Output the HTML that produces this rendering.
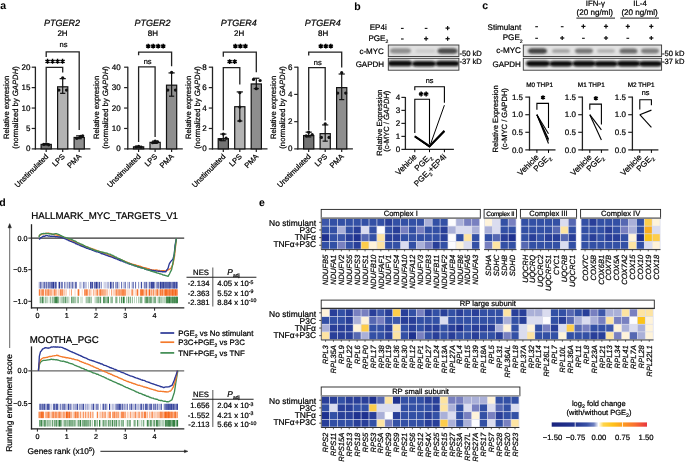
<!DOCTYPE html>
<html><head><meta charset="utf-8"><style>
html,body{margin:0;padding:0;background:#fff;}
body{width:685px;height:462px;overflow:hidden;}
svg{display:block;font-family:"Liberation Sans", sans-serif;opacity:0.999;text-rendering:geometricPrecision;}
text{stroke:#000;stroke-width:0.22px;stroke-linejoin:round;}
text[font-weight=bold]{stroke-width:0.05px;}
</style></head><body>
<svg width="685" height="462" viewBox="0 0 685 462">
<rect width="685" height="462" fill="#fff"/>
<text x="0.30" y="9.40" font-size="10.5" font-weight="bold">a</text>
<text x="354.30" y="9.90" font-size="10.5" font-weight="bold">b</text>
<text x="482.30" y="9.40" font-size="10.5" font-weight="bold">c</text>
<text x="-0.70" y="205.80" font-size="10.5" font-weight="bold">d</text>
<text x="258.90" y="205.60" font-size="10.5" font-weight="bold">e</text>
<line x1="35.40" y1="66.70" x2="35.40" y2="149.50" stroke="#222" stroke-width="1.3"/>
<line x1="34.80" y1="148.90" x2="90.40" y2="148.90" stroke="#222" stroke-width="1.3"/>
<line x1="31.70" y1="148.90" x2="35.40" y2="148.90" stroke="#222" stroke-width="1.2"/>
<text x="30.50" y="151.40" font-size="8.0" text-anchor="end">0</text>
<line x1="31.70" y1="128.47" x2="35.40" y2="128.47" stroke="#222" stroke-width="1.2"/>
<text x="30.50" y="130.97" font-size="8.0" text-anchor="end">5</text>
<line x1="31.70" y1="108.05" x2="35.40" y2="108.05" stroke="#222" stroke-width="1.2"/>
<text x="30.50" y="110.55" font-size="8.0" text-anchor="end">10</text>
<line x1="31.70" y1="87.62" x2="35.40" y2="87.62" stroke="#222" stroke-width="1.2"/>
<text x="30.50" y="90.12" font-size="8.0" text-anchor="end">15</text>
<line x1="31.70" y1="67.20" x2="35.40" y2="67.20" stroke="#222" stroke-width="1.2"/>
<text x="30.50" y="69.70" font-size="8.0" text-anchor="end">20</text>
<rect x="41.10" y="144.41" width="10.20" height="4.49" fill="#737373" stroke="#111" stroke-width="1.2"/>
<line x1="46.20" y1="143.79" x2="46.20" y2="144.81" stroke="#111" stroke-width="1.2"/>
<line x1="43.10" y1="143.79" x2="49.30" y2="143.79" stroke="#111" stroke-width="1.2"/>
<line x1="43.60" y1="144.81" x2="48.80" y2="144.81" stroke="#111" stroke-width="1.2"/>
<circle cx="43.70" cy="144.41" r="1.6" fill="#111"/>
<circle cx="46.20" cy="143.79" r="1.6" fill="#111"/>
<circle cx="48.70" cy="144.81" r="1.6" fill="#111"/>
<line x1="46.20" y1="148.90" x2="46.20" y2="152.10" stroke="#222" stroke-width="1.2"/>
<rect x="57.60" y="86.81" width="10.20" height="62.09" fill="#b3b3b3" stroke="#111" stroke-width="1.2"/>
<line x1="62.70" y1="78.64" x2="62.70" y2="93.34" stroke="#111" stroke-width="1.2"/>
<line x1="59.60" y1="78.64" x2="65.80" y2="78.64" stroke="#111" stroke-width="1.2"/>
<line x1="60.10" y1="93.34" x2="65.30" y2="93.34" stroke="#111" stroke-width="1.2"/>
<circle cx="62.70" cy="77.82" r="1.6" fill="#111"/>
<circle cx="58.90" cy="90.08" r="1.6" fill="#111"/>
<circle cx="66.50" cy="90.08" r="1.6" fill="#111"/>
<line x1="62.70" y1="148.90" x2="62.70" y2="152.10" stroke="#222" stroke-width="1.2"/>
<rect x="74.10" y="137.46" width="10.20" height="11.44" fill="#8e8e8e" stroke="#111" stroke-width="1.2"/>
<line x1="79.20" y1="135.83" x2="79.20" y2="138.69" stroke="#111" stroke-width="1.2"/>
<line x1="76.10" y1="135.83" x2="82.30" y2="135.83" stroke="#111" stroke-width="1.2"/>
<line x1="76.60" y1="138.69" x2="81.80" y2="138.69" stroke="#111" stroke-width="1.2"/>
<circle cx="76.70" cy="138.28" r="1.6" fill="#111"/>
<circle cx="80.70" cy="136.24" r="1.6" fill="#111"/>
<circle cx="82.70" cy="135.83" r="1.6" fill="#111"/>
<line x1="79.20" y1="148.90" x2="79.20" y2="152.10" stroke="#222" stroke-width="1.2"/>
<text x="48.80" y="157.00" font-size="7.5" text-anchor="end" transform="rotate(-45 48.80 157.00)">Unstimulated</text>
<text x="65.30" y="157.00" font-size="7.5" text-anchor="end" transform="rotate(-45 65.30 157.00)">LPS</text>
<text x="81.80" y="157.00" font-size="7.5" text-anchor="end" transform="rotate(-45 81.80 157.00)">PMA</text>
<text x="62.10" y="26.00" font-size="9.0" text-anchor="middle" font-style="italic">PTGER2</text>
<text x="62.50" y="35.70" font-size="8.0" text-anchor="middle">2H</text>
<text x="9.10" y="107.45" font-size="7.7" text-anchor="middle" transform="rotate(-90 9.10 107.45)">Relative expresion</text>
<text x="17.80" y="107.45" font-size="7.7" text-anchor="middle" transform="rotate(-90 17.80 107.45)">(normalized by <tspan font-style="italic">GAPDH</tspan>)</text>
<path d="M46.20 57.00 V51.80 H79.20 V130.00" stroke="#222" stroke-width="1.3" fill="none"/>
<text x="63.50" y="46.60" font-size="7.5" text-anchor="middle">ns</text>
<path d="M46.20 142.00 V67.30 H62.70 V72.60" stroke="#222" stroke-width="1.3" fill="none"/>
<path d="M47.55 58.85 L47.55 63.75 M45.43 60.07 L49.67 62.52 M49.67 60.07 L45.43 62.52 " stroke="#000" stroke-width="1.45" fill="none"/>
<path d="M52.55 58.85 L52.55 63.75 M50.43 60.07 L54.67 62.52 M54.67 60.07 L50.43 62.52 " stroke="#000" stroke-width="1.45" fill="none"/>
<path d="M57.55 58.85 L57.55 63.75 M55.43 60.07 L59.67 62.52 M59.67 60.07 L55.43 62.52 " stroke="#000" stroke-width="1.45" fill="none"/>
<path d="M62.55 58.85 L62.55 63.75 M60.43 60.07 L64.67 62.52 M64.67 60.07 L60.43 62.52 " stroke="#000" stroke-width="1.45" fill="none"/>
<line x1="127.80" y1="66.70" x2="127.80" y2="149.50" stroke="#222" stroke-width="1.3"/>
<line x1="127.20" y1="148.90" x2="182.80" y2="148.90" stroke="#222" stroke-width="1.3"/>
<line x1="124.10" y1="148.90" x2="127.80" y2="148.90" stroke="#222" stroke-width="1.2"/>
<text x="120.60" y="151.40" font-size="8.0" text-anchor="end">0</text>
<line x1="124.10" y1="128.47" x2="127.80" y2="128.47" stroke="#222" stroke-width="1.2"/>
<text x="120.60" y="130.97" font-size="8.0" text-anchor="end">10</text>
<line x1="124.10" y1="108.05" x2="127.80" y2="108.05" stroke="#222" stroke-width="1.2"/>
<text x="120.60" y="110.55" font-size="8.0" text-anchor="end">20</text>
<line x1="124.10" y1="87.62" x2="127.80" y2="87.62" stroke="#222" stroke-width="1.2"/>
<text x="120.60" y="90.12" font-size="8.0" text-anchor="end">30</text>
<line x1="124.10" y1="67.20" x2="127.80" y2="67.20" stroke="#222" stroke-width="1.2"/>
<text x="120.60" y="69.70" font-size="8.0" text-anchor="end">40</text>
<rect x="133.50" y="146.86" width="10.20" height="2.04" fill="#737373" stroke="#111" stroke-width="1.2"/>
<line x1="138.60" y1="146.45" x2="138.60" y2="147.06" stroke="#111" stroke-width="1.2"/>
<line x1="135.50" y1="146.45" x2="141.70" y2="146.45" stroke="#111" stroke-width="1.2"/>
<line x1="136.00" y1="147.06" x2="141.20" y2="147.06" stroke="#111" stroke-width="1.2"/>
<circle cx="136.10" cy="146.86" r="1.6" fill="#111"/>
<circle cx="138.60" cy="146.24" r="1.6" fill="#111"/>
<circle cx="141.10" cy="147.06" r="1.6" fill="#111"/>
<line x1="138.60" y1="148.90" x2="138.60" y2="152.10" stroke="#222" stroke-width="1.2"/>
<rect x="150.00" y="142.36" width="10.20" height="6.54" fill="#b3b3b3" stroke="#111" stroke-width="1.2"/>
<line x1="155.10" y1="141.14" x2="155.10" y2="143.39" stroke="#111" stroke-width="1.2"/>
<line x1="152.00" y1="141.14" x2="158.20" y2="141.14" stroke="#111" stroke-width="1.2"/>
<line x1="152.50" y1="143.39" x2="157.70" y2="143.39" stroke="#111" stroke-width="1.2"/>
<circle cx="152.60" cy="142.77" r="1.6" fill="#111"/>
<circle cx="155.10" cy="141.14" r="1.6" fill="#111"/>
<circle cx="157.60" cy="141.96" r="1.6" fill="#111"/>
<line x1="155.10" y1="148.90" x2="155.10" y2="152.10" stroke="#222" stroke-width="1.2"/>
<rect x="166.50" y="85.17" width="10.20" height="63.73" fill="#8e8e8e" stroke="#111" stroke-width="1.2"/>
<line x1="171.60" y1="72.92" x2="171.60" y2="96.20" stroke="#111" stroke-width="1.2"/>
<line x1="168.50" y1="72.92" x2="174.70" y2="72.92" stroke="#111" stroke-width="1.2"/>
<line x1="169.00" y1="96.20" x2="174.20" y2="96.20" stroke="#111" stroke-width="1.2"/>
<circle cx="171.60" cy="72.31" r="1.6" fill="#111"/>
<circle cx="167.80" cy="90.08" r="1.6" fill="#111"/>
<circle cx="175.40" cy="90.08" r="1.6" fill="#111"/>
<line x1="171.60" y1="148.90" x2="171.60" y2="152.10" stroke="#222" stroke-width="1.2"/>
<text x="141.20" y="157.00" font-size="7.5" text-anchor="end" transform="rotate(-45 141.20 157.00)">Unstimulated</text>
<text x="157.70" y="157.00" font-size="7.5" text-anchor="end" transform="rotate(-45 157.70 157.00)">LPS</text>
<text x="174.20" y="157.00" font-size="7.5" text-anchor="end" transform="rotate(-45 174.20 157.00)">PMA</text>
<text x="152.50" y="26.00" font-size="9.0" text-anchor="middle" font-style="italic">PTGER2</text>
<text x="152.90" y="35.70" font-size="8.0" text-anchor="middle">8H</text>
<text x="98.90" y="107.45" font-size="7.7" text-anchor="middle" transform="rotate(-90 98.90 107.45)">Relative expresion</text>
<text x="107.60" y="107.45" font-size="7.7" text-anchor="middle" transform="rotate(-90 107.60 107.45)">(normalized by <tspan font-style="italic">GAPDH</tspan>)</text>
<path d="M138.60 55.20 V52.10 H171.60 V66.30" stroke="#222" stroke-width="1.3" fill="none"/>
<path d="M148.20 43.65 L148.20 48.55 M146.08 44.88 L150.32 47.33 M150.32 44.88 L146.08 47.33 " stroke="#000" stroke-width="1.45" fill="none"/>
<path d="M153.20 43.65 L153.20 48.55 M151.08 44.88 L155.32 47.33 M155.32 44.88 L151.08 47.33 " stroke="#000" stroke-width="1.45" fill="none"/>
<path d="M158.20 43.65 L158.20 48.55 M156.08 44.88 L160.32 47.33 M160.32 44.88 L156.08 47.33 " stroke="#000" stroke-width="1.45" fill="none"/>
<path d="M163.20 43.65 L163.20 48.55 M161.08 44.88 L165.32 47.33 M165.32 44.88 L161.08 47.33 " stroke="#000" stroke-width="1.45" fill="none"/>
<path d="M138.60 142.00 V66.90 H155.10 V137.10" stroke="#222" stroke-width="1.3" fill="none"/>
<text x="147.65" y="63.80" font-size="7.5" text-anchor="middle">ns</text>
<line x1="212.50" y1="66.70" x2="212.50" y2="149.50" stroke="#222" stroke-width="1.3"/>
<line x1="211.90" y1="148.90" x2="267.50" y2="148.90" stroke="#222" stroke-width="1.3"/>
<line x1="208.80" y1="148.90" x2="212.50" y2="148.90" stroke="#222" stroke-width="1.2"/>
<text x="206.60" y="151.40" font-size="8.0" text-anchor="end">0</text>
<line x1="208.80" y1="128.47" x2="212.50" y2="128.47" stroke="#222" stroke-width="1.2"/>
<text x="206.60" y="130.97" font-size="8.0" text-anchor="end">2</text>
<line x1="208.80" y1="108.05" x2="212.50" y2="108.05" stroke="#222" stroke-width="1.2"/>
<text x="206.60" y="110.55" font-size="8.0" text-anchor="end">4</text>
<line x1="208.80" y1="87.62" x2="212.50" y2="87.62" stroke="#222" stroke-width="1.2"/>
<text x="206.60" y="90.12" font-size="8.0" text-anchor="end">6</text>
<line x1="208.80" y1="67.20" x2="212.50" y2="67.20" stroke="#222" stroke-width="1.2"/>
<text x="206.60" y="69.70" font-size="8.0" text-anchor="end">8</text>
<rect x="218.20" y="138.69" width="10.20" height="10.21" fill="#737373" stroke="#111" stroke-width="1.2"/>
<line x1="223.30" y1="134.09" x2="223.30" y2="140.73" stroke="#111" stroke-width="1.2"/>
<line x1="220.20" y1="134.09" x2="226.40" y2="134.09" stroke="#111" stroke-width="1.2"/>
<line x1="220.70" y1="140.73" x2="225.90" y2="140.73" stroke="#111" stroke-width="1.2"/>
<circle cx="223.30" cy="134.09" r="1.6" fill="#111"/>
<circle cx="220.50" cy="139.71" r="1.6" fill="#111"/>
<circle cx="226.10" cy="138.18" r="1.6" fill="#111"/>
<line x1="223.30" y1="148.90" x2="223.30" y2="152.10" stroke="#222" stroke-width="1.2"/>
<rect x="234.70" y="106.72" width="10.20" height="42.18" fill="#b3b3b3" stroke="#111" stroke-width="1.2"/>
<line x1="239.80" y1="91.91" x2="239.80" y2="121.02" stroke="#111" stroke-width="1.2"/>
<line x1="236.70" y1="91.91" x2="242.90" y2="91.91" stroke="#111" stroke-width="1.2"/>
<line x1="237.20" y1="121.02" x2="242.40" y2="121.02" stroke="#111" stroke-width="1.2"/>
<circle cx="239.80" cy="92.73" r="1.6" fill="#111"/>
<circle cx="239.80" cy="107.03" r="1.6" fill="#111"/>
<circle cx="239.80" cy="120.82" r="1.6" fill="#111"/>
<line x1="239.80" y1="148.90" x2="239.80" y2="152.10" stroke="#222" stroke-width="1.2"/>
<rect x="251.20" y="83.95" width="10.20" height="64.95" fill="#8e8e8e" stroke="#111" stroke-width="1.2"/>
<line x1="256.30" y1="78.23" x2="256.30" y2="88.65" stroke="#111" stroke-width="1.2"/>
<line x1="253.20" y1="78.23" x2="259.40" y2="78.23" stroke="#111" stroke-width="1.2"/>
<line x1="253.70" y1="88.65" x2="258.90" y2="88.65" stroke="#111" stroke-width="1.2"/>
<circle cx="253.50" cy="79.45" r="1.6" fill="#111"/>
<circle cx="260.10" cy="80.48" r="1.6" fill="#111"/>
<circle cx="256.30" cy="88.65" r="1.6" fill="#111"/>
<line x1="256.30" y1="148.90" x2="256.30" y2="152.10" stroke="#222" stroke-width="1.2"/>
<text x="225.90" y="157.00" font-size="7.5" text-anchor="end" transform="rotate(-45 225.90 157.00)">Unstimulated</text>
<text x="242.40" y="157.00" font-size="7.5" text-anchor="end" transform="rotate(-45 242.40 157.00)">LPS</text>
<text x="258.90" y="157.00" font-size="7.5" text-anchor="end" transform="rotate(-45 258.90 157.00)">PMA</text>
<text x="238.80" y="26.00" font-size="9.0" text-anchor="middle" font-style="italic">PTGER4</text>
<text x="239.20" y="35.70" font-size="8.0" text-anchor="middle">2H</text>
<text x="191.10" y="107.45" font-size="7.7" text-anchor="middle" transform="rotate(-90 191.10 107.45)">Relative expresion</text>
<text x="199.80" y="107.45" font-size="7.7" text-anchor="middle" transform="rotate(-90 199.80 107.45)">(normalized by <tspan font-style="italic">GAPDH</tspan>)</text>
<path d="M223.30 56.80 V52.10 H256.30 V72.20" stroke="#222" stroke-width="1.3" fill="none"/>
<path d="M235.40 43.65 L235.40 48.55 M233.28 44.88 L237.52 47.33 M237.52 44.88 L233.28 47.33 " stroke="#000" stroke-width="1.45" fill="none"/>
<path d="M240.40 43.65 L240.40 48.55 M238.28 44.88 L242.52 47.33 M242.52 44.88 L238.28 47.33 " stroke="#000" stroke-width="1.45" fill="none"/>
<path d="M245.40 43.65 L245.40 48.55 M243.28 44.88 L247.52 47.33 M247.52 44.88 L243.28 47.33 " stroke="#000" stroke-width="1.45" fill="none"/>
<path d="M223.30 130.30 V67.60 H239.80 V84.50" stroke="#222" stroke-width="1.3" fill="none"/>
<path d="M229.65 59.15 L229.65 64.05 M227.53 60.37 L231.77 62.82 M231.77 60.37 L227.53 62.82 " stroke="#000" stroke-width="1.45" fill="none"/>
<path d="M234.65 59.15 L234.65 64.05 M232.53 60.37 L236.77 62.82 M236.77 60.37 L232.53 62.82 " stroke="#000" stroke-width="1.45" fill="none"/>
<line x1="297.90" y1="66.70" x2="297.90" y2="149.50" stroke="#222" stroke-width="1.3"/>
<line x1="297.30" y1="148.90" x2="352.90" y2="148.90" stroke="#222" stroke-width="1.3"/>
<line x1="294.20" y1="148.90" x2="297.90" y2="148.90" stroke="#222" stroke-width="1.2"/>
<text x="292.40" y="151.40" font-size="8.0" text-anchor="end">0</text>
<line x1="294.20" y1="121.67" x2="297.90" y2="121.67" stroke="#222" stroke-width="1.2"/>
<text x="292.40" y="124.17" font-size="8.0" text-anchor="end">2</text>
<line x1="294.20" y1="94.43" x2="297.90" y2="94.43" stroke="#222" stroke-width="1.2"/>
<text x="292.40" y="96.93" font-size="8.0" text-anchor="end">4</text>
<line x1="294.20" y1="67.20" x2="297.90" y2="67.20" stroke="#222" stroke-width="1.2"/>
<text x="292.40" y="69.70" font-size="8.0" text-anchor="end">6</text>
<rect x="303.60" y="135.56" width="10.20" height="13.34" fill="#737373" stroke="#111" stroke-width="1.2"/>
<line x1="308.70" y1="132.15" x2="308.70" y2="136.92" stroke="#111" stroke-width="1.2"/>
<line x1="305.60" y1="132.15" x2="311.80" y2="132.15" stroke="#111" stroke-width="1.2"/>
<line x1="306.10" y1="136.92" x2="311.30" y2="136.92" stroke="#111" stroke-width="1.2"/>
<circle cx="308.70" cy="132.15" r="1.6" fill="#111"/>
<circle cx="312.20" cy="134.60" r="1.6" fill="#111"/>
<circle cx="306.20" cy="135.96" r="1.6" fill="#111"/>
<line x1="308.70" y1="148.90" x2="308.70" y2="152.10" stroke="#222" stroke-width="1.2"/>
<rect x="320.10" y="133.65" width="10.20" height="15.25" fill="#b3b3b3" stroke="#111" stroke-width="1.2"/>
<line x1="325.20" y1="124.93" x2="325.20" y2="141.14" stroke="#111" stroke-width="1.2"/>
<line x1="322.10" y1="124.93" x2="328.30" y2="124.93" stroke="#111" stroke-width="1.2"/>
<line x1="322.60" y1="141.14" x2="327.80" y2="141.14" stroke="#111" stroke-width="1.2"/>
<circle cx="325.20" cy="123.85" r="1.6" fill="#111"/>
<circle cx="321.40" cy="137.46" r="1.6" fill="#111"/>
<circle cx="329.00" cy="137.46" r="1.6" fill="#111"/>
<line x1="325.20" y1="148.90" x2="325.20" y2="152.10" stroke="#222" stroke-width="1.2"/>
<rect x="336.60" y="87.62" width="10.20" height="61.28" fill="#8e8e8e" stroke="#111" stroke-width="1.2"/>
<line x1="341.70" y1="74.01" x2="341.70" y2="99.61" stroke="#111" stroke-width="1.2"/>
<line x1="338.60" y1="74.01" x2="344.80" y2="74.01" stroke="#111" stroke-width="1.2"/>
<line x1="339.10" y1="99.61" x2="344.30" y2="99.61" stroke="#111" stroke-width="1.2"/>
<circle cx="341.70" cy="72.65" r="1.6" fill="#111"/>
<circle cx="337.70" cy="93.07" r="1.6" fill="#111"/>
<circle cx="345.70" cy="93.07" r="1.6" fill="#111"/>
<line x1="341.70" y1="148.90" x2="341.70" y2="152.10" stroke="#222" stroke-width="1.2"/>
<text x="311.30" y="157.00" font-size="7.5" text-anchor="end" transform="rotate(-45 311.30 157.00)">Unstimulated</text>
<text x="327.80" y="157.00" font-size="7.5" text-anchor="end" transform="rotate(-45 327.80 157.00)">LPS</text>
<text x="344.30" y="157.00" font-size="7.5" text-anchor="end" transform="rotate(-45 344.30 157.00)">PMA</text>
<text x="322.80" y="26.00" font-size="9.0" text-anchor="middle" font-style="italic">PTGER4</text>
<text x="323.20" y="35.70" font-size="8.0" text-anchor="middle">8H</text>
<text x="276.50" y="107.45" font-size="7.7" text-anchor="middle" transform="rotate(-90 276.50 107.45)">Relative expresion</text>
<text x="285.20" y="107.45" font-size="7.7" text-anchor="middle" transform="rotate(-90 285.20 107.45)">(normalized by <tspan font-style="italic">GAPDH</tspan>)</text>
<path d="M308.70 55.50 V52.10 H341.70 V67.60" stroke="#222" stroke-width="1.3" fill="none"/>
<path d="M320.80 43.65 L320.80 48.55 M318.68 44.88 L322.92 47.33 M322.92 44.88 L318.68 47.33 " stroke="#000" stroke-width="1.45" fill="none"/>
<path d="M325.80 43.65 L325.80 48.55 M323.68 44.88 L327.92 47.33 M327.92 44.88 L323.68 47.33 " stroke="#000" stroke-width="1.45" fill="none"/>
<path d="M330.80 43.65 L330.80 48.55 M328.68 44.88 L332.92 47.33 M332.92 44.88 L328.68 47.33 " stroke="#000" stroke-width="1.45" fill="none"/>
<path d="M308.70 130.30 V67.60 H325.20 V120.50" stroke="#222" stroke-width="1.3" fill="none"/>
<text x="317.75" y="64.50" font-size="7.5" text-anchor="middle">ns</text>
<defs><filter id="bl" x="-50%" y="-50%" width="200%" height="200%"><feGaussianBlur stdDeviation="1.1"/></filter><filter id="bl2" x="-50%" y="-50%" width="200%" height="200%"><feGaussianBlur stdDeviation="0.7"/></filter></defs>
<text x="386.80" y="29.60" font-size="8.1" text-anchor="end">EP4i</text>
<text x="388.30" y="40.80" font-size="8.1" text-anchor="end">PGE<tspan font-size="5.02" dy="2.43">2</tspan></text>
<line x1="400.95" y1="28.40" x2="403.65" y2="28.40" stroke="#111" stroke-width="1.1"/>
<line x1="400.95" y1="39.00" x2="403.65" y2="39.00" stroke="#111" stroke-width="1.1"/>
<line x1="424.75" y1="28.40" x2="427.45" y2="28.40" stroke="#111" stroke-width="1.1"/>
<line x1="424.00" y1="38.70" x2="428.20" y2="38.70" stroke="#111" stroke-width="1.25"/>
<line x1="426.10" y1="36.60" x2="426.10" y2="40.80" stroke="#111" stroke-width="1.25"/>
<line x1="445.50" y1="28.10" x2="449.70" y2="28.10" stroke="#111" stroke-width="1.25"/>
<line x1="447.60" y1="26.00" x2="447.60" y2="30.20" stroke="#111" stroke-width="1.25"/>
<line x1="445.50" y1="38.70" x2="449.70" y2="38.70" stroke="#111" stroke-width="1.25"/>
<line x1="447.60" y1="36.60" x2="447.60" y2="40.80" stroke="#111" stroke-width="1.25"/>
<text x="383.90" y="53.50" font-size="8.0" text-anchor="end">c-MYC</text>
<text x="384.10" y="67.40" font-size="8.0" text-anchor="end">GAPDH</text>
<svg x="388.3" y="45.0" width="70.59999999999997" height="11.5" overflow="hidden"><rect x="0" y="0" width="70.59999999999997" height="11.5" fill="#e0e0e0"/>
<rect x="1.70" y="3.20" width="21.00" height="5.20" rx="4.16" ry="2.60" fill="#8e8e8e" filter="url(#bl)"/>
<rect x="27.20" y="4.00" width="20.00" height="4.00" rx="3.20" ry="2.00" fill="#cdcdcd" filter="url(#bl)"/>
<rect x="49.20" y="3.20" width="20.00" height="5.60" rx="4.48" ry="2.80" fill="#4c4c4c" filter="url(#bl)"/>
</svg>
<rect x="388.30" y="45.00" width="70.60" height="11.50" fill="none" stroke="#333" stroke-width="0.9"/>
<svg x="388.3" y="58.3" width="70.59999999999997" height="11.900000000000006" overflow="hidden"><rect x="0" y="0" width="70.59999999999997" height="11.900000000000006" fill="#ebebeb"/>
<rect x="-0.50" y="2.30" width="24.40" height="5.60" rx="4.48" ry="2.80" fill="#111" filter="url(#bl)"/>
<rect x="23.70" y="2.60" width="24.00" height="5.60" rx="4.48" ry="2.80" fill="#111" filter="url(#bl)"/>
<rect x="47.20" y="2.40" width="24.00" height="5.60" rx="4.48" ry="2.80" fill="#111" filter="url(#bl)"/>
</svg>
<rect x="388.30" y="58.30" width="70.60" height="11.90" fill="none" stroke="#333" stroke-width="0.9"/>
<text x="459.40" y="55.90" font-size="7.6">-50 kD</text>
<text x="459.40" y="63.90" font-size="7.6">-37 kD</text>
<line x1="405.40" y1="97.00" x2="405.40" y2="150.00" stroke="#222" stroke-width="1.3"/>
<line x1="404.80" y1="149.40" x2="453.90" y2="149.40" stroke="#222" stroke-width="1.3"/>
<line x1="401.40" y1="149.40" x2="405.40" y2="149.40" stroke="#222" stroke-width="1.2"/>
<text x="400.10" y="152.20" font-size="8.0" text-anchor="end">0</text>
<line x1="401.40" y1="136.40" x2="405.40" y2="136.40" stroke="#222" stroke-width="1.2"/>
<text x="400.10" y="139.20" font-size="8.0" text-anchor="end">1</text>
<line x1="401.40" y1="123.40" x2="405.40" y2="123.40" stroke="#222" stroke-width="1.2"/>
<text x="400.10" y="126.20" font-size="8.0" text-anchor="end">2</text>
<line x1="401.40" y1="110.40" x2="405.40" y2="110.40" stroke="#222" stroke-width="1.2"/>
<text x="400.10" y="113.20" font-size="8.0" text-anchor="end">3</text>
<line x1="401.40" y1="97.40" x2="405.40" y2="97.40" stroke="#222" stroke-width="1.2"/>
<text x="400.10" y="100.20" font-size="8.0" text-anchor="end">4</text>
<line x1="414.80" y1="149.40" x2="414.80" y2="152.20" stroke="#000" stroke-width="1.0"/>
<line x1="429.50" y1="149.40" x2="429.50" y2="152.20" stroke="#000" stroke-width="1.0"/>
<line x1="444.40" y1="149.40" x2="444.40" y2="152.20" stroke="#000" stroke-width="1.0"/>
<path d="M414.8 136.40 L429.5 146.15 L444.4 130.81" stroke="#000" stroke-width="2.0" fill="none" stroke-linejoin="round"/>
<path d="M414.8 136.40 L429.5 146.80 L444.4 131.46" stroke="#000" stroke-width="1.4" fill="none"/>
<path d="M414.8 136.40 L429.5 147.06 L444.4 105.20" stroke="#000" stroke-width="1.0" fill="none"/>
<path d="M414.8 133.0 V99.3 H429.5 V144.3" stroke="#000" stroke-width="1.1" fill="none"/>
<path d="M421.15 91.55 L421.15 96.45 M419.03 92.78 L423.27 95.22 M423.27 92.78 L419.03 95.22 " stroke="#000" stroke-width="1.45" fill="none"/>
<path d="M426.15 91.55 L426.15 96.45 M424.03 92.78 L428.27 95.22 M428.27 92.78 L424.03 95.22 " stroke="#000" stroke-width="1.45" fill="none"/>
<path d="M414.8 90.3 V86.8 H444.4 V102.7" stroke="#000" stroke-width="1.1" fill="none"/>
<text x="429.60" y="83.30" font-size="7.3" text-anchor="middle">ns</text>
<text x="381.60" y="122.60" font-size="7.5" text-anchor="middle" transform="rotate(-90 381.60 122.60)">Relative Expression</text>
<text x="389.40" y="121.20" font-size="7.5" text-anchor="middle" transform="rotate(-90 389.40 121.20)">(c-MYC / <tspan font-style="italic">GAPDH</tspan>)</text>
<text x="417.20" y="157.40" font-size="8.1" text-anchor="end" transform="rotate(-45 417.20 157.40)">Vehicle</text>
<text x="431.90" y="157.40" font-size="8.1" text-anchor="end" transform="rotate(-45 431.90 157.40)">PGE<tspan font-size="5.02" dy="2.43">2</tspan></text>
<text x="446.80" y="157.40" font-size="8.1" text-anchor="end" transform="rotate(-45 446.80 157.40)">PGE<tspan font-size="5.0" dy="2.4">2</tspan><tspan dy="-2.4">+EP4i</tspan></text>
<text x="521.30" y="29.70" font-size="8.1" text-anchor="end">Stimulant</text>
<text x="522.60" y="40.30" font-size="8.1" text-anchor="end">PGE<tspan font-size="5.02" dy="2.43">2</tspan></text>
<line x1="535.25" y1="26.70" x2="537.95" y2="26.70" stroke="#111" stroke-width="1.1"/>
<line x1="535.25" y1="38.30" x2="537.95" y2="38.30" stroke="#111" stroke-width="1.1"/>
<line x1="560.85" y1="26.70" x2="563.55" y2="26.70" stroke="#111" stroke-width="1.1"/>
<line x1="560.10" y1="38.00" x2="564.30" y2="38.00" stroke="#111" stroke-width="1.25"/>
<line x1="562.20" y1="35.90" x2="562.20" y2="40.10" stroke="#111" stroke-width="1.25"/>
<line x1="581.30" y1="26.40" x2="585.50" y2="26.40" stroke="#111" stroke-width="1.25"/>
<line x1="583.40" y1="24.30" x2="583.40" y2="28.50" stroke="#111" stroke-width="1.25"/>
<line x1="582.05" y1="38.30" x2="584.75" y2="38.30" stroke="#111" stroke-width="1.1"/>
<line x1="603.90" y1="26.40" x2="608.10" y2="26.40" stroke="#111" stroke-width="1.25"/>
<line x1="606.00" y1="24.30" x2="606.00" y2="28.50" stroke="#111" stroke-width="1.25"/>
<line x1="603.90" y1="38.00" x2="608.10" y2="38.00" stroke="#111" stroke-width="1.25"/>
<line x1="606.00" y1="35.90" x2="606.00" y2="40.10" stroke="#111" stroke-width="1.25"/>
<line x1="625.70" y1="26.40" x2="629.90" y2="26.40" stroke="#111" stroke-width="1.25"/>
<line x1="627.80" y1="24.30" x2="627.80" y2="28.50" stroke="#111" stroke-width="1.25"/>
<line x1="626.45" y1="38.30" x2="629.15" y2="38.30" stroke="#111" stroke-width="1.1"/>
<line x1="649.20" y1="26.40" x2="653.40" y2="26.40" stroke="#111" stroke-width="1.25"/>
<line x1="651.30" y1="24.30" x2="651.30" y2="28.50" stroke="#111" stroke-width="1.25"/>
<line x1="649.20" y1="38.00" x2="653.40" y2="38.00" stroke="#111" stroke-width="1.25"/>
<line x1="651.30" y1="35.90" x2="651.30" y2="40.10" stroke="#111" stroke-width="1.25"/>
<text x="595.30" y="6.00" font-size="7.8" text-anchor="middle">IFN-γ</text>
<text x="594.70" y="15.30" font-size="8.1" text-anchor="middle">(20 ng/ml)</text>
<line x1="576.40" y1="18.10" x2="615.00" y2="18.10" stroke="#000" stroke-width="0.9"/>
<text x="640.00" y="6.00" font-size="7.8" text-anchor="middle">IL-4</text>
<text x="639.60" y="15.30" font-size="8.1" text-anchor="middle">(20 ng/ml)</text>
<line x1="620.40" y1="18.10" x2="659.00" y2="18.10" stroke="#000" stroke-width="0.9"/>
<text x="520.90" y="53.40" font-size="8.1" text-anchor="end">c-MYC</text>
<text x="520.90" y="67.20" font-size="8.0" text-anchor="end">GAPDH</text>
<svg x="523.3" y="45.0" width="138.30000000000007" height="11.5" overflow="hidden"><rect x="0" y="0" width="138.30000000000007" height="11.5" fill="#e2e2e2"/>
<rect x="4.70" y="3.30" width="19.00" height="5.40" rx="4.32" ry="2.70" fill="#444" filter="url(#bl)"/>
<rect x="28.70" y="3.90" width="18.00" height="4.20" rx="3.36" ry="2.10" fill="#a6a6a6" filter="url(#bl)"/>
<rect x="51.70" y="3.60" width="18.00" height="4.80" rx="3.84" ry="2.40" fill="#767676" filter="url(#bl)"/>
<rect x="73.70" y="4.10" width="18.00" height="3.80" rx="3.04" ry="1.90" fill="#b4b4b4" filter="url(#bl)"/>
<rect x="96.20" y="3.40" width="18.00" height="5.20" rx="4.16" ry="2.60" fill="#6a6a6a" filter="url(#bl)"/>
<rect x="117.70" y="3.60" width="18.00" height="4.80" rx="3.84" ry="2.40" fill="#7e7e7e" filter="url(#bl)"/>
</svg>
<rect x="523.30" y="45.00" width="138.30" height="11.50" fill="none" stroke="#333" stroke-width="0.9"/>
<svg x="523.3" y="58.3" width="138.30000000000007" height="11.900000000000006" overflow="hidden"><rect x="0" y="0" width="138.30000000000007" height="11.900000000000006" fill="#ececec"/>
<rect x="2.70" y="2.50" width="24.00" height="5.60" rx="4.48" ry="2.80" fill="#0a0a0a" filter="url(#bl)"/>
<rect x="26.10" y="2.60" width="23.20" height="5.60" rx="4.48" ry="2.80" fill="#0a0a0a" filter="url(#bl)"/>
<rect x="49.10" y="2.50" width="23.20" height="5.60" rx="4.48" ry="2.80" fill="#0a0a0a" filter="url(#bl)"/>
<rect x="71.10" y="2.70" width="23.20" height="5.60" rx="4.48" ry="2.80" fill="#0a0a0a" filter="url(#bl)"/>
<rect x="93.60" y="2.50" width="23.20" height="5.60" rx="4.48" ry="2.80" fill="#0a0a0a" filter="url(#bl)"/>
<rect x="115.60" y="2.60" width="23.20" height="5.60" rx="4.48" ry="2.80" fill="#0a0a0a" filter="url(#bl)"/>
</svg>
<rect x="523.30" y="58.30" width="138.30" height="11.90" fill="none" stroke="#333" stroke-width="0.9"/>
<text x="662.00" y="55.80" font-size="7.6">-50 kD</text>
<text x="662.00" y="64.40" font-size="7.6">-37 kD</text>
<line x1="529.50" y1="96.60" x2="529.50" y2="150.50" stroke="#222" stroke-width="1.3"/>
<line x1="528.90" y1="149.90" x2="555.50" y2="149.90" stroke="#222" stroke-width="1.3"/>
<line x1="525.30" y1="149.90" x2="529.50" y2="149.90" stroke="#222" stroke-width="1.2"/>
<text x="523.00" y="152.60" font-size="8.0" text-anchor="end">0.0</text>
<line x1="525.30" y1="132.30" x2="529.50" y2="132.30" stroke="#222" stroke-width="1.2"/>
<text x="523.00" y="135.00" font-size="8.0" text-anchor="end">0.5</text>
<line x1="525.30" y1="114.70" x2="529.50" y2="114.70" stroke="#222" stroke-width="1.2"/>
<text x="523.00" y="117.40" font-size="8.0" text-anchor="end">1.0</text>
<line x1="525.30" y1="97.10" x2="529.50" y2="97.10" stroke="#222" stroke-width="1.2"/>
<text x="523.00" y="99.80" font-size="8.0" text-anchor="end">1.5</text>
<line x1="536.90" y1="149.90" x2="536.90" y2="152.90" stroke="#000" stroke-width="1.0"/>
<line x1="548.50" y1="149.90" x2="548.50" y2="152.90" stroke="#000" stroke-width="1.0"/>
<line x1="536.90" y1="114.70" x2="548.50" y2="133.71" stroke="#000" stroke-width="1.1"/>
<line x1="536.90" y1="114.70" x2="548.50" y2="138.99" stroke="#000" stroke-width="1.1"/>
<line x1="536.90" y1="114.70" x2="548.50" y2="140.40" stroke="#000" stroke-width="1.1"/>
<line x1="536.90" y1="114.70" x2="548.50" y2="143.56" stroke="#000" stroke-width="1.1"/>
<path d="M536.90 109.70 V103.40 H548.50 V128.00" stroke="#000" stroke-width="1.1" fill="none"/>
<path d="M543.00 95.20 L543.00 99.80 M541.01 96.35 L544.99 98.65 M544.99 96.35 L541.01 98.65 " stroke="#000" stroke-width="1.35" fill="none"/>
<text x="539.60" y="86.60" font-size="6.4" text-anchor="middle">M0 THP1</text>
<text x="539.30" y="157.90" font-size="8.1" text-anchor="end" transform="rotate(-45 539.30 157.90)">Vehicle</text>
<text x="550.90" y="157.90" font-size="8.1" text-anchor="end" transform="rotate(-45 550.90 157.90)">PGE<tspan font-size="5.02" dy="2.43">2</tspan></text>
<line x1="582.40" y1="96.60" x2="582.40" y2="150.50" stroke="#222" stroke-width="1.3"/>
<line x1="581.80" y1="149.90" x2="608.40" y2="149.90" stroke="#222" stroke-width="1.3"/>
<line x1="578.20" y1="149.90" x2="582.40" y2="149.90" stroke="#222" stroke-width="1.2"/>
<text x="575.90" y="152.60" font-size="8.0" text-anchor="end">0.0</text>
<line x1="578.20" y1="132.30" x2="582.40" y2="132.30" stroke="#222" stroke-width="1.2"/>
<text x="575.90" y="135.00" font-size="8.0" text-anchor="end">0.5</text>
<line x1="578.20" y1="114.70" x2="582.40" y2="114.70" stroke="#222" stroke-width="1.2"/>
<text x="575.90" y="117.40" font-size="8.0" text-anchor="end">1.0</text>
<line x1="578.20" y1="97.10" x2="582.40" y2="97.10" stroke="#222" stroke-width="1.2"/>
<text x="575.90" y="99.80" font-size="8.0" text-anchor="end">1.5</text>
<line x1="589.80" y1="149.90" x2="589.80" y2="152.90" stroke="#000" stroke-width="1.0"/>
<line x1="601.40" y1="149.90" x2="601.40" y2="152.90" stroke="#000" stroke-width="1.0"/>
<line x1="589.80" y1="114.70" x2="601.40" y2="129.84" stroke="#000" stroke-width="1.1"/>
<line x1="589.80" y1="114.70" x2="601.40" y2="140.04" stroke="#000" stroke-width="1.1"/>
<path d="M589.80 109.70 V104.10 H601.40 V124.50" stroke="#000" stroke-width="1.1" fill="none"/>
<path d="M595.90 95.90 L595.90 100.50 M593.91 97.05 L597.89 99.35 M597.89 97.05 L593.91 99.35 " stroke="#000" stroke-width="1.35" fill="none"/>
<text x="591.30" y="86.60" font-size="6.4" text-anchor="middle">M1 THP1</text>
<text x="592.20" y="157.90" font-size="8.1" text-anchor="end" transform="rotate(-45 592.20 157.90)">Vehicle</text>
<text x="603.80" y="157.90" font-size="8.1" text-anchor="end" transform="rotate(-45 603.80 157.90)">PGE<tspan font-size="5.02" dy="2.43">2</tspan></text>
<line x1="632.40" y1="96.60" x2="632.40" y2="150.50" stroke="#222" stroke-width="1.3"/>
<line x1="631.80" y1="149.90" x2="658.40" y2="149.90" stroke="#222" stroke-width="1.3"/>
<line x1="628.20" y1="149.90" x2="632.40" y2="149.90" stroke="#222" stroke-width="1.2"/>
<text x="625.90" y="152.60" font-size="8.0" text-anchor="end">0.0</text>
<line x1="628.20" y1="132.30" x2="632.40" y2="132.30" stroke="#222" stroke-width="1.2"/>
<text x="625.90" y="135.00" font-size="8.0" text-anchor="end">0.5</text>
<line x1="628.20" y1="114.70" x2="632.40" y2="114.70" stroke="#222" stroke-width="1.2"/>
<text x="625.90" y="117.40" font-size="8.0" text-anchor="end">1.0</text>
<line x1="628.20" y1="97.10" x2="632.40" y2="97.10" stroke="#222" stroke-width="1.2"/>
<text x="625.90" y="99.80" font-size="8.0" text-anchor="end">1.5</text>
<line x1="639.80" y1="149.90" x2="639.80" y2="152.90" stroke="#000" stroke-width="1.0"/>
<line x1="651.40" y1="149.90" x2="651.40" y2="152.90" stroke="#000" stroke-width="1.0"/>
<line x1="639.80" y1="114.70" x2="651.40" y2="110.12" stroke="#000" stroke-width="1.1"/>
<line x1="639.80" y1="114.70" x2="651.40" y2="127.37" stroke="#000" stroke-width="1.1"/>
<path d="M639.80 109.60 V99.80 H651.40 V105.20" stroke="#000" stroke-width="1.1" fill="none"/>
<text x="645.60" y="95.40" font-size="7.3" text-anchor="middle">ns</text>
<text x="641.10" y="86.60" font-size="6.4" text-anchor="middle">M2 THP1</text>
<text x="642.20" y="157.90" font-size="8.1" text-anchor="end" transform="rotate(-45 642.20 157.90)">Vehicle</text>
<text x="653.80" y="157.90" font-size="8.1" text-anchor="end" transform="rotate(-45 653.80 157.90)">PGE<tspan font-size="5.02" dy="2.43">2</tspan></text>
<text x="498.30" y="118.90" font-size="7.6" text-anchor="middle" transform="rotate(-90 498.30 118.90)">Relative Expression</text>
<text x="507.00" y="118.90" font-size="7.6" text-anchor="middle" transform="rotate(-90 507.00 118.90)">(c-MYC / GAPDH)</text>
<line x1="31.50" y1="224.20" x2="31.50" y2="308.50" stroke="#222" stroke-width="1.3"/>
<line x1="30.90" y1="307.90" x2="184.30" y2="307.90" stroke="#222" stroke-width="1.3"/>
<line x1="28.30" y1="238.10" x2="31.50" y2="238.10" stroke="#222" stroke-width="1.0"/>
<text x="27.50" y="240.60" font-size="7.2" text-anchor="end">0.0</text>
<line x1="28.30" y1="269.70" x2="31.50" y2="269.70" stroke="#222" stroke-width="1.0"/>
<text x="27.50" y="272.20" font-size="7.2" text-anchor="end">−0.5</text>
<line x1="28.30" y1="301.30" x2="31.50" y2="301.30" stroke="#222" stroke-width="1.0"/>
<text x="27.50" y="303.80" font-size="7.2" text-anchor="end">−1.0</text>
<line x1="37.40" y1="307.90" x2="37.40" y2="310.70" stroke="#222" stroke-width="1.0"/>
<text x="37.40" y="318.30" font-size="7.2" text-anchor="middle">0</text>
<line x1="66.70" y1="307.90" x2="66.70" y2="310.70" stroke="#222" stroke-width="1.0"/>
<text x="66.70" y="318.30" font-size="7.2" text-anchor="middle">1</text>
<line x1="96.00" y1="307.90" x2="96.00" y2="310.70" stroke="#222" stroke-width="1.0"/>
<text x="96.00" y="318.30" font-size="7.2" text-anchor="middle">2</text>
<line x1="125.30" y1="307.90" x2="125.30" y2="310.70" stroke="#222" stroke-width="1.0"/>
<text x="125.30" y="318.30" font-size="7.2" text-anchor="middle">3</text>
<line x1="154.60" y1="307.90" x2="154.60" y2="310.70" stroke="#222" stroke-width="1.0"/>
<text x="154.60" y="318.30" font-size="7.2" text-anchor="middle">4</text>
<text x="31.20" y="218.90" font-size="9.7">HALLMARK_MYC_TARGETS_V1</text>
<line x1="31.50" y1="238.10" x2="184.20" y2="238.10" stroke="#333" stroke-width="1.1"/>
<rect x="38.60" y="281.9" width="1.1" height="6.60" fill="#2a3896" fill-opacity="0.3"/><rect x="39.80" y="281.9" width="0.7" height="6.60" fill="#2a3896" fill-opacity="1.0"/><rect x="40.40" y="281.9" width="0.7" height="6.60" fill="#2a3896" fill-opacity="0.7"/><rect x="41.60" y="281.9" width="0.6" height="6.60" fill="#2a3896" fill-opacity="1.0"/><rect x="42.80" y="281.9" width="0.7" height="6.60" fill="#2a3896" fill-opacity="0.7"/><rect x="43.40" y="281.9" width="0.6" height="6.60" fill="#2a3896" fill-opacity="0.3"/><rect x="44.00" y="281.9" width="0.7" height="6.60" fill="#2a3896" fill-opacity="1.0"/><rect x="44.60" y="281.9" width="1.1" height="6.60" fill="#2a3896" fill-opacity="0.3"/><rect x="45.80" y="281.9" width="0.7" height="6.60" fill="#2a3896" fill-opacity="1.0"/><rect x="46.40" y="281.9" width="0.6" height="6.60" fill="#2a3896" fill-opacity="0.7"/><rect x="47.60" y="281.9" width="1.1" height="6.60" fill="#2a3896" fill-opacity="0.85"/><rect x="48.20" y="281.9" width="0.6" height="6.60" fill="#2a3896" fill-opacity="0.3"/><rect x="49.40" y="281.9" width="0.9" height="6.60" fill="#2a3896" fill-opacity="1.0"/><rect x="50.60" y="281.9" width="1.1" height="6.60" fill="#2a3896" fill-opacity="1.0"/><rect x="51.80" y="281.9" width="0.6" height="6.60" fill="#2a3896" fill-opacity="1.0"/><rect x="52.40" y="281.9" width="0.7" height="6.60" fill="#2a3896" fill-opacity="1.0"/><rect x="53.00" y="281.9" width="1.1" height="6.60" fill="#2a3896" fill-opacity="1.0"/><rect x="53.60" y="281.9" width="1.1" height="6.60" fill="#2a3896" fill-opacity="0.4"/><rect x="54.80" y="281.9" width="0.9" height="6.60" fill="#2a3896" fill-opacity="1.0"/><rect x="55.40" y="281.9" width="0.9" height="6.60" fill="#2a3896" fill-opacity="0.85"/><rect x="56.00" y="281.9" width="0.6" height="6.60" fill="#2a3896" fill-opacity="0.7"/><rect x="58.40" y="281.9" width="0.7" height="6.60" fill="#2a3896" fill-opacity="0.7"/><rect x="59.00" y="281.9" width="1.1" height="6.60" fill="#2a3896" fill-opacity="1.0"/><rect x="60.80" y="281.9" width="1.1" height="6.60" fill="#2a3896" fill-opacity="0.7"/><rect x="62.00" y="281.9" width="0.6" height="6.60" fill="#2a3896" fill-opacity="1.0"/><rect x="64.40" y="281.9" width="0.7" height="6.60" fill="#2a3896" fill-opacity="1.0"/><rect x="65.60" y="281.9" width="0.6" height="6.60" fill="#2a3896" fill-opacity="0.55"/><rect x="66.80" y="281.9" width="0.9" height="6.60" fill="#2a3896" fill-opacity="0.7"/><rect x="68.00" y="281.9" width="0.9" height="6.60" fill="#2a3896" fill-opacity="0.3"/><rect x="69.20" y="281.9" width="0.7" height="6.60" fill="#2a3896" fill-opacity="1.0"/><rect x="70.40" y="281.9" width="1.1" height="6.60" fill="#2a3896" fill-opacity="0.55"/><rect x="71.60" y="281.9" width="0.7" height="6.60" fill="#2a3896" fill-opacity="0.3"/><rect x="72.20" y="281.9" width="0.7" height="6.60" fill="#2a3896" fill-opacity="1.0"/><rect x="73.40" y="281.9" width="0.7" height="6.60" fill="#2a3896" fill-opacity="0.55"/><rect x="74.60" y="281.9" width="0.7" height="6.60" fill="#2a3896" fill-opacity="0.4"/><rect x="75.00" y="281.9" width="1.1" height="6.60" fill="#2a3896" fill-opacity="0.7"/><rect x="76.20" y="281.9" width="0.6" height="6.60" fill="#2a3896" fill-opacity="1.0"/><rect x="79.20" y="281.9" width="1.1" height="6.60" fill="#2a3896" fill-opacity="0.3"/><rect x="80.40" y="281.9" width="0.6" height="6.60" fill="#2a3896" fill-opacity="0.4"/><rect x="81.60" y="281.9" width="0.6" height="6.60" fill="#2a3896" fill-opacity="0.4"/><rect x="83.40" y="281.9" width="0.6" height="6.60" fill="#2a3896" fill-opacity="1.0"/><rect x="84.60" y="281.9" width="0.6" height="6.60" fill="#2a3896" fill-opacity="1.0"/><rect x="85.80" y="281.9" width="0.7" height="6.60" fill="#2a3896" fill-opacity="0.55"/><rect x="88.20" y="281.9" width="0.7" height="6.60" fill="#2a3896" fill-opacity="0.4"/><rect x="90.00" y="281.9" width="0.9" height="6.60" fill="#2a3896" fill-opacity="0.85"/><rect x="90.00" y="281.9" width="0.6" height="6.60" fill="#2a3896" fill-opacity="1.0"/><rect x="91.20" y="281.9" width="0.7" height="6.60" fill="#2a3896" fill-opacity="0.85"/><rect x="91.80" y="281.9" width="1.1" height="6.60" fill="#2a3896" fill-opacity="1.0"/><rect x="93.60" y="281.9" width="0.7" height="6.60" fill="#2a3896" fill-opacity="0.4"/><rect x="94.20" y="281.9" width="0.9" height="6.60" fill="#2a3896" fill-opacity="0.85"/><rect x="95.40" y="281.9" width="1.1" height="6.60" fill="#2a3896" fill-opacity="1.0"/><rect x="96.00" y="281.9" width="1.1" height="6.60" fill="#2a3896" fill-opacity="1.0"/><rect x="97.20" y="281.9" width="1.1" height="6.60" fill="#2a3896" fill-opacity="0.7"/><rect x="97.80" y="281.9" width="0.6" height="6.60" fill="#2a3896" fill-opacity="0.55"/><rect x="99.00" y="281.9" width="1.1" height="6.60" fill="#2a3896" fill-opacity="0.85"/><rect x="100.80" y="281.9" width="1.1" height="6.60" fill="#2a3896" fill-opacity="0.55"/><rect x="103.80" y="281.9" width="0.6" height="6.60" fill="#2a3896" fill-opacity="0.55"/><rect x="105.00" y="281.9" width="0.6" height="6.60" fill="#2a3896" fill-opacity="0.4"/><rect x="106.80" y="281.9" width="0.6" height="6.60" fill="#2a3896" fill-opacity="0.85"/><rect x="108.00" y="281.9" width="0.7" height="6.60" fill="#2a3896" fill-opacity="0.55"/><rect x="109.80" y="281.9" width="1.1" height="6.60" fill="#2a3896" fill-opacity="0.7"/><rect x="110.00" y="281.9" width="1.1" height="6.60" fill="#2a3896" fill-opacity="0.85"/><rect x="111.20" y="281.9" width="0.7" height="6.60" fill="#2a3896" fill-opacity="0.7"/><rect x="111.80" y="281.9" width="0.7" height="6.60" fill="#2a3896" fill-opacity="0.7"/><rect x="113.00" y="281.9" width="0.7" height="6.60" fill="#2a3896" fill-opacity="1.0"/><rect x="115.40" y="281.9" width="0.7" height="6.60" fill="#2a3896" fill-opacity="0.85"/><rect x="116.60" y="281.9" width="1.1" height="6.60" fill="#2a3896" fill-opacity="1.0"/><rect x="118.40" y="281.9" width="1.1" height="6.60" fill="#2a3896" fill-opacity="0.4"/><rect x="121.20" y="281.9" width="0.9" height="6.60" fill="#2a3896" fill-opacity="0.85"/><rect x="123.60" y="281.9" width="0.7" height="6.60" fill="#2a3896" fill-opacity="0.7"/><rect x="124.80" y="281.9" width="0.7" height="6.60" fill="#2a3896" fill-opacity="1.0"/><rect x="125.40" y="281.9" width="0.6" height="6.60" fill="#2a3896" fill-opacity="0.4"/><rect x="127.20" y="281.9" width="0.9" height="6.60" fill="#2a3896" fill-opacity="0.3"/><rect x="127.80" y="281.9" width="0.7" height="6.60" fill="#2a3896" fill-opacity="0.4"/><rect x="129.00" y="281.9" width="0.6" height="6.60" fill="#2a3896" fill-opacity="1.0"/><rect x="131.40" y="281.9" width="0.9" height="6.60" fill="#2a3896" fill-opacity="0.3"/><rect x="132.00" y="281.9" width="0.7" height="6.60" fill="#2a3896" fill-opacity="0.55"/><rect x="133.20" y="281.9" width="0.6" height="6.60" fill="#2a3896" fill-opacity="1.0"/><rect x="135.00" y="281.9" width="1.1" height="6.60" fill="#2a3896" fill-opacity="0.7"/><rect x="138.00" y="281.9" width="0.9" height="6.60" fill="#2a3896" fill-opacity="0.55"/><rect x="139.80" y="281.9" width="0.6" height="6.60" fill="#2a3896" fill-opacity="0.4"/><rect x="141.00" y="281.9" width="0.9" height="6.60" fill="#2a3896" fill-opacity="1.0"/><rect x="142.80" y="281.9" width="0.6" height="6.60" fill="#2a3896" fill-opacity="0.4"/><rect x="144.00" y="281.9" width="0.9" height="6.60" fill="#2a3896" fill-opacity="0.7"/><rect x="145.00" y="281.9" width="0.6" height="6.60" fill="#2a3896" fill-opacity="0.7"/><rect x="145.60" y="281.9" width="0.6" height="6.60" fill="#2a3896" fill-opacity="0.3"/><rect x="146.20" y="281.9" width="0.7" height="6.60" fill="#2a3896" fill-opacity="1.0"/><rect x="146.80" y="281.9" width="0.7" height="6.60" fill="#2a3896" fill-opacity="0.4"/><rect x="148.60" y="281.9" width="1.1" height="6.60" fill="#2a3896" fill-opacity="0.55"/><rect x="149.20" y="281.9" width="0.6" height="6.60" fill="#2a3896" fill-opacity="0.7"/><rect x="149.80" y="281.9" width="0.9" height="6.60" fill="#2a3896" fill-opacity="0.7"/><rect x="151.00" y="281.9" width="0.9" height="6.60" fill="#2a3896" fill-opacity="1.0"/><rect x="151.60" y="281.9" width="0.7" height="6.60" fill="#2a3896" fill-opacity="0.7"/><rect x="152.20" y="281.9" width="0.9" height="6.60" fill="#2a3896" fill-opacity="1.0"/><rect x="152.80" y="281.9" width="1.1" height="6.60" fill="#2a3896" fill-opacity="1.0"/><rect x="154.00" y="281.9" width="1.1" height="6.60" fill="#2a3896" fill-opacity="0.55"/><rect x="155.80" y="281.9" width="0.6" height="6.60" fill="#2a3896" fill-opacity="0.7"/><rect x="156.40" y="281.9" width="0.7" height="6.60" fill="#2a3896" fill-opacity="0.4"/><rect x="157.00" y="281.9" width="1.1" height="6.60" fill="#2a3896" fill-opacity="0.55"/><rect x="157.60" y="281.9" width="1.1" height="6.60" fill="#2a3896" fill-opacity="0.3"/><rect x="158.20" y="281.9" width="1.1" height="6.60" fill="#2a3896" fill-opacity="0.7"/><rect x="159.40" y="281.9" width="1.1" height="6.60" fill="#2a3896" fill-opacity="0.3"/><rect x="160.00" y="281.9" width="0.7" height="6.60" fill="#2a3896" fill-opacity="1.0"/><rect x="160.00" y="281.9" width="0.9" height="6.60" fill="#2a3896" fill-opacity="1.0"/><rect x="160.60" y="281.9" width="0.6" height="6.60" fill="#2a3896" fill-opacity="1.0"/><rect x="161.20" y="281.9" width="0.6" height="6.60" fill="#2a3896" fill-opacity="1.0"/><rect x="161.80" y="281.9" width="0.9" height="6.60" fill="#2a3896" fill-opacity="0.9"/><rect x="162.40" y="281.9" width="0.6" height="6.60" fill="#2a3896" fill-opacity="0.8"/><rect x="163.00" y="281.9" width="0.9" height="6.60" fill="#2a3896" fill-opacity="1.0"/><rect x="163.60" y="281.9" width="0.6" height="6.60" fill="#2a3896" fill-opacity="0.8"/><rect x="164.20" y="281.9" width="0.7" height="6.60" fill="#2a3896" fill-opacity="0.8"/><rect x="164.80" y="281.9" width="0.7" height="6.60" fill="#2a3896" fill-opacity="1.0"/><rect x="165.40" y="281.9" width="0.7" height="6.60" fill="#2a3896" fill-opacity="1.0"/><rect x="166.00" y="281.9" width="0.7" height="6.60" fill="#2a3896" fill-opacity="0.9"/><rect x="166.60" y="281.9" width="0.7" height="6.60" fill="#2a3896" fill-opacity="0.9"/><rect x="167.20" y="281.9" width="0.6" height="6.60" fill="#2a3896" fill-opacity="1.0"/><rect x="167.80" y="281.9" width="0.7" height="6.60" fill="#2a3896" fill-opacity="1.0"/><rect x="168.40" y="281.9" width="1.1" height="6.60" fill="#2a3896" fill-opacity="0.9"/><rect x="169.00" y="281.9" width="0.7" height="6.60" fill="#2a3896" fill-opacity="0.8"/><rect x="169.60" y="281.9" width="0.6" height="6.60" fill="#2a3896" fill-opacity="1.0"/><rect x="170.20" y="281.9" width="0.9" height="6.60" fill="#2a3896" fill-opacity="0.9"/><rect x="171.40" y="281.9" width="0.7" height="6.60" fill="#2a3896" fill-opacity="0.9"/><rect x="172.00" y="281.9" width="0.6" height="6.60" fill="#2a3896" fill-opacity="0.8"/><rect x="172.60" y="281.9" width="0.7" height="6.60" fill="#2a3896" fill-opacity="0.8"/><rect x="173.20" y="281.9" width="0.7" height="6.60" fill="#2a3896" fill-opacity="1.0"/><rect x="173.80" y="281.9" width="0.9" height="6.60" fill="#2a3896" fill-opacity="1.0"/><rect x="174.40" y="281.9" width="0.6" height="6.60" fill="#2a3896" fill-opacity="1.0"/><rect x="175.00" y="281.9" width="0.6" height="6.60" fill="#2a3896" fill-opacity="0.8"/><rect x="175.60" y="281.9" width="1.1" height="6.60" fill="#2a3896" fill-opacity="0.9"/><rect x="176.20" y="281.9" width="1.1" height="6.60" fill="#2a3896" fill-opacity="0.9"/><rect x="176.80" y="281.9" width="0.6" height="6.60" fill="#2a3896" fill-opacity="0.9"/>
<rect x="38.60" y="289.3" width="0.9" height="6.40" fill="#f6661a" fill-opacity="0.4"/><rect x="39.20" y="289.3" width="0.9" height="6.40" fill="#f6661a" fill-opacity="1.0"/><rect x="39.80" y="289.3" width="1.1" height="6.40" fill="#f6661a" fill-opacity="0.4"/><rect x="41.00" y="289.3" width="0.6" height="6.40" fill="#f6661a" fill-opacity="0.55"/><rect x="41.60" y="289.3" width="1.1" height="6.40" fill="#f6661a" fill-opacity="1.0"/><rect x="42.80" y="289.3" width="0.6" height="6.40" fill="#f6661a" fill-opacity="1.0"/><rect x="43.40" y="289.3" width="0.6" height="6.40" fill="#f6661a" fill-opacity="1.0"/><rect x="44.60" y="289.3" width="1.1" height="6.40" fill="#f6661a" fill-opacity="0.4"/><rect x="45.20" y="289.3" width="0.6" height="6.40" fill="#f6661a" fill-opacity="1.0"/><rect x="45.80" y="289.3" width="0.7" height="6.40" fill="#f6661a" fill-opacity="0.3"/><rect x="46.40" y="289.3" width="1.1" height="6.40" fill="#f6661a" fill-opacity="0.7"/><rect x="47.60" y="289.3" width="0.9" height="6.40" fill="#f6661a" fill-opacity="1.0"/><rect x="48.20" y="289.3" width="0.7" height="6.40" fill="#f6661a" fill-opacity="0.55"/><rect x="48.80" y="289.3" width="0.7" height="6.40" fill="#f6661a" fill-opacity="1.0"/><rect x="50.00" y="289.3" width="1.1" height="6.40" fill="#f6661a" fill-opacity="0.55"/><rect x="51.20" y="289.3" width="1.1" height="6.40" fill="#f6661a" fill-opacity="0.55"/><rect x="51.80" y="289.3" width="0.6" height="6.40" fill="#f6661a" fill-opacity="0.4"/><rect x="53.60" y="289.3" width="0.9" height="6.40" fill="#f6661a" fill-opacity="0.85"/><rect x="54.20" y="289.3" width="0.9" height="6.40" fill="#f6661a" fill-opacity="0.7"/><rect x="55.40" y="289.3" width="0.9" height="6.40" fill="#f6661a" fill-opacity="0.85"/><rect x="56.60" y="289.3" width="0.7" height="6.40" fill="#f6661a" fill-opacity="0.55"/><rect x="58.40" y="289.3" width="0.6" height="6.40" fill="#f6661a" fill-opacity="0.55"/><rect x="59.60" y="289.3" width="0.7" height="6.40" fill="#f6661a" fill-opacity="0.7"/><rect x="60.20" y="289.3" width="0.7" height="6.40" fill="#f6661a" fill-opacity="1.0"/><rect x="60.80" y="289.3" width="0.9" height="6.40" fill="#f6661a" fill-opacity="0.4"/><rect x="61.40" y="289.3" width="1.1" height="6.40" fill="#f6661a" fill-opacity="0.85"/><rect x="62.00" y="289.3" width="0.6" height="6.40" fill="#f6661a" fill-opacity="0.4"/><rect x="62.60" y="289.3" width="0.7" height="6.40" fill="#f6661a" fill-opacity="0.85"/><rect x="63.80" y="289.3" width="1.1" height="6.40" fill="#f6661a" fill-opacity="0.4"/><rect x="65.60" y="289.3" width="0.9" height="6.40" fill="#f6661a" fill-opacity="0.55"/><rect x="69.20" y="289.3" width="0.9" height="6.40" fill="#f6661a" fill-opacity="0.3"/><rect x="71.00" y="289.3" width="0.6" height="6.40" fill="#f6661a" fill-opacity="1.0"/><rect x="74.60" y="289.3" width="0.9" height="6.40" fill="#f6661a" fill-opacity="0.3"/><rect x="77.60" y="289.3" width="1.1" height="6.40" fill="#f6661a" fill-opacity="0.85"/><rect x="78.20" y="289.3" width="1.1" height="6.40" fill="#f6661a" fill-opacity="1.0"/><rect x="81.80" y="289.3" width="0.7" height="6.40" fill="#f6661a" fill-opacity="0.4"/><rect x="84.20" y="289.3" width="0.7" height="6.40" fill="#f6661a" fill-opacity="1.0"/><rect x="85.00" y="289.3" width="0.7" height="6.40" fill="#f6661a" fill-opacity="1.0"/><rect x="86.20" y="289.3" width="0.9" height="6.40" fill="#f6661a" fill-opacity="1.0"/><rect x="86.80" y="289.3" width="1.1" height="6.40" fill="#f6661a" fill-opacity="0.7"/><rect x="88.60" y="289.3" width="0.9" height="6.40" fill="#f6661a" fill-opacity="0.55"/><rect x="89.20" y="289.3" width="1.1" height="6.40" fill="#f6661a" fill-opacity="0.4"/><rect x="90.40" y="289.3" width="0.7" height="6.40" fill="#f6661a" fill-opacity="0.4"/><rect x="91.00" y="289.3" width="0.6" height="6.40" fill="#f6661a" fill-opacity="0.3"/><rect x="92.80" y="289.3" width="1.1" height="6.40" fill="#f6661a" fill-opacity="0.3"/><rect x="93.40" y="289.3" width="0.9" height="6.40" fill="#f6661a" fill-opacity="0.4"/><rect x="94.60" y="289.3" width="1.1" height="6.40" fill="#f6661a" fill-opacity="0.3"/><rect x="95.80" y="289.3" width="1.1" height="6.40" fill="#f6661a" fill-opacity="0.55"/><rect x="97.00" y="289.3" width="0.9" height="6.40" fill="#f6661a" fill-opacity="0.85"/><rect x="98.20" y="289.3" width="0.6" height="6.40" fill="#f6661a" fill-opacity="0.4"/><rect x="99.40" y="289.3" width="1.1" height="6.40" fill="#f6661a" fill-opacity="1.0"/><rect x="100.00" y="289.3" width="0.7" height="6.40" fill="#f6661a" fill-opacity="1.0"/><rect x="101.20" y="289.3" width="0.6" height="6.40" fill="#f6661a" fill-opacity="1.0"/><rect x="102.40" y="289.3" width="0.9" height="6.40" fill="#f6661a" fill-opacity="1.0"/><rect x="103.60" y="289.3" width="0.9" height="6.40" fill="#f6661a" fill-opacity="0.85"/><rect x="104.80" y="289.3" width="0.9" height="6.40" fill="#f6661a" fill-opacity="0.7"/><rect x="106.20" y="289.3" width="0.9" height="6.40" fill="#f6661a" fill-opacity="0.4"/><rect x="107.40" y="289.3" width="0.7" height="6.40" fill="#f6661a" fill-opacity="0.55"/><rect x="109.20" y="289.3" width="0.7" height="6.40" fill="#f6661a" fill-opacity="0.3"/><rect x="111.00" y="289.3" width="1.1" height="6.40" fill="#f6661a" fill-opacity="0.55"/><rect x="112.80" y="289.3" width="0.9" height="6.40" fill="#f6661a" fill-opacity="0.4"/><rect x="114.60" y="289.3" width="0.9" height="6.40" fill="#f6661a" fill-opacity="0.7"/><rect x="115.80" y="289.3" width="0.7" height="6.40" fill="#f6661a" fill-opacity="0.7"/><rect x="116.40" y="289.3" width="0.9" height="6.40" fill="#f6661a" fill-opacity="1.0"/><rect x="117.60" y="289.3" width="0.9" height="6.40" fill="#f6661a" fill-opacity="0.85"/><rect x="118.60" y="289.3" width="1.1" height="6.40" fill="#f6661a" fill-opacity="0.85"/><rect x="119.20" y="289.3" width="0.9" height="6.40" fill="#f6661a" fill-opacity="0.3"/><rect x="120.40" y="289.3" width="1.1" height="6.40" fill="#f6661a" fill-opacity="1.0"/><rect x="121.60" y="289.3" width="0.9" height="6.40" fill="#f6661a" fill-opacity="0.85"/><rect x="122.20" y="289.3" width="1.1" height="6.40" fill="#f6661a" fill-opacity="0.7"/><rect x="122.80" y="289.3" width="0.7" height="6.40" fill="#f6661a" fill-opacity="0.7"/><rect x="123.40" y="289.3" width="0.9" height="6.40" fill="#f6661a" fill-opacity="1.0"/><rect x="124.00" y="289.3" width="0.6" height="6.40" fill="#f6661a" fill-opacity="0.85"/><rect x="124.60" y="289.3" width="0.9" height="6.40" fill="#f6661a" fill-opacity="0.4"/><rect x="125.20" y="289.3" width="0.7" height="6.40" fill="#f6661a" fill-opacity="0.85"/><rect x="126.40" y="289.3" width="0.7" height="6.40" fill="#f6661a" fill-opacity="0.3"/><rect x="127.00" y="289.3" width="0.6" height="6.40" fill="#f6661a" fill-opacity="0.3"/><rect x="128.20" y="289.3" width="0.7" height="6.40" fill="#f6661a" fill-opacity="0.3"/><rect x="129.40" y="289.3" width="0.9" height="6.40" fill="#f6661a" fill-opacity="0.3"/><rect x="131.20" y="289.3" width="0.6" height="6.40" fill="#f6661a" fill-opacity="0.55"/><rect x="131.80" y="289.3" width="0.9" height="6.40" fill="#f6661a" fill-opacity="1.0"/><rect x="133.60" y="289.3" width="0.6" height="6.40" fill="#f6661a" fill-opacity="0.55"/><rect x="135.40" y="289.3" width="0.9" height="6.40" fill="#f6661a" fill-opacity="0.4"/><rect x="136.60" y="289.3" width="1.1" height="6.40" fill="#f6661a" fill-opacity="0.7"/><rect x="137.20" y="289.3" width="0.9" height="6.40" fill="#f6661a" fill-opacity="1.0"/><rect x="138.40" y="289.3" width="0.9" height="6.40" fill="#f6661a" fill-opacity="0.3"/><rect x="140.00" y="289.3" width="1.1" height="6.40" fill="#f6661a" fill-opacity="0.7"/><rect x="140.60" y="289.3" width="0.6" height="6.40" fill="#f6661a" fill-opacity="0.85"/><rect x="141.20" y="289.3" width="0.9" height="6.40" fill="#f6661a" fill-opacity="1.0"/><rect x="141.80" y="289.3" width="1.1" height="6.40" fill="#f6661a" fill-opacity="1.0"/><rect x="143.00" y="289.3" width="0.7" height="6.40" fill="#f6661a" fill-opacity="1.0"/><rect x="144.20" y="289.3" width="0.6" height="6.40" fill="#f6661a" fill-opacity="0.55"/><rect x="144.80" y="289.3" width="1.1" height="6.40" fill="#f6661a" fill-opacity="0.55"/><rect x="146.00" y="289.3" width="1.1" height="6.40" fill="#f6661a" fill-opacity="0.85"/><rect x="146.60" y="289.3" width="0.9" height="6.40" fill="#f6661a" fill-opacity="0.3"/><rect x="147.80" y="289.3" width="0.9" height="6.40" fill="#f6661a" fill-opacity="0.4"/><rect x="148.40" y="289.3" width="0.9" height="6.40" fill="#f6661a" fill-opacity="0.3"/><rect x="149.00" y="289.3" width="1.1" height="6.40" fill="#f6661a" fill-opacity="1.0"/><rect x="149.60" y="289.3" width="0.9" height="6.40" fill="#f6661a" fill-opacity="0.4"/><rect x="150.80" y="289.3" width="1.1" height="6.40" fill="#f6661a" fill-opacity="0.7"/><rect x="152.60" y="289.3" width="1.1" height="6.40" fill="#f6661a" fill-opacity="0.85"/><rect x="153.20" y="289.3" width="1.1" height="6.40" fill="#f6661a" fill-opacity="0.3"/><rect x="154.40" y="289.3" width="0.9" height="6.40" fill="#f6661a" fill-opacity="0.4"/><rect x="155.60" y="289.3" width="0.7" height="6.40" fill="#f6661a" fill-opacity="0.85"/><rect x="156.20" y="289.3" width="1.1" height="6.40" fill="#f6661a" fill-opacity="0.4"/><rect x="156.80" y="289.3" width="0.9" height="6.40" fill="#f6661a" fill-opacity="0.85"/><rect x="157.40" y="289.3" width="0.6" height="6.40" fill="#f6661a" fill-opacity="1.0"/><rect x="158.00" y="289.3" width="1.1" height="6.40" fill="#f6661a" fill-opacity="0.4"/><rect x="159.20" y="289.3" width="0.9" height="6.40" fill="#f6661a" fill-opacity="0.55"/><rect x="160.00" y="289.3" width="0.9" height="6.40" fill="#f6661a" fill-opacity="0.9"/><rect x="160.60" y="289.3" width="0.6" height="6.40" fill="#f6661a" fill-opacity="0.8"/><rect x="161.20" y="289.3" width="0.7" height="6.40" fill="#f6661a" fill-opacity="0.8"/><rect x="161.80" y="289.3" width="0.9" height="6.40" fill="#f6661a" fill-opacity="0.9"/><rect x="162.40" y="289.3" width="0.9" height="6.40" fill="#f6661a" fill-opacity="1.0"/><rect x="163.60" y="289.3" width="0.6" height="6.40" fill="#f6661a" fill-opacity="0.8"/><rect x="164.20" y="289.3" width="0.6" height="6.40" fill="#f6661a" fill-opacity="1.0"/><rect x="164.80" y="289.3" width="1.1" height="6.40" fill="#f6661a" fill-opacity="1.0"/><rect x="165.40" y="289.3" width="0.7" height="6.40" fill="#f6661a" fill-opacity="0.9"/><rect x="166.00" y="289.3" width="0.9" height="6.40" fill="#f6661a" fill-opacity="1.0"/><rect x="166.60" y="289.3" width="0.7" height="6.40" fill="#f6661a" fill-opacity="1.0"/><rect x="167.20" y="289.3" width="0.7" height="6.40" fill="#f6661a" fill-opacity="1.0"/><rect x="167.80" y="289.3" width="0.9" height="6.40" fill="#f6661a" fill-opacity="0.8"/><rect x="168.40" y="289.3" width="1.1" height="6.40" fill="#f6661a" fill-opacity="0.8"/><rect x="169.00" y="289.3" width="0.9" height="6.40" fill="#f6661a" fill-opacity="0.8"/><rect x="169.60" y="289.3" width="0.7" height="6.40" fill="#f6661a" fill-opacity="1.0"/><rect x="170.20" y="289.3" width="0.9" height="6.40" fill="#f6661a" fill-opacity="0.8"/><rect x="170.80" y="289.3" width="0.7" height="6.40" fill="#f6661a" fill-opacity="0.9"/><rect x="171.40" y="289.3" width="1.1" height="6.40" fill="#f6661a" fill-opacity="0.9"/><rect x="172.00" y="289.3" width="1.1" height="6.40" fill="#f6661a" fill-opacity="0.9"/><rect x="172.60" y="289.3" width="0.9" height="6.40" fill="#f6661a" fill-opacity="0.8"/><rect x="173.20" y="289.3" width="1.1" height="6.40" fill="#f6661a" fill-opacity="0.8"/><rect x="173.80" y="289.3" width="0.6" height="6.40" fill="#f6661a" fill-opacity="1.0"/><rect x="174.40" y="289.3" width="0.7" height="6.40" fill="#f6661a" fill-opacity="0.9"/><rect x="175.00" y="289.3" width="1.1" height="6.40" fill="#f6661a" fill-opacity="1.0"/><rect x="175.60" y="289.3" width="0.6" height="6.40" fill="#f6661a" fill-opacity="0.9"/><rect x="176.20" y="289.3" width="0.7" height="6.40" fill="#f6661a" fill-opacity="1.0"/><rect x="176.80" y="289.3" width="0.9" height="6.40" fill="#f6661a" fill-opacity="0.9"/>
<rect x="39.80" y="296.7" width="0.7" height="6.50" fill="#2e7d3c" fill-opacity="1.0"/><rect x="40.40" y="296.7" width="0.7" height="6.50" fill="#2e7d3c" fill-opacity="0.3"/><rect x="41.60" y="296.7" width="0.7" height="6.50" fill="#2e7d3c" fill-opacity="1.0"/><rect x="42.20" y="296.7" width="1.1" height="6.50" fill="#2e7d3c" fill-opacity="1.0"/><rect x="42.80" y="296.7" width="0.6" height="6.50" fill="#2e7d3c" fill-opacity="0.4"/><rect x="43.40" y="296.7" width="0.7" height="6.50" fill="#2e7d3c" fill-opacity="0.3"/><rect x="44.60" y="296.7" width="0.9" height="6.50" fill="#2e7d3c" fill-opacity="0.3"/><rect x="45.20" y="296.7" width="1.1" height="6.50" fill="#2e7d3c" fill-opacity="0.4"/><rect x="45.80" y="296.7" width="0.9" height="6.50" fill="#2e7d3c" fill-opacity="0.3"/><rect x="47.00" y="296.7" width="1.1" height="6.50" fill="#2e7d3c" fill-opacity="0.3"/><rect x="48.80" y="296.7" width="0.6" height="6.50" fill="#2e7d3c" fill-opacity="0.4"/><rect x="50.00" y="296.7" width="0.9" height="6.50" fill="#2e7d3c" fill-opacity="0.4"/><rect x="50.60" y="296.7" width="0.7" height="6.50" fill="#2e7d3c" fill-opacity="0.55"/><rect x="52.40" y="296.7" width="0.7" height="6.50" fill="#2e7d3c" fill-opacity="0.85"/><rect x="53.60" y="296.7" width="1.1" height="6.50" fill="#2e7d3c" fill-opacity="0.85"/><rect x="54.80" y="296.7" width="1.1" height="6.50" fill="#2e7d3c" fill-opacity="1.0"/><rect x="56.00" y="296.7" width="0.9" height="6.50" fill="#2e7d3c" fill-opacity="1.0"/><rect x="56.60" y="296.7" width="1.1" height="6.50" fill="#2e7d3c" fill-opacity="0.7"/><rect x="57.20" y="296.7" width="1.1" height="6.50" fill="#2e7d3c" fill-opacity="0.4"/><rect x="57.80" y="296.7" width="0.7" height="6.50" fill="#2e7d3c" fill-opacity="1.0"/><rect x="59.60" y="296.7" width="0.9" height="6.50" fill="#2e7d3c" fill-opacity="0.4"/><rect x="60.80" y="296.7" width="0.9" height="6.50" fill="#2e7d3c" fill-opacity="0.3"/><rect x="61.40" y="296.7" width="0.9" height="6.50" fill="#2e7d3c" fill-opacity="0.3"/><rect x="62.60" y="296.7" width="0.7" height="6.50" fill="#2e7d3c" fill-opacity="0.85"/><rect x="63.20" y="296.7" width="0.7" height="6.50" fill="#2e7d3c" fill-opacity="0.4"/><rect x="63.80" y="296.7" width="0.6" height="6.50" fill="#2e7d3c" fill-opacity="1.0"/><rect x="65.00" y="296.7" width="0.9" height="6.50" fill="#2e7d3c" fill-opacity="0.85"/><rect x="66.20" y="296.7" width="0.6" height="6.50" fill="#2e7d3c" fill-opacity="0.3"/><rect x="66.80" y="296.7" width="0.6" height="6.50" fill="#2e7d3c" fill-opacity="1.0"/><rect x="68.00" y="296.7" width="0.6" height="6.50" fill="#2e7d3c" fill-opacity="0.3"/><rect x="68.60" y="296.7" width="0.9" height="6.50" fill="#2e7d3c" fill-opacity="0.3"/><rect x="71.00" y="296.7" width="0.9" height="6.50" fill="#2e7d3c" fill-opacity="0.7"/><rect x="71.60" y="296.7" width="0.6" height="6.50" fill="#2e7d3c" fill-opacity="0.55"/><rect x="72.20" y="296.7" width="0.9" height="6.50" fill="#2e7d3c" fill-opacity="0.55"/><rect x="73.40" y="296.7" width="0.9" height="6.50" fill="#2e7d3c" fill-opacity="0.85"/><rect x="74.60" y="296.7" width="1.1" height="6.50" fill="#2e7d3c" fill-opacity="0.55"/><rect x="75.80" y="296.7" width="0.6" height="6.50" fill="#2e7d3c" fill-opacity="0.3"/><rect x="77.60" y="296.7" width="0.9" height="6.50" fill="#2e7d3c" fill-opacity="1.0"/><rect x="80.40" y="296.7" width="0.7" height="6.50" fill="#2e7d3c" fill-opacity="0.3"/><rect x="81.60" y="296.7" width="0.9" height="6.50" fill="#2e7d3c" fill-opacity="0.4"/><rect x="85.80" y="296.7" width="0.7" height="6.50" fill="#2e7d3c" fill-opacity="0.85"/><rect x="87.60" y="296.7" width="0.9" height="6.50" fill="#2e7d3c" fill-opacity="1.0"/><rect x="89.40" y="296.7" width="0.6" height="6.50" fill="#2e7d3c" fill-opacity="1.0"/><rect x="90.60" y="296.7" width="0.9" height="6.50" fill="#2e7d3c" fill-opacity="0.85"/><rect x="94.80" y="296.7" width="0.6" height="6.50" fill="#2e7d3c" fill-opacity="0.7"/><rect x="96.60" y="296.7" width="0.9" height="6.50" fill="#2e7d3c" fill-opacity="1.0"/><rect x="98.40" y="296.7" width="0.7" height="6.50" fill="#2e7d3c" fill-opacity="1.0"/><rect x="99.00" y="296.7" width="0.7" height="6.50" fill="#2e7d3c" fill-opacity="0.4"/><rect x="100.20" y="296.7" width="0.9" height="6.50" fill="#2e7d3c" fill-opacity="1.0"/><rect x="103.20" y="296.7" width="1.1" height="6.50" fill="#2e7d3c" fill-opacity="1.0"/><rect x="104.40" y="296.7" width="0.6" height="6.50" fill="#2e7d3c" fill-opacity="1.0"/><rect x="105.00" y="296.7" width="0.9" height="6.50" fill="#2e7d3c" fill-opacity="0.55"/><rect x="106.20" y="296.7" width="0.9" height="6.50" fill="#2e7d3c" fill-opacity="0.55"/><rect x="107.40" y="296.7" width="0.7" height="6.50" fill="#2e7d3c" fill-opacity="1.0"/><rect x="108.00" y="296.7" width="0.9" height="6.50" fill="#2e7d3c" fill-opacity="1.0"/><rect x="110.40" y="296.7" width="0.9" height="6.50" fill="#2e7d3c" fill-opacity="0.55"/><rect x="111.60" y="296.7" width="0.9" height="6.50" fill="#2e7d3c" fill-opacity="1.0"/><rect x="115.20" y="296.7" width="0.6" height="6.50" fill="#2e7d3c" fill-opacity="0.55"/><rect x="115.80" y="296.7" width="0.9" height="6.50" fill="#2e7d3c" fill-opacity="0.85"/><rect x="117.00" y="296.7" width="0.9" height="6.50" fill="#2e7d3c" fill-opacity="0.3"/><rect x="119.40" y="296.7" width="0.7" height="6.50" fill="#2e7d3c" fill-opacity="0.85"/><rect x="121.20" y="296.7" width="1.1" height="6.50" fill="#2e7d3c" fill-opacity="1.0"/><rect x="123.00" y="296.7" width="1.1" height="6.50" fill="#2e7d3c" fill-opacity="1.0"/><rect x="124.20" y="296.7" width="0.6" height="6.50" fill="#2e7d3c" fill-opacity="1.0"/><rect x="126.00" y="296.7" width="0.6" height="6.50" fill="#2e7d3c" fill-opacity="0.7"/><rect x="127.80" y="296.7" width="0.6" height="6.50" fill="#2e7d3c" fill-opacity="0.7"/><rect x="128.40" y="296.7" width="0.7" height="6.50" fill="#2e7d3c" fill-opacity="1.0"/><rect x="129.60" y="296.7" width="0.6" height="6.50" fill="#2e7d3c" fill-opacity="0.4"/><rect x="130.20" y="296.7" width="0.9" height="6.50" fill="#2e7d3c" fill-opacity="0.7"/><rect x="132.00" y="296.7" width="0.6" height="6.50" fill="#2e7d3c" fill-opacity="0.85"/><rect x="134.40" y="296.7" width="0.6" height="6.50" fill="#2e7d3c" fill-opacity="0.55"/><rect x="136.20" y="296.7" width="0.6" height="6.50" fill="#2e7d3c" fill-opacity="0.55"/><rect x="138.00" y="296.7" width="0.9" height="6.50" fill="#2e7d3c" fill-opacity="0.3"/><rect x="138.60" y="296.7" width="0.9" height="6.50" fill="#2e7d3c" fill-opacity="0.4"/><rect x="140.00" y="296.7" width="0.7" height="6.50" fill="#2e7d3c" fill-opacity="0.85"/><rect x="141.20" y="296.7" width="0.6" height="6.50" fill="#2e7d3c" fill-opacity="1.0"/><rect x="142.40" y="296.7" width="0.6" height="6.50" fill="#2e7d3c" fill-opacity="0.4"/><rect x="144.20" y="296.7" width="1.1" height="6.50" fill="#2e7d3c" fill-opacity="0.3"/><rect x="144.80" y="296.7" width="1.1" height="6.50" fill="#2e7d3c" fill-opacity="0.55"/><rect x="145.40" y="296.7" width="1.1" height="6.50" fill="#2e7d3c" fill-opacity="0.3"/><rect x="146.00" y="296.7" width="0.9" height="6.50" fill="#2e7d3c" fill-opacity="0.85"/><rect x="147.20" y="296.7" width="0.9" height="6.50" fill="#2e7d3c" fill-opacity="1.0"/><rect x="148.40" y="296.7" width="1.1" height="6.50" fill="#2e7d3c" fill-opacity="0.7"/><rect x="149.60" y="296.7" width="1.1" height="6.50" fill="#2e7d3c" fill-opacity="1.0"/><rect x="151.40" y="296.7" width="0.6" height="6.50" fill="#2e7d3c" fill-opacity="1.0"/><rect x="152.60" y="296.7" width="0.9" height="6.50" fill="#2e7d3c" fill-opacity="0.55"/><rect x="153.20" y="296.7" width="0.7" height="6.50" fill="#2e7d3c" fill-opacity="0.3"/><rect x="154.40" y="296.7" width="0.7" height="6.50" fill="#2e7d3c" fill-opacity="1.0"/><rect x="155.00" y="296.7" width="0.6" height="6.50" fill="#2e7d3c" fill-opacity="1.0"/><rect x="156.80" y="296.7" width="0.7" height="6.50" fill="#2e7d3c" fill-opacity="0.4"/><rect x="158.60" y="296.7" width="0.6" height="6.50" fill="#2e7d3c" fill-opacity="1.0"/><rect x="159.20" y="296.7" width="0.7" height="6.50" fill="#2e7d3c" fill-opacity="0.7"/><rect x="159.80" y="296.7" width="1.1" height="6.50" fill="#2e7d3c" fill-opacity="0.4"/><rect x="161.60" y="296.7" width="0.6" height="6.50" fill="#2e7d3c" fill-opacity="1.0"/><rect x="162.80" y="296.7" width="0.7" height="6.50" fill="#2e7d3c" fill-opacity="0.55"/><rect x="164.60" y="296.7" width="0.7" height="6.50" fill="#2e7d3c" fill-opacity="0.85"/><rect x="165.80" y="296.7" width="1.1" height="6.50" fill="#2e7d3c" fill-opacity="0.4"/><rect x="166.00" y="296.7" width="0.7" height="6.50" fill="#2e7d3c" fill-opacity="0.9"/><rect x="166.60" y="296.7" width="0.7" height="6.50" fill="#2e7d3c" fill-opacity="1.0"/><rect x="167.20" y="296.7" width="0.9" height="6.50" fill="#2e7d3c" fill-opacity="1.0"/><rect x="167.80" y="296.7" width="0.9" height="6.50" fill="#2e7d3c" fill-opacity="1.0"/><rect x="168.40" y="296.7" width="1.1" height="6.50" fill="#2e7d3c" fill-opacity="0.8"/><rect x="169.00" y="296.7" width="1.1" height="6.50" fill="#2e7d3c" fill-opacity="1.0"/><rect x="169.60" y="296.7" width="0.7" height="6.50" fill="#2e7d3c" fill-opacity="0.8"/><rect x="170.20" y="296.7" width="0.6" height="6.50" fill="#2e7d3c" fill-opacity="0.9"/><rect x="170.80" y="296.7" width="0.6" height="6.50" fill="#2e7d3c" fill-opacity="0.8"/><rect x="171.40" y="296.7" width="1.1" height="6.50" fill="#2e7d3c" fill-opacity="0.9"/><rect x="172.00" y="296.7" width="0.6" height="6.50" fill="#2e7d3c" fill-opacity="1.0"/><rect x="172.60" y="296.7" width="0.7" height="6.50" fill="#2e7d3c" fill-opacity="1.0"/><rect x="173.20" y="296.7" width="1.1" height="6.50" fill="#2e7d3c" fill-opacity="0.8"/><rect x="173.80" y="296.7" width="0.9" height="6.50" fill="#2e7d3c" fill-opacity="0.9"/><rect x="174.40" y="296.7" width="0.6" height="6.50" fill="#2e7d3c" fill-opacity="1.0"/><rect x="175.00" y="296.7" width="0.7" height="6.50" fill="#2e7d3c" fill-opacity="1.0"/><rect x="175.60" y="296.7" width="1.1" height="6.50" fill="#2e7d3c" fill-opacity="1.0"/><rect x="176.20" y="296.7" width="1.1" height="6.50" fill="#2e7d3c" fill-opacity="0.8"/><rect x="176.80" y="296.7" width="1.1" height="6.50" fill="#2e7d3c" fill-opacity="1.0"/>
<path d="M38.80 236.10 L39.52 235.52 L40.25 234.95 L40.98 234.67 L41.70 234.10 L42.34 233.83 L42.97 233.95 L43.61 233.80 L44.25 233.58 L44.88 233.69 L45.52 233.41 L46.15 233.50 L46.79 233.26 L47.43 233.18 L48.06 233.25 L48.70 233.20 L49.34 233.50 L49.97 233.34 L50.61 233.54 L51.25 233.87 L51.88 234.17 L52.52 234.16 L53.15 234.24 L53.79 234.65 L54.43 234.39 L55.06 234.90 L55.70 234.90 L56.34 235.01 L56.99 235.14 L57.63 235.33 L58.28 235.62 L58.92 236.04 L59.57 235.96 L60.21 236.34 L60.86 236.56 L61.50 236.70 L62.13 236.88 L62.75 237.19 L63.38 237.21 L64.01 237.44 L64.63 237.74 L65.26 238.18 L65.89 238.30 L66.51 238.48 L67.14 238.84 L67.77 239.01 L68.39 239.18 L69.02 239.63 L69.65 239.82 L70.27 239.85 L70.90 240.20 L71.52 240.51 L72.13 240.76 L72.75 241.19 L73.36 241.40 L73.98 241.48 L74.59 242.05 L75.21 241.95 L75.83 242.35 L76.44 242.78 L77.06 242.78 L77.67 243.21 L78.29 243.28 L78.91 243.83 L79.52 244.15 L80.14 244.34 L80.75 244.74 L81.37 244.77 L81.98 245.21 L82.60 245.40 L83.21 245.66 L83.82 245.88 L84.43 246.05 L85.04 246.44 L85.64 246.71 L86.25 246.72 L86.86 247.03 L87.47 246.98 L88.08 247.49 L88.69 247.69 L89.30 248.06 L89.91 248.21 L90.52 248.19 L91.12 248.46 L91.73 248.81 L92.34 248.75 L92.95 249.16 L93.56 249.25 L94.17 249.45 L94.78 249.65 L95.39 250.18 L96.00 250.13 L96.60 250.40 L97.21 250.69 L97.82 251.12 L98.43 250.99 L99.04 251.38 L99.65 251.64 L100.26 252.01 L100.87 252.21 L101.48 252.45 L102.08 252.41 L102.69 252.70 L103.30 252.89 L103.91 253.35 L104.52 253.60 L105.13 253.47 L105.74 253.70 L106.35 253.95 L106.96 254.17 L107.56 254.50 L108.17 254.77 L108.78 254.85 L109.39 254.96 L110.00 255.40 L110.61 255.61 L111.21 255.83 L111.82 256.17 L112.42 256.58 L113.03 256.71 L113.64 256.88 L114.24 257.17 L114.85 257.44 L115.45 257.41 L116.06 258.03 L116.67 258.22 L117.27 258.51 L117.88 258.72 L118.48 258.79 L119.09 259.04 L119.70 259.15 L120.30 259.63 L120.91 259.63 L121.52 259.87 L122.12 260.18 L122.73 260.41 L123.33 260.73 L123.94 260.85 L124.55 261.07 L125.15 261.38 L125.76 261.61 L126.36 261.97 L126.97 262.06 L127.58 262.68 L128.18 262.81 L128.79 262.85 L129.39 263.15 L130.00 263.50 L130.61 263.61 L131.22 263.79 L131.83 263.85 L132.44 264.35 L133.05 264.58 L133.66 264.52 L134.28 264.70 L134.89 264.70 L135.50 264.88 L136.11 265.16 L136.72 265.30 L137.33 265.72 L137.94 265.60 L138.55 265.71 L139.16 266.29 L139.77 266.28 L140.38 266.29 L140.99 266.63 L141.61 266.58 L142.22 266.97 L142.83 267.34 L143.44 267.47 L144.05 267.56 L144.66 267.55 L145.27 267.77 L145.88 267.85 L146.49 268.29 L147.10 268.36 L147.71 268.64 L148.32 268.61 L148.94 268.74 L149.55 269.17 L150.16 269.42 L150.77 269.54 L151.38 269.69 L151.99 269.87 L152.60 269.90 L153.22 270.06 L153.85 269.88 L154.47 270.06 L155.10 270.05 L155.72 269.95 L156.34 270.01 L156.97 270.17 L157.59 270.21 L158.21 270.46 L158.84 270.62 L159.46 270.45 L160.09 270.72 L160.71 270.80 L161.33 270.83 L161.96 270.63 L162.58 270.62 L163.20 270.67 L163.83 270.71 L164.45 270.77 L165.08 271.00 L165.70 271.00 L166.30 270.89 L166.90 270.57 L167.50 270.13 L168.10 269.92 L168.70 269.69 L169.30 269.09 L169.90 269.06 L170.50 268.70 L171.10 267.83 L171.70 266.72 L172.30 265.66 L172.90 264.50 L173.75 260.04 L174.60 255.60 L175.20 249.69 L175.80 244.19 L176.40 238.30" stroke="#f47a2c" stroke-width="1.35" fill="none" stroke-linejoin="round"/>
<path d="M39.30 239.60 L39.90 238.63 L40.50 237.80 L41.27 237.47 L42.03 237.07 L42.80 236.40 L43.40 236.24 L44.00 236.12 L44.60 236.25 L45.20 236.03 L45.80 235.67 L46.40 235.70 L47.04 235.60 L47.67 235.67 L48.31 236.07 L48.95 236.09 L49.58 235.86 L50.22 236.23 L50.85 236.36 L51.49 236.28 L52.13 236.21 L52.76 236.36 L53.40 236.40 L54.04 236.29 L54.69 236.30 L55.33 236.77 L55.98 236.69 L56.62 236.69 L57.27 236.92 L57.91 236.76 L58.56 237.01 L59.20 236.90 L59.90 237.22 L60.60 237.13 L61.30 237.33 L62.00 237.53 L62.70 237.80 L63.33 237.96 L63.96 238.39 L64.59 238.52 L65.22 238.87 L65.85 239.02 L66.48 239.64 L67.12 239.67 L67.75 240.00 L68.38 240.33 L69.01 240.75 L69.64 240.81 L70.27 241.31 L70.90 241.40 L71.52 241.67 L72.13 241.96 L72.75 242.23 L73.36 242.28 L73.98 242.74 L74.59 242.90 L75.21 243.10 L75.83 243.72 L76.44 243.72 L77.06 244.13 L77.67 244.51 L78.29 244.71 L78.91 244.88 L79.52 245.24 L80.14 245.53 L80.75 245.90 L81.37 245.88 L81.98 246.35 L82.60 246.60 L83.21 246.71 L83.82 246.94 L84.43 247.38 L85.04 247.48 L85.64 247.73 L86.25 248.03 L86.86 248.32 L87.47 248.34 L88.08 248.63 L88.69 248.80 L89.30 249.03 L89.91 249.32 L90.52 249.44 L91.12 249.69 L91.73 249.89 L92.34 250.31 L92.95 250.43 L93.56 250.73 L94.17 250.97 L94.78 250.89 L95.39 251.25 L96.00 251.64 L96.60 251.81 L97.21 251.72 L97.82 251.93 L98.43 252.29 L99.04 252.35 L99.65 252.65 L100.26 252.79 L100.87 253.27 L101.48 253.54 L102.08 253.81 L102.69 253.71 L103.30 254.18 L103.91 254.37 L104.52 254.36 L105.13 254.91 L105.74 255.17 L106.35 255.06 L106.96 255.60 L107.56 255.58 L108.17 255.83 L108.78 256.28 L109.39 256.43 L110.00 256.50 L110.61 256.58 L111.21 256.94 L111.82 257.21 L112.42 257.36 L113.03 257.53 L113.64 257.82 L114.24 258.23 L114.85 258.16 L115.45 258.62 L116.06 258.81 L116.67 258.85 L117.27 259.23 L117.88 259.59 L118.48 259.77 L119.09 259.81 L119.70 260.45 L120.30 260.59 L120.91 260.91 L121.52 260.76 L122.12 261.06 L122.73 261.20 L123.33 261.76 L123.94 261.77 L124.55 261.94 L125.15 262.30 L125.76 262.75 L126.36 262.94 L126.97 262.93 L127.58 263.11 L128.18 263.68 L128.79 263.76 L129.39 264.05 L130.00 264.20 L130.62 264.22 L131.23 264.40 L131.85 264.87 L132.47 264.95 L133.09 264.99 L133.70 265.57 L134.32 265.64 L134.94 265.91 L135.56 265.79 L136.17 266.32 L136.79 266.17 L137.41 266.72 L138.02 266.73 L138.64 266.88 L139.26 267.17 L139.88 267.53 L140.49 267.44 L141.11 267.57 L141.73 267.95 L142.34 268.02 L142.96 268.16 L143.58 268.38 L144.20 268.52 L144.81 268.79 L145.43 269.03 L146.05 269.22 L146.67 269.62 L147.28 269.61 L147.90 269.90 L148.52 269.98 L149.15 269.93 L149.77 270.09 L150.39 270.03 L151.02 270.21 L151.64 270.19 L152.26 270.59 L152.88 270.60 L153.51 270.52 L154.13 270.74 L154.75 271.02 L155.38 270.74 L156.00 271.00 L156.61 271.20 L157.21 271.08 L157.82 271.17 L158.43 271.37 L159.03 271.23 L159.64 271.34 L160.24 271.48 L160.85 271.66 L161.46 271.44 L162.06 271.71 L162.67 271.71 L163.27 271.73 L163.88 271.69 L164.49 271.72 L165.09 271.65 L165.70 271.90 L166.30 270.79 L166.90 269.81 L167.50 269.16 L168.10 268.10 L168.70 265.89 L169.30 263.90 L170.20 262.40 L171.10 261.20 L171.70 260.35 L172.30 260.02 L172.90 259.20 L173.60 256.66 L174.30 253.80 L175.00 245.50 L175.70 241.98 L176.40 238.30" stroke="#2b3896" stroke-width="1.35" fill="none" stroke-linejoin="round"/>
<path d="M38.80 237.30 L39.90 234.90 L40.50 234.44 L41.10 234.05 L41.70 233.80 L42.37 233.65 L43.04 233.67 L43.71 233.48 L44.39 233.55 L45.06 233.41 L45.73 233.66 L46.40 233.40 L47.04 233.69 L47.67 233.58 L48.31 233.53 L48.95 233.93 L49.58 233.73 L50.22 233.83 L50.85 233.75 L51.49 234.00 L52.13 234.13 L52.76 234.22 L53.40 234.30 L54.12 233.99 L54.85 233.95 L55.57 233.56 L56.30 233.60 L56.98 233.81 L57.67 234.05 L58.35 234.51 L59.03 234.67 L59.72 234.97 L60.40 235.50 L61.06 235.67 L61.71 235.90 L62.37 236.31 L63.03 236.54 L63.69 236.90 L64.34 237.11 L65.00 237.30 L65.64 237.60 L66.27 237.88 L66.91 237.88 L67.55 238.06 L68.18 238.56 L68.82 238.40 L69.45 238.86 L70.09 239.04 L70.73 238.98 L71.36 239.54 L72.00 239.60 L72.62 240.08 L73.25 240.28 L73.87 240.64 L74.49 240.98 L75.12 241.00 L75.74 241.48 L76.36 241.78 L76.99 242.24 L77.61 242.54 L78.24 242.86 L78.86 243.07 L79.48 243.51 L80.11 243.73 L80.73 244.05 L81.35 244.16 L81.98 244.38 L82.60 244.90 L83.21 245.01 L83.82 245.39 L84.43 245.55 L85.04 246.14 L85.65 246.29 L86.26 246.60 L86.87 246.87 L87.48 247.17 L88.09 247.36 L88.71 247.42 L89.32 248.04 L89.93 248.29 L90.54 248.46 L91.15 248.75 L91.76 249.08 L92.37 249.09 L92.98 249.66 L93.59 249.72 L94.20 250.10 L94.81 250.07 L95.42 250.31 L96.02 250.67 L96.63 250.60 L97.24 250.99 L97.85 251.26 L98.45 251.20 L99.06 251.31 L99.67 251.51 L100.28 251.76 L100.88 251.95 L101.49 252.04 L102.10 252.21 L102.71 252.12 L103.32 252.31 L103.92 252.51 L104.53 252.89 L105.14 252.85 L105.75 253.13 L106.35 253.04 L106.96 253.22 L107.57 253.47 L108.18 253.80 L108.78 253.97 L109.39 254.12 L110.00 254.20 L110.61 254.40 L111.21 254.80 L111.82 255.08 L112.42 255.37 L113.03 255.52 L113.64 256.16 L114.24 256.15 L114.85 256.79 L115.45 257.06 L116.06 256.96 L116.67 257.45 L117.27 257.90 L117.88 258.27 L118.48 258.34 L119.09 258.55 L119.70 258.82 L120.30 259.44 L120.91 259.42 L121.52 259.88 L122.12 259.98 L122.73 260.45 L123.33 260.93 L123.94 260.87 L124.55 261.47 L125.15 261.63 L125.76 262.09 L126.36 262.31 L126.97 262.40 L127.58 262.99 L128.18 263.10 L128.79 263.20 L129.39 263.48 L130.00 264.00 L130.61 264.20 L131.21 264.38 L131.82 264.51 L132.42 264.64 L133.03 264.93 L133.64 265.12 L134.24 265.55 L134.85 265.38 L135.45 265.91 L136.06 266.15 L136.67 266.03 L137.27 266.59 L137.88 266.69 L138.48 266.98 L139.09 266.91 L139.70 267.14 L140.30 267.35 L140.91 267.82 L141.52 267.84 L142.12 267.94 L142.73 268.17 L143.33 268.30 L143.94 268.40 L144.55 268.62 L145.15 269.15 L145.76 269.11 L146.36 269.59 L146.97 269.49 L147.58 269.70 L148.18 270.00 L148.79 270.06 L149.39 270.34 L150.00 270.60 L150.60 270.99 L151.21 271.16 L151.81 271.32 L152.41 271.43 L153.02 271.75 L153.62 271.95 L154.22 271.97 L154.83 272.24 L155.43 272.14 L156.03 272.64 L156.64 272.71 L157.24 273.03 L157.84 273.18 L158.45 273.21 L159.05 273.30 L159.65 273.88 L160.26 273.72 L160.86 274.07 L161.46 274.20 L162.07 274.38 L162.67 274.77 L163.27 275.06 L163.88 274.94 L164.48 275.31 L165.08 275.35 L165.69 275.65 L166.29 275.77 L166.89 275.87 L167.50 276.06 L168.10 276.40 L168.78 274.99 L169.46 274.02 L170.14 272.56 L170.82 271.16 L171.50 270.00 L172.17 266.78 L172.83 263.42 L173.50 259.80 L174.22 254.40 L174.95 248.89 L175.68 243.54 L176.40 238.30" stroke="#3f8c52" stroke-width="1.35" fill="none" stroke-linejoin="round"/>
<line x1="31.50" y1="346.40" x2="31.50" y2="429.40" stroke="#222" stroke-width="1.3"/>
<line x1="30.90" y1="428.80" x2="184.30" y2="428.80" stroke="#222" stroke-width="1.3"/>
<line x1="28.30" y1="370.90" x2="31.50" y2="370.90" stroke="#222" stroke-width="1.0"/>
<text x="27.50" y="373.40" font-size="7.2" text-anchor="end">0.0</text>
<line x1="28.30" y1="403.50" x2="31.50" y2="403.50" stroke="#222" stroke-width="1.0"/>
<text x="27.50" y="406.00" font-size="7.2" text-anchor="end">−0.5</text>
<line x1="37.40" y1="428.80" x2="37.40" y2="431.60" stroke="#222" stroke-width="1.0"/>
<text x="37.40" y="439.20" font-size="7.2" text-anchor="middle">0</text>
<line x1="66.70" y1="428.80" x2="66.70" y2="431.60" stroke="#222" stroke-width="1.0"/>
<text x="66.70" y="439.20" font-size="7.2" text-anchor="middle">1</text>
<line x1="96.00" y1="428.80" x2="96.00" y2="431.60" stroke="#222" stroke-width="1.0"/>
<text x="96.00" y="439.20" font-size="7.2" text-anchor="middle">2</text>
<line x1="125.30" y1="428.80" x2="125.30" y2="431.60" stroke="#222" stroke-width="1.0"/>
<text x="125.30" y="439.20" font-size="7.2" text-anchor="middle">3</text>
<line x1="154.60" y1="428.80" x2="154.60" y2="431.60" stroke="#222" stroke-width="1.0"/>
<text x="154.60" y="439.20" font-size="7.2" text-anchor="middle">4</text>
<text x="29.80" y="343.00" font-size="9.7">MOOTHA_PGC</text>
<line x1="31.50" y1="370.90" x2="184.20" y2="370.90" stroke="#666" stroke-width="1.2"/>
<rect x="39.20" y="403.8" width="0.7" height="6.10" fill="#2a3896" fill-opacity="0.7"/><rect x="39.80" y="403.8" width="0.7" height="6.10" fill="#2a3896" fill-opacity="0.7"/><rect x="40.40" y="403.8" width="0.6" height="6.10" fill="#2a3896" fill-opacity="1.0"/><rect x="41.00" y="403.8" width="1.1" height="6.10" fill="#2a3896" fill-opacity="0.55"/><rect x="42.20" y="403.8" width="0.7" height="6.10" fill="#2a3896" fill-opacity="1.0"/><rect x="42.80" y="403.8" width="1.1" height="6.10" fill="#2a3896" fill-opacity="0.7"/><rect x="44.00" y="403.8" width="1.1" height="6.10" fill="#2a3896" fill-opacity="0.85"/><rect x="44.60" y="403.8" width="0.9" height="6.10" fill="#2a3896" fill-opacity="0.4"/><rect x="45.20" y="403.8" width="0.6" height="6.10" fill="#2a3896" fill-opacity="0.4"/><rect x="46.40" y="403.8" width="0.7" height="6.10" fill="#2a3896" fill-opacity="0.7"/><rect x="47.00" y="403.8" width="1.1" height="6.10" fill="#2a3896" fill-opacity="0.85"/><rect x="48.20" y="403.8" width="1.1" height="6.10" fill="#2a3896" fill-opacity="1.0"/><rect x="48.80" y="403.8" width="0.6" height="6.10" fill="#2a3896" fill-opacity="1.0"/><rect x="50.00" y="403.8" width="0.6" height="6.10" fill="#2a3896" fill-opacity="0.3"/><rect x="51.20" y="403.8" width="1.1" height="6.10" fill="#2a3896" fill-opacity="0.3"/><rect x="53.00" y="403.8" width="0.9" height="6.10" fill="#2a3896" fill-opacity="0.7"/><rect x="53.60" y="403.8" width="1.1" height="6.10" fill="#2a3896" fill-opacity="0.7"/><rect x="54.20" y="403.8" width="1.1" height="6.10" fill="#2a3896" fill-opacity="0.7"/><rect x="54.80" y="403.8" width="0.6" height="6.10" fill="#2a3896" fill-opacity="0.3"/><rect x="55.40" y="403.8" width="1.1" height="6.10" fill="#2a3896" fill-opacity="0.4"/><rect x="56.00" y="403.8" width="0.7" height="6.10" fill="#2a3896" fill-opacity="1.0"/><rect x="56.60" y="403.8" width="0.6" height="6.10" fill="#2a3896" fill-opacity="0.85"/><rect x="57.20" y="403.8" width="0.9" height="6.10" fill="#2a3896" fill-opacity="1.0"/><rect x="58.40" y="403.8" width="0.9" height="6.10" fill="#2a3896" fill-opacity="0.3"/><rect x="59.60" y="403.8" width="0.7" height="6.10" fill="#2a3896" fill-opacity="0.3"/><rect x="60.20" y="403.8" width="0.7" height="6.10" fill="#2a3896" fill-opacity="0.85"/><rect x="61.40" y="403.8" width="0.7" height="6.10" fill="#2a3896" fill-opacity="0.4"/><rect x="62.00" y="403.8" width="0.6" height="6.10" fill="#2a3896" fill-opacity="1.0"/><rect x="63.20" y="403.8" width="0.7" height="6.10" fill="#2a3896" fill-opacity="0.7"/><rect x="63.80" y="403.8" width="0.7" height="6.10" fill="#2a3896" fill-opacity="1.0"/><rect x="64.40" y="403.8" width="1.1" height="6.10" fill="#2a3896" fill-opacity="0.7"/><rect x="65.60" y="403.8" width="0.9" height="6.10" fill="#2a3896" fill-opacity="0.3"/><rect x="66.80" y="403.8" width="0.6" height="6.10" fill="#2a3896" fill-opacity="0.85"/><rect x="68.00" y="403.8" width="0.9" height="6.10" fill="#2a3896" fill-opacity="1.0"/><rect x="68.60" y="403.8" width="0.7" height="6.10" fill="#2a3896" fill-opacity="1.0"/><rect x="69.80" y="403.8" width="0.7" height="6.10" fill="#2a3896" fill-opacity="0.85"/><rect x="70.40" y="403.8" width="1.1" height="6.10" fill="#2a3896" fill-opacity="0.55"/><rect x="71.60" y="403.8" width="0.9" height="6.10" fill="#2a3896" fill-opacity="0.3"/><rect x="73.40" y="403.8" width="1.1" height="6.10" fill="#2a3896" fill-opacity="0.7"/><rect x="75.20" y="403.8" width="0.9" height="6.10" fill="#2a3896" fill-opacity="0.55"/><rect x="76.40" y="403.8" width="0.7" height="6.10" fill="#2a3896" fill-opacity="0.7"/><rect x="77.00" y="403.8" width="0.9" height="6.10" fill="#2a3896" fill-opacity="1.0"/><rect x="78.80" y="403.8" width="1.1" height="6.10" fill="#2a3896" fill-opacity="0.55"/><rect x="80.60" y="403.8" width="0.7" height="6.10" fill="#2a3896" fill-opacity="1.0"/><rect x="81.80" y="403.8" width="0.6" height="6.10" fill="#2a3896" fill-opacity="1.0"/><rect x="82.40" y="403.8" width="0.7" height="6.10" fill="#2a3896" fill-opacity="0.3"/><rect x="83.00" y="403.8" width="0.9" height="6.10" fill="#2a3896" fill-opacity="1.0"/><rect x="84.80" y="403.8" width="0.7" height="6.10" fill="#2a3896" fill-opacity="0.7"/><rect x="85.60" y="403.8" width="1.1" height="6.10" fill="#2a3896" fill-opacity="0.3"/><rect x="86.80" y="403.8" width="0.6" height="6.10" fill="#2a3896" fill-opacity="0.3"/><rect x="87.40" y="403.8" width="0.6" height="6.10" fill="#2a3896" fill-opacity="0.55"/><rect x="88.60" y="403.8" width="0.6" height="6.10" fill="#2a3896" fill-opacity="0.7"/><rect x="89.80" y="403.8" width="0.7" height="6.10" fill="#2a3896" fill-opacity="0.3"/><rect x="91.60" y="403.8" width="0.7" height="6.10" fill="#2a3896" fill-opacity="1.0"/><rect x="92.80" y="403.8" width="1.1" height="6.10" fill="#2a3896" fill-opacity="0.85"/><rect x="93.40" y="403.8" width="0.6" height="6.10" fill="#2a3896" fill-opacity="1.0"/><rect x="94.60" y="403.8" width="0.9" height="6.10" fill="#2a3896" fill-opacity="0.55"/><rect x="96.40" y="403.8" width="0.6" height="6.10" fill="#2a3896" fill-opacity="1.0"/><rect x="97.00" y="403.8" width="0.7" height="6.10" fill="#2a3896" fill-opacity="0.85"/><rect x="98.20" y="403.8" width="0.6" height="6.10" fill="#2a3896" fill-opacity="0.7"/><rect x="100.00" y="403.8" width="1.1" height="6.10" fill="#2a3896" fill-opacity="0.3"/><rect x="102.40" y="403.8" width="1.1" height="6.10" fill="#2a3896" fill-opacity="0.7"/><rect x="103.00" y="403.8" width="0.7" height="6.10" fill="#2a3896" fill-opacity="1.0"/><rect x="103.60" y="403.8" width="1.1" height="6.10" fill="#2a3896" fill-opacity="0.4"/><rect x="104.80" y="403.8" width="1.1" height="6.10" fill="#2a3896" fill-opacity="0.55"/><rect x="105.40" y="403.8" width="0.7" height="6.10" fill="#2a3896" fill-opacity="0.7"/><rect x="106.60" y="403.8" width="0.6" height="6.10" fill="#2a3896" fill-opacity="1.0"/><rect x="109.00" y="403.8" width="1.1" height="6.10" fill="#2a3896" fill-opacity="1.0"/><rect x="110.60" y="403.8" width="0.9" height="6.10" fill="#2a3896" fill-opacity="0.3"/><rect x="112.40" y="403.8" width="1.1" height="6.10" fill="#2a3896" fill-opacity="0.55"/><rect x="114.80" y="403.8" width="0.7" height="6.10" fill="#2a3896" fill-opacity="0.85"/><rect x="116.00" y="403.8" width="0.6" height="6.10" fill="#2a3896" fill-opacity="1.0"/><rect x="117.20" y="403.8" width="1.1" height="6.10" fill="#2a3896" fill-opacity="0.85"/><rect x="118.40" y="403.8" width="0.7" height="6.10" fill="#2a3896" fill-opacity="1.0"/><rect x="119.00" y="403.8" width="0.9" height="6.10" fill="#2a3896" fill-opacity="1.0"/><rect x="120.20" y="403.8" width="0.9" height="6.10" fill="#2a3896" fill-opacity="1.0"/><rect x="121.40" y="403.8" width="0.9" height="6.10" fill="#2a3896" fill-opacity="0.55"/><rect x="122.00" y="403.8" width="0.7" height="6.10" fill="#2a3896" fill-opacity="1.0"/><rect x="123.20" y="403.8" width="1.1" height="6.10" fill="#2a3896" fill-opacity="0.4"/><rect x="124.40" y="403.8" width="1.1" height="6.10" fill="#2a3896" fill-opacity="0.7"/><rect x="126.20" y="403.8" width="1.1" height="6.10" fill="#2a3896" fill-opacity="0.4"/><rect x="127.40" y="403.8" width="0.6" height="6.10" fill="#2a3896" fill-opacity="1.0"/><rect x="129.20" y="403.8" width="0.6" height="6.10" fill="#2a3896" fill-opacity="0.85"/><rect x="130.40" y="403.8" width="1.1" height="6.10" fill="#2a3896" fill-opacity="0.7"/><rect x="131.00" y="403.8" width="0.6" height="6.10" fill="#2a3896" fill-opacity="1.0"/><rect x="131.60" y="403.8" width="0.6" height="6.10" fill="#2a3896" fill-opacity="1.0"/><rect x="132.80" y="403.8" width="0.6" height="6.10" fill="#2a3896" fill-opacity="0.85"/><rect x="134.00" y="403.8" width="1.1" height="6.10" fill="#2a3896" fill-opacity="0.3"/><rect x="135.20" y="403.8" width="1.1" height="6.10" fill="#2a3896" fill-opacity="1.0"/><rect x="137.00" y="403.8" width="1.1" height="6.10" fill="#2a3896" fill-opacity="0.3"/><rect x="138.20" y="403.8" width="0.6" height="6.10" fill="#2a3896" fill-opacity="0.55"/><rect x="139.40" y="403.8" width="0.7" height="6.10" fill="#2a3896" fill-opacity="0.4"/><rect x="140.00" y="403.8" width="1.1" height="6.10" fill="#2a3896" fill-opacity="0.55"/><rect x="140.60" y="403.8" width="0.9" height="6.10" fill="#2a3896" fill-opacity="0.3"/><rect x="141.20" y="403.8" width="0.9" height="6.10" fill="#2a3896" fill-opacity="1.0"/><rect x="141.80" y="403.8" width="0.6" height="6.10" fill="#2a3896" fill-opacity="0.4"/><rect x="143.00" y="403.8" width="0.7" height="6.10" fill="#2a3896" fill-opacity="1.0"/><rect x="144.80" y="403.8" width="0.9" height="6.10" fill="#2a3896" fill-opacity="0.85"/><rect x="145.40" y="403.8" width="1.1" height="6.10" fill="#2a3896" fill-opacity="1.0"/><rect x="146.00" y="403.8" width="1.1" height="6.10" fill="#2a3896" fill-opacity="0.3"/><rect x="146.60" y="403.8" width="0.7" height="6.10" fill="#2a3896" fill-opacity="1.0"/><rect x="147.20" y="403.8" width="0.9" height="6.10" fill="#2a3896" fill-opacity="0.55"/><rect x="148.40" y="403.8" width="1.1" height="6.10" fill="#2a3896" fill-opacity="0.4"/><rect x="149.00" y="403.8" width="0.7" height="6.10" fill="#2a3896" fill-opacity="0.3"/><rect x="149.60" y="403.8" width="0.9" height="6.10" fill="#2a3896" fill-opacity="1.0"/><rect x="150.20" y="403.8" width="0.7" height="6.10" fill="#2a3896" fill-opacity="0.4"/><rect x="150.80" y="403.8" width="1.1" height="6.10" fill="#2a3896" fill-opacity="0.85"/><rect x="151.40" y="403.8" width="1.1" height="6.10" fill="#2a3896" fill-opacity="0.3"/><rect x="153.20" y="403.8" width="0.6" height="6.10" fill="#2a3896" fill-opacity="1.0"/><rect x="153.80" y="403.8" width="0.7" height="6.10" fill="#2a3896" fill-opacity="0.7"/><rect x="154.40" y="403.8" width="0.9" height="6.10" fill="#2a3896" fill-opacity="0.4"/><rect x="155.00" y="403.8" width="0.7" height="6.10" fill="#2a3896" fill-opacity="0.85"/><rect x="155.60" y="403.8" width="0.6" height="6.10" fill="#2a3896" fill-opacity="0.55"/><rect x="156.80" y="403.8" width="0.7" height="6.10" fill="#2a3896" fill-opacity="1.0"/><rect x="157.40" y="403.8" width="1.1" height="6.10" fill="#2a3896" fill-opacity="0.55"/><rect x="159.20" y="403.8" width="1.1" height="6.10" fill="#2a3896" fill-opacity="0.3"/><rect x="159.80" y="403.8" width="0.6" height="6.10" fill="#2a3896" fill-opacity="0.85"/><rect x="161.00" y="403.8" width="0.9" height="6.10" fill="#2a3896" fill-opacity="0.85"/><rect x="163.40" y="403.8" width="0.6" height="6.10" fill="#2a3896" fill-opacity="0.3"/><rect x="164.00" y="403.8" width="0.7" height="6.10" fill="#2a3896" fill-opacity="0.4"/><rect x="164.60" y="403.8" width="0.9" height="6.10" fill="#2a3896" fill-opacity="1.0"/><rect x="165.60" y="403.8" width="0.7" height="6.10" fill="#2a3896" fill-opacity="1.0"/><rect x="166.20" y="403.8" width="1.1" height="6.10" fill="#2a3896" fill-opacity="0.8"/><rect x="166.80" y="403.8" width="0.7" height="6.10" fill="#2a3896" fill-opacity="1.0"/><rect x="167.40" y="403.8" width="1.1" height="6.10" fill="#2a3896" fill-opacity="0.8"/><rect x="168.00" y="403.8" width="0.9" height="6.10" fill="#2a3896" fill-opacity="0.8"/><rect x="168.60" y="403.8" width="0.7" height="6.10" fill="#2a3896" fill-opacity="0.8"/><rect x="169.20" y="403.8" width="1.1" height="6.10" fill="#2a3896" fill-opacity="0.9"/><rect x="169.80" y="403.8" width="0.7" height="6.10" fill="#2a3896" fill-opacity="1.0"/><rect x="170.40" y="403.8" width="0.7" height="6.10" fill="#2a3896" fill-opacity="0.8"/><rect x="171.00" y="403.8" width="0.9" height="6.10" fill="#2a3896" fill-opacity="1.0"/><rect x="171.60" y="403.8" width="0.7" height="6.10" fill="#2a3896" fill-opacity="0.8"/><rect x="172.20" y="403.8" width="0.6" height="6.10" fill="#2a3896" fill-opacity="0.8"/><rect x="172.80" y="403.8" width="1.1" height="6.10" fill="#2a3896" fill-opacity="1.0"/><rect x="174.00" y="403.8" width="0.6" height="6.10" fill="#2a3896" fill-opacity="0.8"/><rect x="174.60" y="403.8" width="0.9" height="6.10" fill="#2a3896" fill-opacity="1.0"/><rect x="175.80" y="403.8" width="0.6" height="6.10" fill="#2a3896" fill-opacity="0.8"/><rect x="176.40" y="403.8" width="0.9" height="6.10" fill="#2a3896" fill-opacity="1.0"/><rect x="177.00" y="403.8" width="0.9" height="6.10" fill="#2a3896" fill-opacity="1.0"/>
<rect x="38.60" y="411.7" width="1.1" height="6.40" fill="#f6661a" fill-opacity="1.0"/><rect x="39.80" y="411.7" width="0.9" height="6.40" fill="#f6661a" fill-opacity="0.4"/><rect x="40.40" y="411.7" width="0.7" height="6.40" fill="#f6661a" fill-opacity="1.0"/><rect x="41.00" y="411.7" width="0.9" height="6.40" fill="#f6661a" fill-opacity="1.0"/><rect x="41.60" y="411.7" width="1.1" height="6.40" fill="#f6661a" fill-opacity="1.0"/><rect x="42.20" y="411.7" width="0.6" height="6.40" fill="#f6661a" fill-opacity="1.0"/><rect x="42.80" y="411.7" width="1.1" height="6.40" fill="#f6661a" fill-opacity="0.85"/><rect x="43.40" y="411.7" width="0.6" height="6.40" fill="#f6661a" fill-opacity="0.3"/><rect x="44.60" y="411.7" width="0.6" height="6.40" fill="#f6661a" fill-opacity="0.3"/><rect x="45.20" y="411.7" width="0.9" height="6.40" fill="#f6661a" fill-opacity="0.55"/><rect x="46.40" y="411.7" width="0.7" height="6.40" fill="#f6661a" fill-opacity="0.85"/><rect x="47.00" y="411.7" width="0.7" height="6.40" fill="#f6661a" fill-opacity="0.85"/><rect x="48.20" y="411.7" width="1.1" height="6.40" fill="#f6661a" fill-opacity="1.0"/><rect x="48.80" y="411.7" width="0.9" height="6.40" fill="#f6661a" fill-opacity="0.55"/><rect x="50.00" y="411.7" width="0.7" height="6.40" fill="#f6661a" fill-opacity="0.4"/><rect x="51.20" y="411.7" width="0.6" height="6.40" fill="#f6661a" fill-opacity="0.55"/><rect x="51.80" y="411.7" width="1.1" height="6.40" fill="#f6661a" fill-opacity="0.55"/><rect x="52.40" y="411.7" width="1.1" height="6.40" fill="#f6661a" fill-opacity="0.55"/><rect x="53.00" y="411.7" width="0.9" height="6.40" fill="#f6661a" fill-opacity="0.7"/><rect x="53.60" y="411.7" width="1.1" height="6.40" fill="#f6661a" fill-opacity="0.3"/><rect x="54.20" y="411.7" width="0.7" height="6.40" fill="#f6661a" fill-opacity="0.3"/><rect x="54.80" y="411.7" width="0.6" height="6.40" fill="#f6661a" fill-opacity="0.7"/><rect x="55.40" y="411.7" width="0.7" height="6.40" fill="#f6661a" fill-opacity="1.0"/><rect x="56.00" y="411.7" width="0.9" height="6.40" fill="#f6661a" fill-opacity="0.7"/><rect x="57.20" y="411.7" width="0.7" height="6.40" fill="#f6661a" fill-opacity="0.4"/><rect x="57.80" y="411.7" width="0.7" height="6.40" fill="#f6661a" fill-opacity="1.0"/><rect x="58.40" y="411.7" width="0.7" height="6.40" fill="#f6661a" fill-opacity="0.4"/><rect x="59.00" y="411.7" width="0.6" height="6.40" fill="#f6661a" fill-opacity="1.0"/><rect x="59.60" y="411.7" width="0.7" height="6.40" fill="#f6661a" fill-opacity="1.0"/><rect x="60.00" y="411.7" width="0.6" height="6.40" fill="#f6661a" fill-opacity="0.7"/><rect x="61.20" y="411.7" width="0.7" height="6.40" fill="#f6661a" fill-opacity="0.55"/><rect x="61.80" y="411.7" width="1.1" height="6.40" fill="#f6661a" fill-opacity="0.4"/><rect x="63.00" y="411.7" width="0.9" height="6.40" fill="#f6661a" fill-opacity="0.4"/><rect x="63.60" y="411.7" width="0.9" height="6.40" fill="#f6661a" fill-opacity="1.0"/><rect x="64.80" y="411.7" width="0.9" height="6.40" fill="#f6661a" fill-opacity="0.55"/><rect x="66.00" y="411.7" width="1.1" height="6.40" fill="#f6661a" fill-opacity="1.0"/><rect x="66.60" y="411.7" width="0.6" height="6.40" fill="#f6661a" fill-opacity="1.0"/><rect x="67.20" y="411.7" width="0.9" height="6.40" fill="#f6661a" fill-opacity="1.0"/><rect x="67.80" y="411.7" width="0.9" height="6.40" fill="#f6661a" fill-opacity="1.0"/><rect x="69.00" y="411.7" width="0.9" height="6.40" fill="#f6661a" fill-opacity="1.0"/><rect x="69.60" y="411.7" width="1.1" height="6.40" fill="#f6661a" fill-opacity="0.55"/><rect x="70.80" y="411.7" width="0.7" height="6.40" fill="#f6661a" fill-opacity="1.0"/><rect x="72.00" y="411.7" width="0.6" height="6.40" fill="#f6661a" fill-opacity="0.3"/><rect x="73.20" y="411.7" width="1.1" height="6.40" fill="#f6661a" fill-opacity="0.4"/><rect x="74.40" y="411.7" width="1.1" height="6.40" fill="#f6661a" fill-opacity="0.7"/><rect x="75.00" y="411.7" width="0.6" height="6.40" fill="#f6661a" fill-opacity="1.0"/><rect x="75.60" y="411.7" width="0.7" height="6.40" fill="#f6661a" fill-opacity="1.0"/><rect x="76.20" y="411.7" width="0.9" height="6.40" fill="#f6661a" fill-opacity="0.4"/><rect x="76.80" y="411.7" width="0.7" height="6.40" fill="#f6661a" fill-opacity="0.7"/><rect x="77.40" y="411.7" width="1.1" height="6.40" fill="#f6661a" fill-opacity="1.0"/><rect x="78.60" y="411.7" width="0.6" height="6.40" fill="#f6661a" fill-opacity="0.3"/><rect x="79.80" y="411.7" width="0.7" height="6.40" fill="#f6661a" fill-opacity="0.7"/><rect x="80.40" y="411.7" width="0.7" height="6.40" fill="#f6661a" fill-opacity="0.7"/><rect x="81.60" y="411.7" width="0.6" height="6.40" fill="#f6661a" fill-opacity="0.3"/><rect x="82.80" y="411.7" width="0.7" height="6.40" fill="#f6661a" fill-opacity="1.0"/><rect x="83.40" y="411.7" width="0.9" height="6.40" fill="#f6661a" fill-opacity="0.55"/><rect x="85.20" y="411.7" width="0.9" height="6.40" fill="#f6661a" fill-opacity="0.85"/><rect x="86.40" y="411.7" width="1.1" height="6.40" fill="#f6661a" fill-opacity="0.3"/><rect x="87.00" y="411.7" width="0.7" height="6.40" fill="#f6661a" fill-opacity="0.3"/><rect x="88.20" y="411.7" width="0.9" height="6.40" fill="#f6661a" fill-opacity="0.7"/><rect x="88.80" y="411.7" width="0.6" height="6.40" fill="#f6661a" fill-opacity="0.3"/><rect x="90.00" y="411.7" width="0.7" height="6.40" fill="#f6661a" fill-opacity="1.0"/><rect x="91.80" y="411.7" width="0.7" height="6.40" fill="#f6661a" fill-opacity="1.0"/><rect x="93.00" y="411.7" width="0.6" height="6.40" fill="#f6661a" fill-opacity="0.55"/><rect x="96.00" y="411.7" width="0.6" height="6.40" fill="#f6661a" fill-opacity="0.3"/><rect x="97.20" y="411.7" width="0.9" height="6.40" fill="#f6661a" fill-opacity="1.0"/><rect x="99.60" y="411.7" width="0.9" height="6.40" fill="#f6661a" fill-opacity="0.55"/><rect x="100.60" y="411.7" width="0.6" height="6.40" fill="#f6661a" fill-opacity="0.3"/><rect x="101.20" y="411.7" width="0.9" height="6.40" fill="#f6661a" fill-opacity="0.3"/><rect x="102.40" y="411.7" width="0.6" height="6.40" fill="#f6661a" fill-opacity="1.0"/><rect x="103.60" y="411.7" width="0.9" height="6.40" fill="#f6661a" fill-opacity="1.0"/><rect x="105.40" y="411.7" width="0.7" height="6.40" fill="#f6661a" fill-opacity="1.0"/><rect x="107.20" y="411.7" width="1.1" height="6.40" fill="#f6661a" fill-opacity="0.3"/><rect x="108.40" y="411.7" width="0.9" height="6.40" fill="#f6661a" fill-opacity="0.55"/><rect x="109.00" y="411.7" width="0.9" height="6.40" fill="#f6661a" fill-opacity="0.7"/><rect x="110.20" y="411.7" width="0.7" height="6.40" fill="#f6661a" fill-opacity="1.0"/><rect x="112.00" y="411.7" width="0.7" height="6.40" fill="#f6661a" fill-opacity="0.85"/><rect x="113.20" y="411.7" width="0.9" height="6.40" fill="#f6661a" fill-opacity="0.7"/><rect x="113.80" y="411.7" width="1.1" height="6.40" fill="#f6661a" fill-opacity="0.55"/><rect x="114.40" y="411.7" width="0.7" height="6.40" fill="#f6661a" fill-opacity="0.85"/><rect x="115.00" y="411.7" width="1.1" height="6.40" fill="#f6661a" fill-opacity="0.4"/><rect x="116.20" y="411.7" width="1.1" height="6.40" fill="#f6661a" fill-opacity="0.7"/><rect x="116.80" y="411.7" width="1.1" height="6.40" fill="#f6661a" fill-opacity="0.4"/><rect x="118.00" y="411.7" width="0.6" height="6.40" fill="#f6661a" fill-opacity="1.0"/><rect x="119.20" y="411.7" width="0.6" height="6.40" fill="#f6661a" fill-opacity="0.3"/><rect x="120.40" y="411.7" width="0.9" height="6.40" fill="#f6661a" fill-opacity="0.4"/><rect x="121.00" y="411.7" width="0.7" height="6.40" fill="#f6661a" fill-opacity="1.0"/><rect x="122.20" y="411.7" width="0.7" height="6.40" fill="#f6661a" fill-opacity="1.0"/><rect x="122.80" y="411.7" width="1.1" height="6.40" fill="#f6661a" fill-opacity="0.85"/><rect x="124.00" y="411.7" width="1.1" height="6.40" fill="#f6661a" fill-opacity="0.3"/><rect x="124.60" y="411.7" width="1.1" height="6.40" fill="#f6661a" fill-opacity="0.7"/><rect x="125.60" y="411.7" width="0.7" height="6.40" fill="#f6661a" fill-opacity="0.3"/><rect x="127.40" y="411.7" width="0.6" height="6.40" fill="#f6661a" fill-opacity="0.55"/><rect x="128.60" y="411.7" width="0.7" height="6.40" fill="#f6661a" fill-opacity="0.55"/><rect x="130.40" y="411.7" width="0.7" height="6.40" fill="#f6661a" fill-opacity="1.0"/><rect x="131.60" y="411.7" width="0.7" height="6.40" fill="#f6661a" fill-opacity="0.4"/><rect x="132.80" y="411.7" width="0.6" height="6.40" fill="#f6661a" fill-opacity="0.85"/><rect x="134.60" y="411.7" width="1.1" height="6.40" fill="#f6661a" fill-opacity="1.0"/><rect x="135.80" y="411.7" width="0.9" height="6.40" fill="#f6661a" fill-opacity="0.4"/><rect x="137.00" y="411.7" width="0.9" height="6.40" fill="#f6661a" fill-opacity="0.3"/><rect x="138.20" y="411.7" width="0.7" height="6.40" fill="#f6661a" fill-opacity="0.55"/><rect x="138.80" y="411.7" width="0.9" height="6.40" fill="#f6661a" fill-opacity="0.85"/><rect x="140.60" y="411.7" width="0.9" height="6.40" fill="#f6661a" fill-opacity="0.4"/><rect x="141.20" y="411.7" width="1.1" height="6.40" fill="#f6661a" fill-opacity="0.55"/><rect x="142.40" y="411.7" width="0.7" height="6.40" fill="#f6661a" fill-opacity="0.85"/><rect x="143.00" y="411.7" width="0.6" height="6.40" fill="#f6661a" fill-opacity="0.4"/><rect x="144.20" y="411.7" width="1.1" height="6.40" fill="#f6661a" fill-opacity="1.0"/><rect x="144.80" y="411.7" width="1.1" height="6.40" fill="#f6661a" fill-opacity="0.85"/><rect x="146.00" y="411.7" width="1.1" height="6.40" fill="#f6661a" fill-opacity="0.3"/><rect x="147.20" y="411.7" width="0.9" height="6.40" fill="#f6661a" fill-opacity="0.55"/><rect x="149.00" y="411.7" width="0.6" height="6.40" fill="#f6661a" fill-opacity="0.55"/><rect x="149.60" y="411.7" width="0.9" height="6.40" fill="#f6661a" fill-opacity="0.4"/><rect x="150.80" y="411.7" width="0.6" height="6.40" fill="#f6661a" fill-opacity="0.3"/><rect x="151.40" y="411.7" width="1.1" height="6.40" fill="#f6661a" fill-opacity="0.7"/><rect x="152.00" y="411.7" width="0.6" height="6.40" fill="#f6661a" fill-opacity="0.55"/><rect x="152.60" y="411.7" width="0.7" height="6.40" fill="#f6661a" fill-opacity="0.7"/><rect x="153.80" y="411.7" width="0.7" height="6.40" fill="#f6661a" fill-opacity="0.3"/><rect x="154.40" y="411.7" width="0.6" height="6.40" fill="#f6661a" fill-opacity="0.4"/><rect x="155.00" y="411.7" width="0.7" height="6.40" fill="#f6661a" fill-opacity="0.3"/><rect x="155.60" y="411.7" width="0.7" height="6.40" fill="#f6661a" fill-opacity="0.3"/><rect x="156.80" y="411.7" width="0.6" height="6.40" fill="#f6661a" fill-opacity="1.0"/><rect x="158.00" y="411.7" width="1.1" height="6.40" fill="#f6661a" fill-opacity="0.4"/><rect x="159.20" y="411.7" width="0.9" height="6.40" fill="#f6661a" fill-opacity="0.4"/><rect x="159.80" y="411.7" width="0.9" height="6.40" fill="#f6661a" fill-opacity="0.85"/><rect x="160.40" y="411.7" width="0.7" height="6.40" fill="#f6661a" fill-opacity="0.7"/><rect x="161.00" y="411.7" width="1.1" height="6.40" fill="#f6661a" fill-opacity="0.7"/><rect x="161.60" y="411.7" width="0.9" height="6.40" fill="#f6661a" fill-opacity="0.3"/><rect x="162.20" y="411.7" width="0.6" height="6.40" fill="#f6661a" fill-opacity="0.85"/><rect x="162.80" y="411.7" width="1.1" height="6.40" fill="#f6661a" fill-opacity="0.3"/><rect x="163.40" y="411.7" width="1.1" height="6.40" fill="#f6661a" fill-opacity="0.55"/><rect x="164.00" y="411.7" width="0.7" height="6.40" fill="#f6661a" fill-opacity="1.0"/><rect x="165.00" y="411.7" width="1.1" height="6.40" fill="#f6661a" fill-opacity="1.0"/><rect x="165.60" y="411.7" width="0.7" height="6.40" fill="#f6661a" fill-opacity="0.9"/><rect x="166.20" y="411.7" width="0.9" height="6.40" fill="#f6661a" fill-opacity="1.0"/><rect x="166.80" y="411.7" width="0.7" height="6.40" fill="#f6661a" fill-opacity="1.0"/><rect x="167.40" y="411.7" width="1.1" height="6.40" fill="#f6661a" fill-opacity="1.0"/><rect x="168.00" y="411.7" width="0.9" height="6.40" fill="#f6661a" fill-opacity="1.0"/><rect x="168.60" y="411.7" width="0.6" height="6.40" fill="#f6661a" fill-opacity="1.0"/><rect x="169.20" y="411.7" width="0.9" height="6.40" fill="#f6661a" fill-opacity="1.0"/><rect x="169.80" y="411.7" width="0.6" height="6.40" fill="#f6661a" fill-opacity="0.9"/><rect x="170.40" y="411.7" width="0.7" height="6.40" fill="#f6661a" fill-opacity="0.8"/><rect x="171.00" y="411.7" width="0.7" height="6.40" fill="#f6661a" fill-opacity="1.0"/><rect x="171.60" y="411.7" width="0.7" height="6.40" fill="#f6661a" fill-opacity="0.9"/><rect x="172.20" y="411.7" width="0.6" height="6.40" fill="#f6661a" fill-opacity="1.0"/><rect x="173.40" y="411.7" width="0.6" height="6.40" fill="#f6661a" fill-opacity="0.9"/><rect x="174.00" y="411.7" width="0.6" height="6.40" fill="#f6661a" fill-opacity="1.0"/><rect x="174.60" y="411.7" width="1.1" height="6.40" fill="#f6661a" fill-opacity="1.0"/><rect x="175.20" y="411.7" width="0.7" height="6.40" fill="#f6661a" fill-opacity="0.8"/><rect x="175.80" y="411.7" width="0.7" height="6.40" fill="#f6661a" fill-opacity="1.0"/><rect x="177.00" y="411.7" width="0.6" height="6.40" fill="#f6661a" fill-opacity="1.0"/>
<rect x="39.20" y="420.0" width="0.6" height="6.50" fill="#2e7d3c" fill-opacity="1.0"/><rect x="39.80" y="420.0" width="1.1" height="6.50" fill="#2e7d3c" fill-opacity="0.7"/><rect x="41.00" y="420.0" width="0.9" height="6.50" fill="#2e7d3c" fill-opacity="1.0"/><rect x="42.20" y="420.0" width="0.6" height="6.50" fill="#2e7d3c" fill-opacity="0.7"/><rect x="43.40" y="420.0" width="1.1" height="6.50" fill="#2e7d3c" fill-opacity="0.7"/><rect x="44.00" y="420.0" width="1.1" height="6.50" fill="#2e7d3c" fill-opacity="0.4"/><rect x="44.60" y="420.0" width="0.7" height="6.50" fill="#2e7d3c" fill-opacity="1.0"/><rect x="45.20" y="420.0" width="0.9" height="6.50" fill="#2e7d3c" fill-opacity="0.55"/><rect x="45.80" y="420.0" width="0.7" height="6.50" fill="#2e7d3c" fill-opacity="0.55"/><rect x="47.00" y="420.0" width="0.9" height="6.50" fill="#2e7d3c" fill-opacity="0.3"/><rect x="47.60" y="420.0" width="0.9" height="6.50" fill="#2e7d3c" fill-opacity="0.85"/><rect x="49.40" y="420.0" width="1.1" height="6.50" fill="#2e7d3c" fill-opacity="0.7"/><rect x="50.60" y="420.0" width="0.7" height="6.50" fill="#2e7d3c" fill-opacity="0.3"/><rect x="51.80" y="420.0" width="0.7" height="6.50" fill="#2e7d3c" fill-opacity="0.55"/><rect x="52.40" y="420.0" width="0.6" height="6.50" fill="#2e7d3c" fill-opacity="1.0"/><rect x="53.60" y="420.0" width="0.9" height="6.50" fill="#2e7d3c" fill-opacity="0.55"/><rect x="54.20" y="420.0" width="0.6" height="6.50" fill="#2e7d3c" fill-opacity="0.85"/><rect x="55.40" y="420.0" width="1.1" height="6.50" fill="#2e7d3c" fill-opacity="0.85"/><rect x="56.00" y="420.0" width="0.7" height="6.50" fill="#2e7d3c" fill-opacity="0.85"/><rect x="56.60" y="420.0" width="0.6" height="6.50" fill="#2e7d3c" fill-opacity="0.3"/><rect x="57.20" y="420.0" width="1.1" height="6.50" fill="#2e7d3c" fill-opacity="0.3"/><rect x="57.80" y="420.0" width="0.7" height="6.50" fill="#2e7d3c" fill-opacity="0.55"/><rect x="58.40" y="420.0" width="0.6" height="6.50" fill="#2e7d3c" fill-opacity="0.55"/><rect x="59.00" y="420.0" width="1.1" height="6.50" fill="#2e7d3c" fill-opacity="1.0"/><rect x="59.60" y="420.0" width="1.1" height="6.50" fill="#2e7d3c" fill-opacity="1.0"/><rect x="60.80" y="420.0" width="0.6" height="6.50" fill="#2e7d3c" fill-opacity="1.0"/><rect x="61.40" y="420.0" width="0.6" height="6.50" fill="#2e7d3c" fill-opacity="0.3"/><rect x="62.60" y="420.0" width="0.6" height="6.50" fill="#2e7d3c" fill-opacity="0.4"/><rect x="63.20" y="420.0" width="1.1" height="6.50" fill="#2e7d3c" fill-opacity="0.3"/><rect x="64.40" y="420.0" width="1.1" height="6.50" fill="#2e7d3c" fill-opacity="0.85"/><rect x="65.60" y="420.0" width="0.9" height="6.50" fill="#2e7d3c" fill-opacity="0.7"/><rect x="66.80" y="420.0" width="0.7" height="6.50" fill="#2e7d3c" fill-opacity="0.55"/><rect x="67.40" y="420.0" width="0.7" height="6.50" fill="#2e7d3c" fill-opacity="0.55"/><rect x="68.60" y="420.0" width="1.1" height="6.50" fill="#2e7d3c" fill-opacity="1.0"/><rect x="70.40" y="420.0" width="1.1" height="6.50" fill="#2e7d3c" fill-opacity="1.0"/><rect x="71.60" y="420.0" width="0.7" height="6.50" fill="#2e7d3c" fill-opacity="0.4"/><rect x="72.20" y="420.0" width="1.1" height="6.50" fill="#2e7d3c" fill-opacity="0.7"/><rect x="73.40" y="420.0" width="0.6" height="6.50" fill="#2e7d3c" fill-opacity="0.55"/><rect x="74.00" y="420.0" width="0.6" height="6.50" fill="#2e7d3c" fill-opacity="1.0"/><rect x="75.20" y="420.0" width="1.1" height="6.50" fill="#2e7d3c" fill-opacity="0.55"/><rect x="77.00" y="420.0" width="0.6" height="6.50" fill="#2e7d3c" fill-opacity="0.55"/><rect x="78.20" y="420.0" width="1.1" height="6.50" fill="#2e7d3c" fill-opacity="0.7"/><rect x="78.80" y="420.0" width="0.6" height="6.50" fill="#2e7d3c" fill-opacity="0.85"/><rect x="80.00" y="420.0" width="1.1" height="6.50" fill="#2e7d3c" fill-opacity="1.0"/><rect x="80.60" y="420.0" width="0.6" height="6.50" fill="#2e7d3c" fill-opacity="0.4"/><rect x="82.40" y="420.0" width="1.1" height="6.50" fill="#2e7d3c" fill-opacity="1.0"/><rect x="83.60" y="420.0" width="0.7" height="6.50" fill="#2e7d3c" fill-opacity="0.4"/><rect x="84.20" y="420.0" width="0.9" height="6.50" fill="#2e7d3c" fill-opacity="0.85"/><rect x="85.40" y="420.0" width="1.1" height="6.50" fill="#2e7d3c" fill-opacity="1.0"/><rect x="86.60" y="420.0" width="1.1" height="6.50" fill="#2e7d3c" fill-opacity="0.7"/><rect x="87.80" y="420.0" width="0.9" height="6.50" fill="#2e7d3c" fill-opacity="0.85"/><rect x="89.60" y="420.0" width="1.1" height="6.50" fill="#2e7d3c" fill-opacity="1.0"/><rect x="91.80" y="420.0" width="0.9" height="6.50" fill="#2e7d3c" fill-opacity="0.55"/><rect x="94.20" y="420.0" width="0.9" height="6.50" fill="#2e7d3c" fill-opacity="1.0"/><rect x="95.40" y="420.0" width="0.9" height="6.50" fill="#2e7d3c" fill-opacity="1.0"/><rect x="97.20" y="420.0" width="0.6" height="6.50" fill="#2e7d3c" fill-opacity="0.85"/><rect x="99.00" y="420.0" width="1.1" height="6.50" fill="#2e7d3c" fill-opacity="1.0"/><rect x="99.60" y="420.0" width="0.7" height="6.50" fill="#2e7d3c" fill-opacity="0.85"/><rect x="101.80" y="420.0" width="1.1" height="6.50" fill="#2e7d3c" fill-opacity="0.4"/><rect x="103.00" y="420.0" width="0.7" height="6.50" fill="#2e7d3c" fill-opacity="1.0"/><rect x="104.20" y="420.0" width="0.7" height="6.50" fill="#2e7d3c" fill-opacity="0.4"/><rect x="104.80" y="420.0" width="0.7" height="6.50" fill="#2e7d3c" fill-opacity="1.0"/><rect x="106.00" y="420.0" width="0.9" height="6.50" fill="#2e7d3c" fill-opacity="0.4"/><rect x="106.60" y="420.0" width="0.6" height="6.50" fill="#2e7d3c" fill-opacity="0.3"/><rect x="107.80" y="420.0" width="0.6" height="6.50" fill="#2e7d3c" fill-opacity="0.55"/><rect x="108.40" y="420.0" width="0.9" height="6.50" fill="#2e7d3c" fill-opacity="1.0"/><rect x="109.00" y="420.0" width="0.7" height="6.50" fill="#2e7d3c" fill-opacity="0.3"/><rect x="110.20" y="420.0" width="0.7" height="6.50" fill="#2e7d3c" fill-opacity="0.85"/><rect x="110.80" y="420.0" width="1.1" height="6.50" fill="#2e7d3c" fill-opacity="0.3"/><rect x="112.00" y="420.0" width="0.9" height="6.50" fill="#2e7d3c" fill-opacity="1.0"/><rect x="112.60" y="420.0" width="0.7" height="6.50" fill="#2e7d3c" fill-opacity="0.4"/><rect x="113.80" y="420.0" width="0.6" height="6.50" fill="#2e7d3c" fill-opacity="0.85"/><rect x="114.40" y="420.0" width="0.7" height="6.50" fill="#2e7d3c" fill-opacity="0.85"/><rect x="115.60" y="420.0" width="0.9" height="6.50" fill="#2e7d3c" fill-opacity="1.0"/><rect x="116.20" y="420.0" width="0.6" height="6.50" fill="#2e7d3c" fill-opacity="1.0"/><rect x="117.40" y="420.0" width="0.7" height="6.50" fill="#2e7d3c" fill-opacity="0.3"/><rect x="118.60" y="420.0" width="0.9" height="6.50" fill="#2e7d3c" fill-opacity="1.0"/><rect x="119.80" y="420.0" width="0.7" height="6.50" fill="#2e7d3c" fill-opacity="0.3"/><rect x="121.00" y="420.0" width="0.6" height="6.50" fill="#2e7d3c" fill-opacity="0.7"/><rect x="121.60" y="420.0" width="1.1" height="6.50" fill="#2e7d3c" fill-opacity="0.55"/><rect x="122.80" y="420.0" width="0.7" height="6.50" fill="#2e7d3c" fill-opacity="0.7"/><rect x="123.40" y="420.0" width="0.6" height="6.50" fill="#2e7d3c" fill-opacity="0.7"/><rect x="125.80" y="420.0" width="0.6" height="6.50" fill="#2e7d3c" fill-opacity="0.4"/><rect x="127.00" y="420.0" width="0.9" height="6.50" fill="#2e7d3c" fill-opacity="0.4"/><rect x="127.60" y="420.0" width="0.6" height="6.50" fill="#2e7d3c" fill-opacity="1.0"/><rect x="128.80" y="420.0" width="0.6" height="6.50" fill="#2e7d3c" fill-opacity="0.7"/><rect x="129.40" y="420.0" width="1.1" height="6.50" fill="#2e7d3c" fill-opacity="0.7"/><rect x="130.00" y="420.0" width="0.9" height="6.50" fill="#2e7d3c" fill-opacity="0.4"/><rect x="133.00" y="420.0" width="0.9" height="6.50" fill="#2e7d3c" fill-opacity="0.3"/><rect x="134.20" y="420.0" width="0.9" height="6.50" fill="#2e7d3c" fill-opacity="0.7"/><rect x="134.80" y="420.0" width="0.6" height="6.50" fill="#2e7d3c" fill-opacity="0.4"/><rect x="135.40" y="420.0" width="0.7" height="6.50" fill="#2e7d3c" fill-opacity="0.4"/><rect x="137.20" y="420.0" width="0.9" height="6.50" fill="#2e7d3c" fill-opacity="1.0"/><rect x="138.40" y="420.0" width="0.6" height="6.50" fill="#2e7d3c" fill-opacity="0.3"/><rect x="139.00" y="420.0" width="0.6" height="6.50" fill="#2e7d3c" fill-opacity="0.3"/><rect x="140.80" y="420.0" width="0.9" height="6.50" fill="#2e7d3c" fill-opacity="0.55"/><rect x="142.60" y="420.0" width="0.6" height="6.50" fill="#2e7d3c" fill-opacity="0.4"/><rect x="143.20" y="420.0" width="0.6" height="6.50" fill="#2e7d3c" fill-opacity="1.0"/><rect x="144.40" y="420.0" width="0.7" height="6.50" fill="#2e7d3c" fill-opacity="0.3"/><rect x="146.80" y="420.0" width="1.1" height="6.50" fill="#2e7d3c" fill-opacity="1.0"/><rect x="148.00" y="420.0" width="1.1" height="6.50" fill="#2e7d3c" fill-opacity="0.55"/><rect x="148.60" y="420.0" width="0.6" height="6.50" fill="#2e7d3c" fill-opacity="0.4"/><rect x="149.80" y="420.0" width="1.1" height="6.50" fill="#2e7d3c" fill-opacity="0.85"/><rect x="151.00" y="420.0" width="0.9" height="6.50" fill="#2e7d3c" fill-opacity="0.7"/><rect x="152.80" y="420.0" width="0.7" height="6.50" fill="#2e7d3c" fill-opacity="1.0"/><rect x="154.00" y="420.0" width="0.7" height="6.50" fill="#2e7d3c" fill-opacity="1.0"/><rect x="155.80" y="420.0" width="1.1" height="6.50" fill="#2e7d3c" fill-opacity="1.0"/><rect x="157.00" y="420.0" width="0.7" height="6.50" fill="#2e7d3c" fill-opacity="1.0"/><rect x="157.60" y="420.0" width="0.6" height="6.50" fill="#2e7d3c" fill-opacity="0.85"/><rect x="158.20" y="420.0" width="0.7" height="6.50" fill="#2e7d3c" fill-opacity="0.4"/><rect x="158.80" y="420.0" width="0.9" height="6.50" fill="#2e7d3c" fill-opacity="0.7"/><rect x="160.60" y="420.0" width="0.6" height="6.50" fill="#2e7d3c" fill-opacity="0.85"/><rect x="161.80" y="420.0" width="1.1" height="6.50" fill="#2e7d3c" fill-opacity="0.4"/><rect x="163.00" y="420.0" width="0.7" height="6.50" fill="#2e7d3c" fill-opacity="0.55"/><rect x="164.80" y="420.0" width="0.7" height="6.50" fill="#2e7d3c" fill-opacity="1.0"/><rect x="165.00" y="420.0" width="0.6" height="6.50" fill="#2e7d3c" fill-opacity="1.0"/><rect x="165.60" y="420.0" width="0.6" height="6.50" fill="#2e7d3c" fill-opacity="1.0"/><rect x="166.20" y="420.0" width="0.7" height="6.50" fill="#2e7d3c" fill-opacity="1.0"/><rect x="166.80" y="420.0" width="0.9" height="6.50" fill="#2e7d3c" fill-opacity="0.9"/><rect x="167.40" y="420.0" width="0.9" height="6.50" fill="#2e7d3c" fill-opacity="0.8"/><rect x="168.00" y="420.0" width="1.1" height="6.50" fill="#2e7d3c" fill-opacity="0.8"/><rect x="168.60" y="420.0" width="1.1" height="6.50" fill="#2e7d3c" fill-opacity="1.0"/><rect x="169.20" y="420.0" width="1.1" height="6.50" fill="#2e7d3c" fill-opacity="0.8"/><rect x="169.80" y="420.0" width="0.7" height="6.50" fill="#2e7d3c" fill-opacity="1.0"/><rect x="170.40" y="420.0" width="0.6" height="6.50" fill="#2e7d3c" fill-opacity="1.0"/><rect x="171.00" y="420.0" width="0.7" height="6.50" fill="#2e7d3c" fill-opacity="0.9"/><rect x="172.20" y="420.0" width="1.1" height="6.50" fill="#2e7d3c" fill-opacity="0.9"/><rect x="172.80" y="420.0" width="1.1" height="6.50" fill="#2e7d3c" fill-opacity="1.0"/><rect x="173.40" y="420.0" width="1.1" height="6.50" fill="#2e7d3c" fill-opacity="0.9"/><rect x="174.00" y="420.0" width="0.9" height="6.50" fill="#2e7d3c" fill-opacity="1.0"/><rect x="174.60" y="420.0" width="0.7" height="6.50" fill="#2e7d3c" fill-opacity="0.9"/><rect x="175.80" y="420.0" width="0.6" height="6.50" fill="#2e7d3c" fill-opacity="0.9"/><rect x="176.40" y="420.0" width="0.9" height="6.50" fill="#2e7d3c" fill-opacity="0.8"/><rect x="177.00" y="420.0" width="1.1" height="6.50" fill="#2e7d3c" fill-opacity="1.0"/>
<path d="M38.40 370.90 L39.30 365.10 L39.90 363.47 L40.50 362.20 L41.40 361.43 L42.30 360.80 L42.98 360.50 L43.67 360.45 L44.35 360.34 L45.03 360.36 L45.72 360.39 L46.40 360.10 L47.04 360.12 L47.69 359.88 L48.33 359.80 L48.98 359.76 L49.62 359.60 L50.27 359.50 L50.91 359.29 L51.56 359.29 L52.20 359.30 L52.87 359.59 L53.54 359.31 L54.21 359.56 L54.89 359.70 L55.56 359.89 L56.23 359.69 L56.90 359.90 L57.60 359.98 L58.30 360.15 L59.00 360.40 L59.70 360.60 L60.40 360.80 L61.06 361.11 L61.71 361.18 L62.37 361.31 L63.03 361.05 L63.69 361.17 L64.34 361.58 L65.00 361.60 L65.64 361.98 L66.27 362.01 L66.91 362.27 L67.55 362.22 L68.18 362.60 L68.82 363.04 L69.45 363.21 L70.09 363.43 L70.73 363.69 L71.36 363.58 L72.00 363.90 L72.64 364.00 L73.27 364.29 L73.91 364.73 L74.55 365.07 L75.18 365.46 L75.82 365.63 L76.45 365.87 L77.09 366.20 L77.73 366.34 L78.36 366.65 L79.00 366.90 L79.63 366.96 L80.25 367.56 L80.88 367.58 L81.51 368.15 L82.13 368.30 L82.76 368.41 L83.39 368.60 L84.01 368.92 L84.64 369.36 L85.27 369.65 L85.89 369.66 L86.52 369.91 L87.15 370.38 L87.77 370.67 L88.40 370.90 L89.01 371.08 L89.62 371.24 L90.23 371.64 L90.84 371.61 L91.45 371.97 L92.06 372.27 L92.67 372.72 L93.28 372.82 L93.89 373.15 L94.51 373.20 L95.12 373.33 L95.73 373.57 L96.34 374.11 L96.95 374.23 L97.56 374.29 L98.17 374.39 L98.78 374.84 L99.39 375.15 L100.00 375.30 L100.62 375.55 L101.24 375.77 L101.86 376.24 L102.48 376.65 L103.10 376.63 L103.72 376.84 L104.34 377.26 L104.96 377.59 L105.58 377.99 L106.20 378.07 L106.82 378.62 L107.44 378.89 L108.06 379.07 L108.68 379.23 L109.30 379.86 L109.92 379.86 L110.54 380.37 L111.16 380.40 L111.78 380.69 L112.40 381.10 L113.02 381.49 L113.64 381.56 L114.26 382.12 L114.88 382.20 L115.50 382.34 L116.12 382.63 L116.74 382.99 L117.36 383.37 L117.98 383.77 L118.60 383.69 L119.22 384.08 L119.84 384.27 L120.46 384.88 L121.08 384.79 L121.70 385.03 L122.32 385.31 L122.94 385.73 L123.56 386.23 L124.18 386.49 L124.80 386.60 L125.42 386.98 L126.04 387.38 L126.66 387.63 L127.28 387.64 L127.90 387.86 L128.52 388.47 L129.14 388.67 L129.76 388.63 L130.38 389.19 L131.00 389.35 L131.62 389.62 L132.24 389.89 L132.86 390.09 L133.48 390.30 L134.10 390.70 L134.72 391.01 L135.34 391.56 L135.96 391.47 L136.58 392.12 L137.20 392.20 L137.82 392.32 L138.44 392.64 L139.06 393.09 L139.68 393.34 L140.30 393.42 L140.92 393.50 L141.54 393.94 L142.16 394.14 L142.78 394.63 L143.40 394.56 L144.02 394.89 L144.64 395.37 L145.26 395.24 L145.88 395.66 L146.50 396.09 L147.12 396.32 L147.74 396.25 L148.36 396.50 L148.98 396.76 L149.60 397.20 L150.22 397.58 L150.85 397.48 L151.47 397.89 L152.10 398.15 L152.72 398.10 L153.35 398.26 L153.97 398.76 L154.60 398.80 L155.22 398.84 L155.85 399.23 L156.47 399.25 L157.10 399.43 L157.72 399.50 L158.35 400.02 L158.97 400.29 L159.60 400.30 L160.21 400.47 L160.83 400.72 L161.44 400.43 L162.06 400.64 L162.67 400.86 L163.29 401.19 L163.90 401.30 L164.51 401.16 L165.13 401.22 L165.74 401.41 L166.36 401.55 L166.97 401.86 L167.59 401.65 L168.20 401.90 L168.83 401.67 L169.47 401.27 L170.10 400.94 L170.73 400.55 L171.37 400.11 L172.00 399.70 L172.60 397.75 L173.20 395.87 L173.80 394.01 L174.40 392.20 L175.03 388.19 L175.67 383.75 L176.30 379.80 L177.10 375.02 L177.90 370.50" stroke="#3f8c52" stroke-width="1.35" fill="none" stroke-linejoin="round"/>
<path d="M38.40 370.90 L39.10 363.40 L39.80 361.76 L40.50 359.90 L41.28 359.19 L42.07 358.51 L42.85 358.10 L43.56 357.73 L44.27 357.80 L44.98 357.54 L45.69 357.67 L46.40 357.30 L47.06 357.34 L47.71 357.26 L48.37 356.81 L49.03 356.60 L49.69 356.48 L50.34 356.53 L51.00 356.40 L51.66 356.36 L52.31 356.11 L52.97 355.88 L53.62 355.83 L54.28 355.79 L54.93 355.68 L55.59 355.58 L56.24 355.49 L56.90 355.20 L57.60 355.51 L58.30 355.51 L59.00 356.07 L59.70 356.07 L60.40 356.40 L61.06 356.59 L61.71 356.66 L62.37 356.98 L63.03 356.90 L63.69 357.07 L64.34 357.23 L65.00 357.50 L65.67 357.43 L66.34 357.84 L67.01 357.79 L67.69 357.77 L68.36 357.88 L69.03 358.23 L69.70 358.10 L70.34 358.27 L70.97 358.31 L71.61 358.73 L72.25 358.82 L72.88 359.13 L73.52 358.91 L74.15 359.23 L74.79 359.55 L75.43 359.72 L76.06 359.92 L76.70 359.90 L77.32 359.94 L77.93 360.29 L78.55 360.46 L79.16 360.73 L79.78 361.32 L80.39 361.39 L81.01 361.78 L81.63 361.78 L82.24 362.24 L82.86 362.30 L83.47 362.46 L84.09 362.93 L84.71 363.24 L85.32 363.12 L85.94 363.57 L86.55 363.83 L87.17 363.89 L87.78 364.20 L88.40 364.50 L89.01 364.61 L89.62 364.91 L90.23 365.20 L90.84 365.62 L91.45 365.91 L92.06 365.98 L92.67 366.16 L93.28 366.57 L93.89 366.99 L94.51 367.05 L95.12 367.37 L95.73 367.59 L96.34 368.12 L96.95 368.28 L97.56 368.33 L98.17 368.62 L98.78 369.02 L99.39 369.35 L100.00 369.60 L100.62 369.93 L101.24 369.95 L101.86 370.25 L102.48 370.75 L103.10 370.89 L103.72 371.09 L104.34 371.37 L104.96 371.92 L105.58 371.90 L106.20 372.28 L106.82 372.45 L107.44 372.74 L108.06 373.21 L108.68 373.53 L109.30 373.52 L109.92 373.71 L110.54 374.21 L111.16 374.24 L111.78 374.42 L112.40 374.90 L113.02 375.35 L113.64 375.42 L114.26 375.87 L114.88 375.96 L115.50 376.44 L116.12 376.53 L116.74 376.68 L117.36 376.89 L117.98 377.40 L118.60 377.71 L119.22 378.11 L119.84 378.02 L120.46 378.53 L121.08 378.69 L121.70 379.03 L122.32 379.14 L122.94 379.48 L123.56 379.86 L124.18 380.31 L124.80 380.40 L125.42 380.45 L126.04 380.84 L126.66 381.19 L127.28 381.49 L127.90 381.37 L128.52 381.56 L129.14 382.13 L129.76 382.37 L130.38 382.37 L131.00 382.40 L131.62 383.01 L132.24 382.99 L132.86 383.44 L133.48 383.53 L134.10 383.84 L134.72 383.77 L135.34 384.27 L135.96 384.24 L136.58 384.54 L137.20 384.80 L137.82 385.14 L138.44 385.31 L139.06 385.22 L139.68 385.42 L140.30 385.68 L140.92 385.92 L141.54 386.04 L142.16 386.11 L142.78 386.35 L143.40 386.75 L144.02 387.01 L144.64 386.82 L145.26 387.23 L145.88 387.50 L146.50 387.37 L147.12 387.91 L147.74 387.78 L148.36 388.17 L148.98 388.34 L149.60 388.50 L150.22 388.75 L150.84 388.80 L151.46 389.04 L152.09 389.31 L152.71 389.43 L153.33 389.73 L153.95 389.83 L154.57 390.02 L155.19 390.03 L155.81 390.48 L156.44 390.62 L157.06 390.70 L157.68 391.12 L158.30 391.20 L158.92 391.38 L159.54 391.30 L160.16 391.23 L160.79 391.42 L161.41 391.31 L162.03 391.38 L162.65 391.57 L163.27 391.48 L163.89 391.69 L164.51 391.78 L165.14 391.63 L165.76 391.95 L166.38 391.76 L167.00 392.00 L167.62 391.94 L168.23 391.79 L168.85 391.51 L169.47 391.14 L170.08 391.17 L170.70 391.00 L171.32 390.02 L171.95 389.35 L172.57 388.06 L173.20 387.30 L173.82 385.58 L174.45 383.77 L175.07 381.78 L175.70 379.80 L176.30 376.84 L176.90 373.47 L177.50 370.50" stroke="#f47a2c" stroke-width="1.35" fill="none" stroke-linejoin="round"/>
<path d="M38.40 370.90 L38.76 366.90 L39.34 356.40 L40.50 351.70 L41.28 350.95 L42.07 349.76 L42.85 348.80 L43.63 348.60 L44.42 348.18 L45.20 347.60 L45.90 347.57 L46.60 347.97 L47.30 348.15 L48.00 347.89 L48.70 348.20 L49.47 347.80 L50.23 347.65 L51.00 347.20 L51.80 346.92 L52.60 347.11 L53.40 346.80 L54.04 346.75 L54.69 347.03 L55.33 346.78 L55.98 346.98 L56.62 347.21 L57.27 346.94 L57.91 347.01 L58.56 347.16 L59.20 347.20 L59.90 347.20 L60.60 347.16 L61.30 347.30 L62.00 347.37 L62.70 347.60 L63.37 348.12 L64.04 348.34 L64.71 348.76 L65.39 348.77 L66.06 349.37 L66.73 349.40 L67.40 349.90 L68.02 350.19 L68.64 350.51 L69.26 350.66 L69.88 351.16 L70.50 351.29 L71.12 351.58 L71.74 351.98 L72.36 351.91 L72.98 352.58 L73.60 352.69 L74.22 352.86 L74.84 353.31 L75.46 353.35 L76.08 353.94 L76.70 354.00 L77.32 354.32 L77.93 354.51 L78.55 354.97 L79.16 355.11 L79.78 355.28 L80.39 355.81 L81.01 355.79 L81.63 356.41 L82.24 356.45 L82.86 356.90 L83.47 357.34 L84.09 357.45 L84.71 357.77 L85.32 357.90 L85.94 358.04 L86.55 358.34 L87.17 358.68 L87.78 359.17 L88.40 359.40 L89.01 359.58 L89.62 359.83 L90.23 360.21 L90.84 360.08 L91.45 360.33 L92.06 360.73 L92.67 360.66 L93.28 360.87 L93.89 361.23 L94.51 361.33 L95.12 361.65 L95.73 361.80 L96.34 362.17 L96.95 362.39 L97.56 362.43 L98.17 362.82 L98.78 362.97 L99.39 363.03 L100.00 363.40 L100.62 363.84 L101.24 363.79 L101.86 364.00 L102.48 364.22 L103.10 364.71 L103.72 365.06 L104.34 365.27 L104.96 365.36 L105.58 365.55 L106.20 365.69 L106.82 366.21 L107.44 366.43 L108.06 366.58 L108.68 366.96 L109.30 367.13 L109.92 367.59 L110.54 367.75 L111.16 367.79 L111.78 368.33 L112.40 368.40 L113.02 368.46 L113.64 368.93 L114.26 369.14 L114.88 369.32 L115.50 369.51 L116.12 370.08 L116.74 370.01 L117.36 370.50 L117.98 370.93 L118.60 371.00 L119.22 371.10 L119.84 371.38 L120.46 371.81 L121.08 372.02 L121.70 372.34 L122.32 372.67 L122.94 372.64 L123.56 372.96 L124.18 373.21 L124.80 373.35 L125.42 373.98 L126.04 374.18 L126.66 374.41 L127.28 374.35 L127.90 374.98 L128.52 375.19 L129.14 375.32 L129.76 375.70 L130.38 375.82 L131.00 376.10 L131.62 376.19 L132.24 376.36 L132.86 376.63 L133.48 376.76 L134.10 377.10 L134.72 377.50 L135.34 377.69 L135.96 377.97 L136.58 378.13 L137.20 378.15 L137.82 378.49 L138.44 378.65 L139.06 379.02 L139.68 379.12 L140.30 379.22 L140.92 379.60 L141.54 379.96 L142.16 379.85 L142.78 380.35 L143.40 380.40 L144.02 380.41 L144.64 380.73 L145.26 380.94 L145.88 381.39 L146.50 381.70 L147.12 381.83 L147.74 381.86 L148.36 382.33 L148.98 382.30 L149.60 382.49 L150.22 383.00 L150.84 383.10 L151.46 383.34 L152.08 383.55 L152.70 383.91 L153.32 383.91 L153.94 384.29 L154.56 384.45 L155.18 384.74 L155.80 384.80 L156.43 385.00 L157.05 385.35 L157.68 385.51 L158.30 385.62 L158.93 385.80 L159.55 386.20 L160.18 386.19 L160.80 386.78 L161.43 386.67 L162.05 386.84 L162.68 387.10 L163.30 387.50 L163.92 387.60 L164.54 387.25 L165.16 387.07 L165.78 386.93 L166.40 386.85 L167.02 387.04 L167.64 386.93 L168.26 386.87 L168.88 386.79 L169.50 386.60 L170.12 386.11 L170.75 386.04 L171.38 385.64 L172.00 385.40 L172.60 384.14 L173.20 382.74 L173.80 381.37 L174.40 379.80 L175.02 377.75 L175.64 376.24 L176.26 374.40 L176.88 372.56 L177.50 370.50" stroke="#2b3896" stroke-width="1.35" fill="none" stroke-linejoin="round"/>
<line x1="160.40" y1="333.00" x2="174.20" y2="333.00" stroke="#2b3896" stroke-width="1.7"/>
<text x="178.20" y="335.60" font-size="7.85">PGE<tspan font-size="4.96" dy="2.40">2</tspan><tspan dy="-2.4"> vs No stimulant</tspan></text>
<line x1="160.40" y1="342.20" x2="174.20" y2="342.20" stroke="#f47a2c" stroke-width="1.7"/>
<text x="178.20" y="344.80" font-size="7.85">P3C+PGE<tspan font-size="4.96" dy="2.40">2</tspan><tspan dy="-2.4"> vs P3C</tspan></text>
<line x1="160.40" y1="352.90" x2="174.20" y2="352.90" stroke="#3f8c52" stroke-width="1.7"/>
<text x="178.20" y="355.50" font-size="7.85">TNF+PGE<tspan font-size="4.96" dy="2.40">2</tspan><tspan dy="-2.4"> vs TNF</tspan></text>
<text x="11.90" y="402.90" font-size="8.4" text-anchor="middle" transform="rotate(-90 11.90 402.90)">Running enrichment score</text>
<line x1="9.70" y1="226.50" x2="9.70" y2="348.00" stroke="#555" stroke-width="0.9"/>
<path d="M8.0 227.8 L9.7 223.6 L11.4 227.8 Z" stroke="#222" stroke-width="0.5" fill="#222"/>
<text x="27.60" y="453.60" font-size="8.3">Genes rank (x10<tspan font-size="5.6" dy="-3">5</tspan><tspan dy="3">)</tspan></text>
<line x1="100.40" y1="451.30" x2="185.00" y2="451.30" stroke="#222" stroke-width="1.0"/>
<path d="M184.4 449.9 L188.0 451.3 L184.4 452.7 Z" stroke="#222" stroke-width="0.4" fill="#222"/>
<line x1="212.80" y1="267.40" x2="212.80" y2="306.40" stroke="#666" stroke-width="1.1"/>
<line x1="186.50" y1="277.30" x2="256.40" y2="277.30" stroke="#222" stroke-width="1.1"/>
<text x="208.90" y="274.80" font-size="7.7" text-anchor="end">NES</text>
<text x="227.30" y="274.80" font-size="8.4"><tspan font-style="italic">P</tspan><tspan font-size="5.0" dy="2.2">adj</tspan></text>
<text x="209.60" y="286.30" font-size="7.7" text-anchor="end">-2.134</text>
<text x="217.20" y="286.30" font-size="7.7">4.05 x 10<tspan font-size="5.2" dy="-2.8">-5</tspan></text>
<text x="209.60" y="295.50" font-size="7.7" text-anchor="end">-2.363</text>
<text x="217.20" y="295.50" font-size="7.7">5.52 x 10<tspan font-size="5.2" dy="-2.8">-9</tspan></text>
<text x="209.60" y="304.70" font-size="7.7" text-anchor="end">-2.381</text>
<text x="217.20" y="304.70" font-size="7.7">8.84 x 10<tspan font-size="5.2" dy="-2.8">-10</tspan></text>
<line x1="212.80" y1="390.00" x2="212.80" y2="426.90" stroke="#666" stroke-width="1.1"/>
<line x1="192.00" y1="399.20" x2="253.60" y2="399.20" stroke="#222" stroke-width="1.1"/>
<text x="208.90" y="396.80" font-size="7.7" text-anchor="end">NES</text>
<text x="227.30" y="396.80" font-size="8.4"><tspan font-style="italic">P</tspan><tspan font-size="5.0" dy="2.2">adj</tspan></text>
<text x="209.60" y="408.40" font-size="7.7" text-anchor="end">1.656</text>
<text x="217.20" y="408.40" font-size="7.7">2.04 x 10<tspan font-size="5.2" dy="-2.8">-3</tspan></text>
<text x="209.60" y="417.90" font-size="7.7" text-anchor="end">-1.552</text>
<text x="217.20" y="417.90" font-size="7.7">4.21 x 10<tspan font-size="5.2" dy="-2.8">-3</tspan></text>
<text x="209.60" y="427.40" font-size="7.7" text-anchor="end">-2.113</text>
<text x="217.20" y="427.40" font-size="7.7">5.66 x 10<tspan font-size="5.2" dy="-2.8">-10</tspan></text>
<rect x="321.20" y="218.20" width="158.80" height="31.20" fill="#dcdeec"/>
<rect x="321.95" y="218.85" width="7.20" height="6.95" fill="#3d57aa"/>
<rect x="321.95" y="226.50" width="7.20" height="6.95" fill="#3350a5"/>
<rect x="321.95" y="234.15" width="7.20" height="6.95" fill="#1f3290"/>
<rect x="321.95" y="241.80" width="7.20" height="6.95" fill="#3350a5"/>
<rect x="329.85" y="218.85" width="7.20" height="6.95" fill="#3350a5"/>
<rect x="329.85" y="226.50" width="7.20" height="6.95" fill="#3350a5"/>
<rect x="329.85" y="234.15" width="7.20" height="6.95" fill="#3350a5"/>
<rect x="329.85" y="241.80" width="7.20" height="6.95" fill="#3350a5"/>
<rect x="337.75" y="218.85" width="7.20" height="6.95" fill="#3350a5"/>
<rect x="337.75" y="226.50" width="7.20" height="6.95" fill="#aab0d8"/>
<rect x="337.75" y="234.15" width="7.20" height="6.95" fill="#3d57aa"/>
<rect x="337.75" y="241.80" width="7.20" height="6.95" fill="#7880c0"/>
<rect x="345.65" y="218.85" width="7.20" height="6.95" fill="#3350a5"/>
<rect x="345.65" y="226.50" width="7.20" height="6.95" fill="#3350a5"/>
<rect x="345.65" y="234.15" width="7.20" height="6.95" fill="#293f99"/>
<rect x="345.65" y="241.80" width="7.20" height="6.95" fill="#3350a5"/>
<rect x="353.55" y="218.85" width="7.20" height="6.95" fill="#3350a5"/>
<rect x="353.55" y="226.50" width="7.20" height="6.95" fill="#293f99"/>
<rect x="353.55" y="234.15" width="7.20" height="6.95" fill="#1f3290"/>
<rect x="353.55" y="241.80" width="7.20" height="6.95" fill="#293f99"/>
<rect x="361.45" y="218.85" width="7.20" height="6.95" fill="#3350a5"/>
<rect x="361.45" y="226.50" width="7.20" height="6.95" fill="#dadcef"/>
<rect x="361.45" y="234.15" width="7.20" height="6.95" fill="#5668b2"/>
<rect x="361.45" y="241.80" width="7.20" height="6.95" fill="#fdcd4c"/>
<rect x="369.35" y="218.85" width="7.20" height="6.95" fill="#3350a5"/>
<rect x="369.35" y="226.50" width="7.20" height="6.95" fill="#3350a5"/>
<rect x="369.35" y="234.15" width="7.20" height="6.95" fill="#3350a5"/>
<rect x="369.35" y="241.80" width="7.20" height="6.95" fill="#fef3da"/>
<rect x="377.25" y="218.85" width="7.20" height="6.95" fill="#3350a5"/>
<rect x="377.25" y="226.50" width="7.20" height="6.95" fill="#fcfcfe"/>
<rect x="377.25" y="234.15" width="7.20" height="6.95" fill="#fde4a2"/>
<rect x="377.25" y="241.80" width="7.20" height="6.95" fill="#fde4a2"/>
<rect x="385.15" y="218.85" width="7.20" height="6.95" fill="#293f99"/>
<rect x="385.15" y="226.50" width="7.20" height="6.95" fill="#3350a5"/>
<rect x="385.15" y="234.15" width="7.20" height="6.95" fill="#293f99"/>
<rect x="385.15" y="241.80" width="7.20" height="6.95" fill="#3350a5"/>
<rect x="393.05" y="218.85" width="7.20" height="6.95" fill="#3350a5"/>
<rect x="393.05" y="226.50" width="7.20" height="6.95" fill="#293f99"/>
<rect x="393.05" y="234.15" width="7.20" height="6.95" fill="#293f99"/>
<rect x="393.05" y="241.80" width="7.20" height="6.95" fill="#3350a5"/>
<rect x="400.95" y="218.85" width="7.20" height="6.95" fill="#3350a5"/>
<rect x="400.95" y="226.50" width="7.20" height="6.95" fill="#7880c0"/>
<rect x="400.95" y="234.15" width="7.20" height="6.95" fill="#3350a5"/>
<rect x="400.95" y="241.80" width="7.20" height="6.95" fill="#dadcef"/>
<rect x="408.85" y="218.85" width="7.20" height="6.95" fill="#3350a5"/>
<rect x="408.85" y="226.50" width="7.20" height="6.95" fill="#3350a5"/>
<rect x="408.85" y="234.15" width="7.20" height="6.95" fill="#3350a5"/>
<rect x="408.85" y="241.80" width="7.20" height="6.95" fill="#3350a5"/>
<rect x="416.75" y="218.85" width="7.20" height="6.95" fill="#3350a5"/>
<rect x="416.75" y="226.50" width="7.20" height="6.95" fill="#7880c0"/>
<rect x="416.75" y="234.15" width="7.20" height="6.95" fill="#3350a5"/>
<rect x="416.75" y="241.80" width="7.20" height="6.95" fill="#aab0d8"/>
<rect x="424.65" y="218.85" width="7.20" height="6.95" fill="#aab0d8"/>
<rect x="424.65" y="226.50" width="7.20" height="6.95" fill="#3350a5"/>
<rect x="424.65" y="234.15" width="7.20" height="6.95" fill="#3350a5"/>
<rect x="424.65" y="241.80" width="7.20" height="6.95" fill="#7880c0"/>
<rect x="432.55" y="218.85" width="7.20" height="6.95" fill="#3350a5"/>
<rect x="432.55" y="226.50" width="7.20" height="6.95" fill="#3350a5"/>
<rect x="432.55" y="234.15" width="7.20" height="6.95" fill="#3350a5"/>
<rect x="432.55" y="241.80" width="7.20" height="6.95" fill="#293f99"/>
<rect x="440.45" y="218.85" width="7.20" height="6.95" fill="#3350a5"/>
<rect x="440.45" y="226.50" width="7.20" height="6.95" fill="#293f99"/>
<rect x="440.45" y="234.15" width="7.20" height="6.95" fill="#293f99"/>
<rect x="440.45" y="241.80" width="7.20" height="6.95" fill="#3350a5"/>
<rect x="448.35" y="218.85" width="7.20" height="6.95" fill="#fcfcfe"/>
<rect x="448.35" y="226.50" width="7.20" height="6.95" fill="#aab0d8"/>
<rect x="448.35" y="234.15" width="7.20" height="6.95" fill="#fcfcfe"/>
<rect x="448.35" y="241.80" width="7.20" height="6.95" fill="#fcfcfe"/>
<rect x="456.25" y="218.85" width="7.20" height="6.95" fill="#aab0d8"/>
<rect x="456.25" y="226.50" width="7.20" height="6.95" fill="#dadcef"/>
<rect x="456.25" y="234.15" width="7.20" height="6.95" fill="#3350a5"/>
<rect x="456.25" y="241.80" width="7.20" height="6.95" fill="#fef3da"/>
<rect x="464.15" y="218.85" width="7.20" height="6.95" fill="#7880c0"/>
<rect x="464.15" y="226.50" width="7.20" height="6.95" fill="#dadcef"/>
<rect x="464.15" y="234.15" width="7.20" height="6.95" fill="#fde4a2"/>
<rect x="464.15" y="241.80" width="7.20" height="6.95" fill="#dadcef"/>
<rect x="472.05" y="218.85" width="7.20" height="6.95" fill="#7880c0"/>
<rect x="472.05" y="226.50" width="7.20" height="6.95" fill="#aab0d8"/>
<rect x="472.05" y="234.15" width="7.20" height="6.95" fill="#3350a5"/>
<rect x="472.05" y="241.80" width="7.20" height="6.95" fill="#3350a5"/>
<line x1="321.30" y1="218.50" x2="321.30" y2="249.70" stroke="#555" stroke-width="0.9"/>
<line x1="319.20" y1="222.32" x2="321.30" y2="222.32" stroke="#333" stroke-width="0.9"/>
<line x1="319.20" y1="229.97" x2="321.30" y2="229.97" stroke="#333" stroke-width="0.9"/>
<line x1="319.20" y1="237.62" x2="321.30" y2="237.62" stroke="#333" stroke-width="0.9"/>
<line x1="319.20" y1="245.28" x2="321.30" y2="245.28" stroke="#333" stroke-width="0.9"/>
<line x1="321.20" y1="249.60" x2="480.00" y2="249.60" stroke="#333" stroke-width="1.0"/>
<line x1="325.55" y1="249.60" x2="325.55" y2="251.40" stroke="#333" stroke-width="0.8"/>
<text x="328.25" y="254.80" font-size="7.6" text-anchor="end" font-style="italic" transform="rotate(-90 328.25 254.80)">NDUFB5</text>
<line x1="333.45" y1="249.60" x2="333.45" y2="251.40" stroke="#333" stroke-width="0.8"/>
<text x="336.15" y="254.80" font-size="7.6" text-anchor="end" font-style="italic" transform="rotate(-90 336.15 254.80)">NDUFA1</text>
<line x1="341.35" y1="249.60" x2="341.35" y2="251.40" stroke="#333" stroke-width="0.8"/>
<text x="344.05" y="254.80" font-size="7.6" text-anchor="end" font-style="italic" transform="rotate(-90 344.05 254.80)">NDUFV2</text>
<line x1="349.25" y1="249.60" x2="349.25" y2="251.40" stroke="#333" stroke-width="0.8"/>
<text x="351.95" y="254.80" font-size="7.6" text-anchor="end" font-style="italic" transform="rotate(-90 351.95 254.80)">NDUFS5</text>
<line x1="357.15" y1="249.60" x2="357.15" y2="251.40" stroke="#333" stroke-width="0.8"/>
<text x="359.85" y="254.80" font-size="7.6" text-anchor="end" font-style="italic" transform="rotate(-90 359.85 254.80)">NDUFS3</text>
<line x1="365.05" y1="249.60" x2="365.05" y2="251.40" stroke="#333" stroke-width="0.8"/>
<text x="367.75" y="254.80" font-size="7.6" text-anchor="end" font-style="italic" transform="rotate(-90 367.75 254.80)">NDUFS1</text>
<line x1="372.95" y1="249.60" x2="372.95" y2="251.40" stroke="#333" stroke-width="0.8"/>
<text x="375.65" y="254.80" font-size="7.6" text-anchor="end" font-style="italic" transform="rotate(-90 375.65 254.80)">NDUFB10</text>
<line x1="380.85" y1="249.60" x2="380.85" y2="251.40" stroke="#333" stroke-width="0.8"/>
<text x="383.55" y="254.80" font-size="7.6" text-anchor="end" font-style="italic" transform="rotate(-90 383.55 254.80)">NDUFAF1</text>
<line x1="388.75" y1="249.60" x2="388.75" y2="251.40" stroke="#333" stroke-width="0.8"/>
<text x="391.45" y="254.80" font-size="7.6" text-anchor="end" font-style="italic" transform="rotate(-90 391.45 254.80)">NDUFV1</text>
<line x1="396.65" y1="249.60" x2="396.65" y2="251.40" stroke="#333" stroke-width="0.8"/>
<text x="399.35" y="254.80" font-size="7.6" text-anchor="end" font-style="italic" transform="rotate(-90 399.35 254.80)">NDUFS4</text>
<line x1="404.55" y1="249.60" x2="404.55" y2="251.40" stroke="#333" stroke-width="0.8"/>
<text x="407.25" y="254.80" font-size="7.6" text-anchor="end" font-style="italic" transform="rotate(-90 407.25 254.80)">NDUFA10</text>
<line x1="412.45" y1="249.60" x2="412.45" y2="251.40" stroke="#333" stroke-width="0.8"/>
<text x="415.15" y="254.80" font-size="7.6" text-anchor="end" font-style="italic" transform="rotate(-90 415.15 254.80)">NDUFA12</text>
<line x1="420.35" y1="249.60" x2="420.35" y2="251.40" stroke="#333" stroke-width="0.8"/>
<text x="423.05" y="254.80" font-size="7.6" text-anchor="end" font-style="italic" transform="rotate(-90 423.05 254.80)">NDUFV3</text>
<line x1="428.25" y1="249.60" x2="428.25" y2="251.40" stroke="#333" stroke-width="0.8"/>
<text x="430.95" y="254.80" font-size="7.6" text-anchor="end" font-style="italic" transform="rotate(-90 430.95 254.80)">NDUFB3</text>
<line x1="436.15" y1="249.60" x2="436.15" y2="251.40" stroke="#333" stroke-width="0.8"/>
<text x="438.85" y="254.80" font-size="7.6" text-anchor="end" font-style="italic" transform="rotate(-90 438.85 254.80)">NDUFB11</text>
<line x1="444.05" y1="249.60" x2="444.05" y2="251.40" stroke="#333" stroke-width="0.8"/>
<text x="446.75" y="254.80" font-size="7.6" text-anchor="end" font-style="italic" transform="rotate(-90 446.75 254.80)">NDUFAF2</text>
<line x1="451.95" y1="249.60" x2="451.95" y2="251.40" stroke="#333" stroke-width="0.8"/>
<text x="454.65" y="254.80" font-size="7.6" text-anchor="end" font-style="italic" transform="rotate(-90 454.65 254.80)">NDUFB4</text>
<line x1="459.85" y1="249.60" x2="459.85" y2="251.40" stroke="#333" stroke-width="0.8"/>
<text x="462.55" y="254.80" font-size="7.6" text-anchor="end" font-style="italic" transform="rotate(-90 462.55 254.80)">NDUFB6</text>
<line x1="467.75" y1="249.60" x2="467.75" y2="251.40" stroke="#333" stroke-width="0.8"/>
<text x="470.45" y="254.80" font-size="7.6" text-anchor="end" font-style="italic" transform="rotate(-90 470.45 254.80)">NDUFA5</text>
<line x1="475.65" y1="249.60" x2="475.65" y2="251.40" stroke="#333" stroke-width="0.8"/>
<text x="478.35" y="254.80" font-size="7.6" text-anchor="end" font-style="italic" transform="rotate(-90 478.35 254.80)">NDUFA3</text>
<rect x="484.10" y="218.20" width="32.40" height="31.20" fill="#dcdeec"/>
<rect x="484.85" y="218.85" width="7.20" height="6.95" fill="#fef3da"/>
<rect x="484.85" y="226.50" width="7.20" height="6.95" fill="#aab0d8"/>
<rect x="484.85" y="234.15" width="7.20" height="6.95" fill="#3350a5"/>
<rect x="484.85" y="241.80" width="7.20" height="6.95" fill="#7880c0"/>
<rect x="492.75" y="218.85" width="7.20" height="6.95" fill="#dadcef"/>
<rect x="492.75" y="226.50" width="7.20" height="6.95" fill="#dadcef"/>
<rect x="492.75" y="234.15" width="7.20" height="6.95" fill="#5668b2"/>
<rect x="492.75" y="241.80" width="7.20" height="6.95" fill="#fde4a2"/>
<rect x="500.65" y="218.85" width="7.20" height="6.95" fill="#3350a5"/>
<rect x="500.65" y="226.50" width="7.20" height="6.95" fill="#3350a5"/>
<rect x="500.65" y="234.15" width="7.20" height="6.95" fill="#293f99"/>
<rect x="500.65" y="241.80" width="7.20" height="6.95" fill="#3350a5"/>
<rect x="508.55" y="218.85" width="7.20" height="6.95" fill="#7880c0"/>
<rect x="508.55" y="226.50" width="7.20" height="6.95" fill="#3350a5"/>
<rect x="508.55" y="234.15" width="7.20" height="6.95" fill="#1f3290"/>
<rect x="508.55" y="241.80" width="7.20" height="6.95" fill="#3350a5"/>
<line x1="484.10" y1="249.60" x2="516.50" y2="249.60" stroke="#333" stroke-width="1.0"/>
<line x1="488.45" y1="249.60" x2="488.45" y2="251.40" stroke="#333" stroke-width="0.8"/>
<text x="491.15" y="254.80" font-size="7.6" text-anchor="end" font-style="italic" transform="rotate(-90 491.15 254.80)">SDHA</text>
<line x1="496.35" y1="249.60" x2="496.35" y2="251.40" stroke="#333" stroke-width="0.8"/>
<text x="499.05" y="254.80" font-size="7.6" text-anchor="end" font-style="italic" transform="rotate(-90 499.05 254.80)">SDHC</text>
<line x1="504.25" y1="249.60" x2="504.25" y2="251.40" stroke="#333" stroke-width="0.8"/>
<text x="506.95" y="254.80" font-size="7.6" text-anchor="end" font-style="italic" transform="rotate(-90 506.95 254.80)">SDHB</text>
<line x1="512.15" y1="249.60" x2="512.15" y2="251.40" stroke="#333" stroke-width="0.8"/>
<text x="514.85" y="254.80" font-size="7.6" text-anchor="end" font-style="italic" transform="rotate(-90 514.85 254.80)">SDHD</text>
<rect x="520.50" y="218.20" width="56.10" height="31.20" fill="#dcdeec"/>
<rect x="521.25" y="218.85" width="7.20" height="6.95" fill="#3350a5"/>
<rect x="521.25" y="226.50" width="7.20" height="6.95" fill="#3350a5"/>
<rect x="521.25" y="234.15" width="7.20" height="6.95" fill="#3350a5"/>
<rect x="521.25" y="241.80" width="7.20" height="6.95" fill="#5668b2"/>
<rect x="529.15" y="218.85" width="7.20" height="6.95" fill="#3350a5"/>
<rect x="529.15" y="226.50" width="7.20" height="6.95" fill="#3350a5"/>
<rect x="529.15" y="234.15" width="7.20" height="6.95" fill="#293f99"/>
<rect x="529.15" y="241.80" width="7.20" height="6.95" fill="#3350a5"/>
<rect x="537.05" y="218.85" width="7.20" height="6.95" fill="#3350a5"/>
<rect x="537.05" y="226.50" width="7.20" height="6.95" fill="#3350a5"/>
<rect x="537.05" y="234.15" width="7.20" height="6.95" fill="#3350a5"/>
<rect x="537.05" y="241.80" width="7.20" height="6.95" fill="#3350a5"/>
<rect x="544.95" y="218.85" width="7.20" height="6.95" fill="#3350a5"/>
<rect x="544.95" y="226.50" width="7.20" height="6.95" fill="#3350a5"/>
<rect x="544.95" y="234.15" width="7.20" height="6.95" fill="#293f99"/>
<rect x="544.95" y="241.80" width="7.20" height="6.95" fill="#3350a5"/>
<rect x="552.85" y="218.85" width="7.20" height="6.95" fill="#3350a5"/>
<rect x="552.85" y="226.50" width="7.20" height="6.95" fill="#5668b2"/>
<rect x="552.85" y="234.15" width="7.20" height="6.95" fill="#293f99"/>
<rect x="552.85" y="241.80" width="7.20" height="6.95" fill="#3350a5"/>
<rect x="560.75" y="218.85" width="7.20" height="6.95" fill="#dadcef"/>
<rect x="560.75" y="226.50" width="7.20" height="6.95" fill="#fde4a2"/>
<rect x="560.75" y="234.15" width="7.20" height="6.95" fill="#5668b2"/>
<rect x="560.75" y="241.80" width="7.20" height="6.95" fill="#dadcef"/>
<rect x="568.65" y="218.85" width="7.20" height="6.95" fill="#5668b2"/>
<rect x="568.65" y="226.50" width="7.20" height="6.95" fill="#3350a5"/>
<rect x="568.65" y="234.15" width="7.20" height="6.95" fill="#293f99"/>
<rect x="568.65" y="241.80" width="7.20" height="6.95" fill="#3350a5"/>
<line x1="520.50" y1="249.60" x2="576.60" y2="249.60" stroke="#333" stroke-width="1.0"/>
<line x1="524.85" y1="249.60" x2="524.85" y2="251.40" stroke="#333" stroke-width="0.8"/>
<text x="527.55" y="254.80" font-size="7.6" text-anchor="end" font-style="italic" transform="rotate(-90 527.55 254.80)">UQCRH</text>
<line x1="532.75" y1="249.60" x2="532.75" y2="251.40" stroke="#333" stroke-width="0.8"/>
<text x="535.45" y="254.80" font-size="7.6" text-anchor="end" font-style="italic" transform="rotate(-90 535.45 254.80)">UQCRQ</text>
<line x1="540.65" y1="249.60" x2="540.65" y2="251.40" stroke="#333" stroke-width="0.8"/>
<text x="543.35" y="254.80" font-size="7.6" text-anchor="end" font-style="italic" transform="rotate(-90 543.35 254.80)">UQCRC2</text>
<line x1="548.55" y1="249.60" x2="548.55" y2="251.40" stroke="#333" stroke-width="0.8"/>
<text x="551.25" y="254.80" font-size="7.6" text-anchor="end" font-style="italic" transform="rotate(-90 551.25 254.80)">UQCRFS1</text>
<line x1="556.45" y1="249.60" x2="556.45" y2="251.40" stroke="#333" stroke-width="0.8"/>
<text x="559.15" y="254.80" font-size="7.6" text-anchor="end" font-style="italic" transform="rotate(-90 559.15 254.80)">CYC1</text>
<line x1="564.35" y1="249.60" x2="564.35" y2="251.40" stroke="#333" stroke-width="0.8"/>
<text x="567.05" y="254.80" font-size="7.6" text-anchor="end" font-style="italic" transform="rotate(-90 567.05 254.80)">UQCRB</text>
<line x1="572.25" y1="249.60" x2="572.25" y2="251.40" stroke="#333" stroke-width="0.8"/>
<text x="574.95" y="254.80" font-size="7.6" text-anchor="end" font-style="italic" transform="rotate(-90 574.95 254.80)">UQCRC1</text>
<rect x="580.70" y="218.20" width="79.80" height="31.20" fill="#dcdeec"/>
<rect x="581.45" y="218.85" width="7.20" height="6.95" fill="#3350a5"/>
<rect x="581.45" y="226.50" width="7.20" height="6.95" fill="#3350a5"/>
<rect x="581.45" y="234.15" width="7.20" height="6.95" fill="#3350a5"/>
<rect x="581.45" y="241.80" width="7.20" height="6.95" fill="#3350a5"/>
<rect x="589.35" y="218.85" width="7.20" height="6.95" fill="#293f99"/>
<rect x="589.35" y="226.50" width="7.20" height="6.95" fill="#3350a5"/>
<rect x="589.35" y="234.15" width="7.20" height="6.95" fill="#293f99"/>
<rect x="589.35" y="241.80" width="7.20" height="6.95" fill="#3350a5"/>
<rect x="597.25" y="218.85" width="7.20" height="6.95" fill="#3350a5"/>
<rect x="597.25" y="226.50" width="7.20" height="6.95" fill="#3350a5"/>
<rect x="597.25" y="234.15" width="7.20" height="6.95" fill="#3350a5"/>
<rect x="597.25" y="241.80" width="7.20" height="6.95" fill="#3350a5"/>
<rect x="605.15" y="218.85" width="7.20" height="6.95" fill="#3350a5"/>
<rect x="605.15" y="226.50" width="7.20" height="6.95" fill="#293f99"/>
<rect x="605.15" y="234.15" width="7.20" height="6.95" fill="#293f99"/>
<rect x="605.15" y="241.80" width="7.20" height="6.95" fill="#3350a5"/>
<rect x="613.05" y="218.85" width="7.20" height="6.95" fill="#3350a5"/>
<rect x="613.05" y="226.50" width="7.20" height="6.95" fill="#3350a5"/>
<rect x="613.05" y="234.15" width="7.20" height="6.95" fill="#293f99"/>
<rect x="613.05" y="241.80" width="7.20" height="6.95" fill="#3350a5"/>
<rect x="620.95" y="218.85" width="7.20" height="6.95" fill="#5668b2"/>
<rect x="620.95" y="226.50" width="7.20" height="6.95" fill="#7880c0"/>
<rect x="620.95" y="234.15" width="7.20" height="6.95" fill="#3350a5"/>
<rect x="620.95" y="241.80" width="7.20" height="6.95" fill="#3350a5"/>
<rect x="628.85" y="218.85" width="7.20" height="6.95" fill="#aab0d8"/>
<rect x="628.85" y="226.50" width="7.20" height="6.95" fill="#aab0d8"/>
<rect x="628.85" y="234.15" width="7.20" height="6.95" fill="#fef3da"/>
<rect x="628.85" y="241.80" width="7.20" height="6.95" fill="#fde4a2"/>
<rect x="636.75" y="218.85" width="7.20" height="6.95" fill="#3350a5"/>
<rect x="636.75" y="226.50" width="7.20" height="6.95" fill="#3350a5"/>
<rect x="636.75" y="234.15" width="7.20" height="6.95" fill="#1f3290"/>
<rect x="636.75" y="241.80" width="7.20" height="6.95" fill="#3350a5"/>
<rect x="644.65" y="218.85" width="7.20" height="6.95" fill="#fdcd4c"/>
<rect x="644.65" y="226.50" width="7.20" height="6.95" fill="#f9ad22"/>
<rect x="644.65" y="234.15" width="7.20" height="6.95" fill="#fbc31a"/>
<rect x="644.65" y="241.80" width="7.20" height="6.95" fill="#dadcef"/>
<rect x="652.55" y="218.85" width="7.20" height="6.95" fill="#fef3da"/>
<rect x="652.55" y="226.50" width="7.20" height="6.95" fill="#dadcef"/>
<rect x="652.55" y="234.15" width="7.20" height="6.95" fill="#fdcd4c"/>
<rect x="652.55" y="241.80" width="7.20" height="6.95" fill="#fef3da"/>
<line x1="580.70" y1="249.60" x2="660.50" y2="249.60" stroke="#333" stroke-width="1.0"/>
<line x1="585.05" y1="249.60" x2="585.05" y2="251.40" stroke="#333" stroke-width="0.8"/>
<text x="587.75" y="254.80" font-size="7.6" text-anchor="end" font-style="italic" transform="rotate(-90 587.75 254.80)">COX7C</text>
<line x1="592.95" y1="249.60" x2="592.95" y2="251.40" stroke="#333" stroke-width="0.8"/>
<text x="595.65" y="254.80" font-size="7.6" text-anchor="end" font-style="italic" transform="rotate(-90 595.65 254.80)">COX5B</text>
<line x1="600.85" y1="249.60" x2="600.85" y2="251.40" stroke="#333" stroke-width="0.8"/>
<text x="603.55" y="254.80" font-size="7.6" text-anchor="end" font-style="italic" transform="rotate(-90 603.55 254.80)">COX6B1</text>
<line x1="608.75" y1="249.60" x2="608.75" y2="251.40" stroke="#333" stroke-width="0.8"/>
<text x="611.45" y="254.80" font-size="7.6" text-anchor="end" font-style="italic" transform="rotate(-90 611.45 254.80)">COX7B</text>
<line x1="616.65" y1="249.60" x2="616.65" y2="251.40" stroke="#333" stroke-width="0.8"/>
<text x="619.35" y="254.80" font-size="7.6" text-anchor="end" font-style="italic" transform="rotate(-90 619.35 254.80)">COX5A</text>
<line x1="624.55" y1="249.60" x2="624.55" y2="251.40" stroke="#333" stroke-width="0.8"/>
<text x="627.25" y="254.80" font-size="7.6" text-anchor="end" font-style="italic" transform="rotate(-90 627.25 254.80)">COX7A2</text>
<line x1="632.45" y1="249.60" x2="632.45" y2="251.40" stroke="#333" stroke-width="0.8"/>
<text x="635.15" y="254.80" font-size="7.6" text-anchor="end" font-style="italic" transform="rotate(-90 635.15 254.80)">COX15</text>
<line x1="640.35" y1="249.60" x2="640.35" y2="251.40" stroke="#333" stroke-width="0.8"/>
<text x="643.05" y="254.80" font-size="7.6" text-anchor="end" font-style="italic" transform="rotate(-90 643.05 254.80)">COX10</text>
<line x1="648.25" y1="249.60" x2="648.25" y2="251.40" stroke="#333" stroke-width="0.8"/>
<text x="650.95" y="254.80" font-size="7.6" text-anchor="end" font-style="italic" transform="rotate(-90 650.95 254.80)">COX19</text>
<line x1="656.15" y1="249.60" x2="656.15" y2="251.40" stroke="#333" stroke-width="0.8"/>
<text x="658.85" y="254.80" font-size="7.6" text-anchor="end" font-style="italic" transform="rotate(-90 658.85 254.80)">COX18</text>
<rect x="321.20" y="209.40" width="159.10" height="8.80" fill="#fff" stroke="#222" stroke-width="0.9"/>
<line x1="321.20" y1="217.90" x2="480.30" y2="217.90" stroke="#999" stroke-width="1.2"/>
<text x="400.75" y="216.00" font-size="7.6" text-anchor="middle">Complex I</text>
<rect x="484.10" y="209.40" width="32.40" height="8.80" fill="#fff" stroke="#222" stroke-width="0.9"/>
<line x1="484.10" y1="217.90" x2="516.50" y2="217.90" stroke="#999" stroke-width="1.2"/>
<text x="500.30" y="216.00" font-size="6.4" text-anchor="middle" letter-spacing="-0.25">Complex II</text>
<rect x="520.40" y="209.40" width="56.20" height="8.80" fill="#fff" stroke="#222" stroke-width="0.9"/>
<line x1="520.40" y1="217.90" x2="576.60" y2="217.90" stroke="#999" stroke-width="1.2"/>
<text x="548.50" y="216.00" font-size="7.6" text-anchor="middle">Complex III</text>
<rect x="580.60" y="209.40" width="80.00" height="8.80" fill="#fff" stroke="#222" stroke-width="0.9"/>
<line x1="580.60" y1="217.90" x2="660.60" y2="217.90" stroke="#999" stroke-width="1.2"/>
<text x="620.60" y="216.00" font-size="7.6" text-anchor="middle">Complex IV</text>
<text x="316.00" y="226.20" font-size="8.45" text-anchor="end">No stimulant</text>
<text x="316.00" y="233.20" font-size="8.45" text-anchor="end">P3C</text>
<text x="316.00" y="240.20" font-size="8.45" text-anchor="end">TNFα</text>
<text x="316.00" y="247.20" font-size="8.45" text-anchor="end">TNFα+P3C</text>
<rect x="321.20" y="308.70" width="332.39" height="31.08" fill="#dcdeec"/>
<rect x="321.95" y="309.35" width="7.19" height="6.92" fill="#fef3da"/>
<rect x="321.95" y="316.97" width="7.19" height="6.92" fill="#3350a5"/>
<rect x="321.95" y="324.59" width="7.19" height="6.92" fill="#aab0d8"/>
<rect x="321.95" y="332.21" width="7.19" height="6.92" fill="#fde4a2"/>
<rect x="329.85" y="309.35" width="7.19" height="6.92" fill="#293f99"/>
<rect x="329.85" y="316.97" width="7.19" height="6.92" fill="#3350a5"/>
<rect x="329.85" y="324.59" width="7.19" height="6.92" fill="#293f99"/>
<rect x="329.85" y="332.21" width="7.19" height="6.92" fill="#293f99"/>
<rect x="337.74" y="309.35" width="7.19" height="6.92" fill="#3350a5"/>
<rect x="337.74" y="316.97" width="7.19" height="6.92" fill="#3350a5"/>
<rect x="337.74" y="324.59" width="7.19" height="6.92" fill="#293f99"/>
<rect x="337.74" y="332.21" width="7.19" height="6.92" fill="#293f99"/>
<rect x="345.64" y="309.35" width="7.19" height="6.92" fill="#293f99"/>
<rect x="345.64" y="316.97" width="7.19" height="6.92" fill="#293f99"/>
<rect x="345.64" y="324.59" width="7.19" height="6.92" fill="#293f99"/>
<rect x="345.64" y="332.21" width="7.19" height="6.92" fill="#293f99"/>
<rect x="353.53" y="309.35" width="7.19" height="6.92" fill="#7880c0"/>
<rect x="353.53" y="316.97" width="7.19" height="6.92" fill="#aab0d8"/>
<rect x="353.53" y="324.59" width="7.19" height="6.92" fill="#fef3da"/>
<rect x="353.53" y="332.21" width="7.19" height="6.92" fill="#5668b2"/>
<rect x="361.43" y="309.35" width="7.19" height="6.92" fill="#7880c0"/>
<rect x="361.43" y="316.97" width="7.19" height="6.92" fill="#fef3da"/>
<rect x="361.43" y="324.59" width="7.19" height="6.92" fill="#fdcd4c"/>
<rect x="361.43" y="332.21" width="7.19" height="6.92" fill="#aab0d8"/>
<rect x="369.32" y="309.35" width="7.19" height="6.92" fill="#293f99"/>
<rect x="369.32" y="316.97" width="7.19" height="6.92" fill="#5668b2"/>
<rect x="369.32" y="324.59" width="7.19" height="6.92" fill="#3350a5"/>
<rect x="369.32" y="332.21" width="7.19" height="6.92" fill="#3350a5"/>
<rect x="377.22" y="309.35" width="7.19" height="6.92" fill="#3d57aa"/>
<rect x="377.22" y="316.97" width="7.19" height="6.92" fill="#7880c0"/>
<rect x="377.22" y="324.59" width="7.19" height="6.92" fill="#3350a5"/>
<rect x="377.22" y="332.21" width="7.19" height="6.92" fill="#3350a5"/>
<rect x="385.11" y="309.35" width="7.19" height="6.92" fill="#293f99"/>
<rect x="385.11" y="316.97" width="7.19" height="6.92" fill="#3350a5"/>
<rect x="385.11" y="324.59" width="7.19" height="6.92" fill="#293f99"/>
<rect x="385.11" y="332.21" width="7.19" height="6.92" fill="#293f99"/>
<rect x="393.01" y="309.35" width="7.19" height="6.92" fill="#fdcd4c"/>
<rect x="393.01" y="316.97" width="7.19" height="6.92" fill="#3d57aa"/>
<rect x="393.01" y="324.59" width="7.19" height="6.92" fill="#fde4a2"/>
<rect x="393.01" y="332.21" width="7.19" height="6.92" fill="#fde4a2"/>
<rect x="400.90" y="309.35" width="7.19" height="6.92" fill="#293f99"/>
<rect x="400.90" y="316.97" width="7.19" height="6.92" fill="#293f99"/>
<rect x="400.90" y="324.59" width="7.19" height="6.92" fill="#3350a5"/>
<rect x="400.90" y="332.21" width="7.19" height="6.92" fill="#3350a5"/>
<rect x="408.80" y="309.35" width="7.19" height="6.92" fill="#3350a5"/>
<rect x="408.80" y="316.97" width="7.19" height="6.92" fill="#293f99"/>
<rect x="408.80" y="324.59" width="7.19" height="6.92" fill="#293f99"/>
<rect x="408.80" y="332.21" width="7.19" height="6.92" fill="#1f3290"/>
<rect x="416.69" y="309.35" width="7.19" height="6.92" fill="#7880c0"/>
<rect x="416.69" y="316.97" width="7.19" height="6.92" fill="#3350a5"/>
<rect x="416.69" y="324.59" width="7.19" height="6.92" fill="#3350a5"/>
<rect x="416.69" y="332.21" width="7.19" height="6.92" fill="#7880c0"/>
<rect x="424.59" y="309.35" width="7.19" height="6.92" fill="#293f99"/>
<rect x="424.59" y="316.97" width="7.19" height="6.92" fill="#3350a5"/>
<rect x="424.59" y="324.59" width="7.19" height="6.92" fill="#293f99"/>
<rect x="424.59" y="332.21" width="7.19" height="6.92" fill="#3350a5"/>
<rect x="432.48" y="309.35" width="7.19" height="6.92" fill="#3350a5"/>
<rect x="432.48" y="316.97" width="7.19" height="6.92" fill="#3350a5"/>
<rect x="432.48" y="324.59" width="7.19" height="6.92" fill="#293f99"/>
<rect x="432.48" y="332.21" width="7.19" height="6.92" fill="#293f99"/>
<rect x="440.38" y="309.35" width="7.19" height="6.92" fill="#293f99"/>
<rect x="440.38" y="316.97" width="7.19" height="6.92" fill="#dadcef"/>
<rect x="440.38" y="324.59" width="7.19" height="6.92" fill="#3350a5"/>
<rect x="440.38" y="332.21" width="7.19" height="6.92" fill="#3350a5"/>
<rect x="448.27" y="309.35" width="7.19" height="6.92" fill="#3350a5"/>
<rect x="448.27" y="316.97" width="7.19" height="6.92" fill="#3350a5"/>
<rect x="448.27" y="324.59" width="7.19" height="6.92" fill="#293f99"/>
<rect x="448.27" y="332.21" width="7.19" height="6.92" fill="#293f99"/>
<rect x="456.17" y="309.35" width="7.19" height="6.92" fill="#293f99"/>
<rect x="456.17" y="316.97" width="7.19" height="6.92" fill="#3350a5"/>
<rect x="456.17" y="324.59" width="7.19" height="6.92" fill="#1f3290"/>
<rect x="456.17" y="332.21" width="7.19" height="6.92" fill="#3350a5"/>
<rect x="464.06" y="309.35" width="7.19" height="6.92" fill="#3350a5"/>
<rect x="464.06" y="316.97" width="7.19" height="6.92" fill="#3350a5"/>
<rect x="464.06" y="324.59" width="7.19" height="6.92" fill="#3350a5"/>
<rect x="464.06" y="332.21" width="7.19" height="6.92" fill="#3350a5"/>
<rect x="471.96" y="309.35" width="7.19" height="6.92" fill="#293f99"/>
<rect x="471.96" y="316.97" width="7.19" height="6.92" fill="#3350a5"/>
<rect x="471.96" y="324.59" width="7.19" height="6.92" fill="#293f99"/>
<rect x="471.96" y="332.21" width="7.19" height="6.92" fill="#293f99"/>
<rect x="479.85" y="309.35" width="7.19" height="6.92" fill="#3350a5"/>
<rect x="479.85" y="316.97" width="7.19" height="6.92" fill="#3350a5"/>
<rect x="479.85" y="324.59" width="7.19" height="6.92" fill="#293f99"/>
<rect x="479.85" y="332.21" width="7.19" height="6.92" fill="#3350a5"/>
<rect x="487.75" y="309.35" width="7.19" height="6.92" fill="#3350a5"/>
<rect x="487.75" y="316.97" width="7.19" height="6.92" fill="#3350a5"/>
<rect x="487.75" y="324.59" width="7.19" height="6.92" fill="#293f99"/>
<rect x="487.75" y="332.21" width="7.19" height="6.92" fill="#3350a5"/>
<rect x="495.64" y="309.35" width="7.19" height="6.92" fill="#3350a5"/>
<rect x="495.64" y="316.97" width="7.19" height="6.92" fill="#3350a5"/>
<rect x="495.64" y="324.59" width="7.19" height="6.92" fill="#aab0d8"/>
<rect x="495.64" y="332.21" width="7.19" height="6.92" fill="#293f99"/>
<rect x="503.54" y="309.35" width="7.19" height="6.92" fill="#fde4a2"/>
<rect x="503.54" y="316.97" width="7.19" height="6.92" fill="#aab0d8"/>
<rect x="503.54" y="324.59" width="7.19" height="6.92" fill="#fef3da"/>
<rect x="503.54" y="332.21" width="7.19" height="6.92" fill="#7880c0"/>
<rect x="511.43" y="309.35" width="7.19" height="6.92" fill="#293f99"/>
<rect x="511.43" y="316.97" width="7.19" height="6.92" fill="#3350a5"/>
<rect x="511.43" y="324.59" width="7.19" height="6.92" fill="#3350a5"/>
<rect x="511.43" y="332.21" width="7.19" height="6.92" fill="#3350a5"/>
<rect x="519.33" y="309.35" width="7.19" height="6.92" fill="#293f99"/>
<rect x="519.33" y="316.97" width="7.19" height="6.92" fill="#293f99"/>
<rect x="519.33" y="324.59" width="7.19" height="6.92" fill="#dadcef"/>
<rect x="519.33" y="332.21" width="7.19" height="6.92" fill="#dadcef"/>
<rect x="527.22" y="309.35" width="7.19" height="6.92" fill="#aab0d8"/>
<rect x="527.22" y="316.97" width="7.19" height="6.92" fill="#dadcef"/>
<rect x="527.22" y="324.59" width="7.19" height="6.92" fill="#fef3da"/>
<rect x="527.22" y="332.21" width="7.19" height="6.92" fill="#fde4a2"/>
<rect x="535.12" y="309.35" width="7.19" height="6.92" fill="#aab0d8"/>
<rect x="535.12" y="316.97" width="7.19" height="6.92" fill="#dadcef"/>
<rect x="535.12" y="324.59" width="7.19" height="6.92" fill="#3350a5"/>
<rect x="535.12" y="332.21" width="7.19" height="6.92" fill="#3350a5"/>
<rect x="543.01" y="309.35" width="7.19" height="6.92" fill="#dadcef"/>
<rect x="543.01" y="316.97" width="7.19" height="6.92" fill="#fcfcfe"/>
<rect x="543.01" y="324.59" width="7.19" height="6.92" fill="#7880c0"/>
<rect x="543.01" y="332.21" width="7.19" height="6.92" fill="#3350a5"/>
<rect x="550.91" y="309.35" width="7.19" height="6.92" fill="#3350a5"/>
<rect x="550.91" y="316.97" width="7.19" height="6.92" fill="#3350a5"/>
<rect x="550.91" y="324.59" width="7.19" height="6.92" fill="#293f99"/>
<rect x="550.91" y="332.21" width="7.19" height="6.92" fill="#3350a5"/>
<rect x="558.80" y="309.35" width="7.19" height="6.92" fill="#3350a5"/>
<rect x="558.80" y="316.97" width="7.19" height="6.92" fill="#293f99"/>
<rect x="558.80" y="324.59" width="7.19" height="6.92" fill="#dadcef"/>
<rect x="558.80" y="332.21" width="7.19" height="6.92" fill="#fef3da"/>
<rect x="566.70" y="309.35" width="7.19" height="6.92" fill="#5668b2"/>
<rect x="566.70" y="316.97" width="7.19" height="6.92" fill="#5668b2"/>
<rect x="566.70" y="324.59" width="7.19" height="6.92" fill="#fdcd4c"/>
<rect x="566.70" y="332.21" width="7.19" height="6.92" fill="#3350a5"/>
<rect x="574.59" y="309.35" width="7.19" height="6.92" fill="#3350a5"/>
<rect x="574.59" y="316.97" width="7.19" height="6.92" fill="#aab0d8"/>
<rect x="574.59" y="324.59" width="7.19" height="6.92" fill="#5668b2"/>
<rect x="574.59" y="332.21" width="7.19" height="6.92" fill="#3350a5"/>
<rect x="582.49" y="309.35" width="7.19" height="6.92" fill="#293f99"/>
<rect x="582.49" y="316.97" width="7.19" height="6.92" fill="#dadcef"/>
<rect x="582.49" y="324.59" width="7.19" height="6.92" fill="#7880c0"/>
<rect x="582.49" y="332.21" width="7.19" height="6.92" fill="#3350a5"/>
<rect x="590.38" y="309.35" width="7.19" height="6.92" fill="#7880c0"/>
<rect x="590.38" y="316.97" width="7.19" height="6.92" fill="#aab0d8"/>
<rect x="590.38" y="324.59" width="7.19" height="6.92" fill="#3350a5"/>
<rect x="590.38" y="332.21" width="7.19" height="6.92" fill="#293f99"/>
<rect x="598.27" y="309.35" width="7.19" height="6.92" fill="#3d57aa"/>
<rect x="598.27" y="316.97" width="7.19" height="6.92" fill="#7880c0"/>
<rect x="598.27" y="324.59" width="7.19" height="6.92" fill="#3350a5"/>
<rect x="598.27" y="332.21" width="7.19" height="6.92" fill="#293f99"/>
<rect x="606.17" y="309.35" width="7.19" height="6.92" fill="#aab0d8"/>
<rect x="606.17" y="316.97" width="7.19" height="6.92" fill="#fde4a2"/>
<rect x="606.17" y="324.59" width="7.19" height="6.92" fill="#3d57aa"/>
<rect x="606.17" y="332.21" width="7.19" height="6.92" fill="#fde4a2"/>
<rect x="614.07" y="309.35" width="7.19" height="6.92" fill="#aab0d8"/>
<rect x="614.07" y="316.97" width="7.19" height="6.92" fill="#7880c0"/>
<rect x="614.07" y="324.59" width="7.19" height="6.92" fill="#fef3da"/>
<rect x="614.07" y="332.21" width="7.19" height="6.92" fill="#7880c0"/>
<rect x="621.96" y="309.35" width="7.19" height="6.92" fill="#fde4a2"/>
<rect x="621.96" y="316.97" width="7.19" height="6.92" fill="#7880c0"/>
<rect x="621.96" y="324.59" width="7.19" height="6.92" fill="#aab0d8"/>
<rect x="621.96" y="332.21" width="7.19" height="6.92" fill="#fef3da"/>
<rect x="629.86" y="309.35" width="7.19" height="6.92" fill="#7880c0"/>
<rect x="629.86" y="316.97" width="7.19" height="6.92" fill="#fcfcfe"/>
<rect x="629.86" y="324.59" width="7.19" height="6.92" fill="#dadcef"/>
<rect x="629.86" y="332.21" width="7.19" height="6.92" fill="#5668b2"/>
<rect x="637.75" y="309.35" width="7.19" height="6.92" fill="#fde4a2"/>
<rect x="637.75" y="316.97" width="7.19" height="6.92" fill="#fbc31a"/>
<rect x="637.75" y="324.59" width="7.19" height="6.92" fill="#aab0d8"/>
<rect x="637.75" y="332.21" width="7.19" height="6.92" fill="#aab0d8"/>
<rect x="645.65" y="309.35" width="7.19" height="6.92" fill="#fde4a2"/>
<rect x="645.65" y="316.97" width="7.19" height="6.92" fill="#fef3da"/>
<rect x="645.65" y="324.59" width="7.19" height="6.92" fill="#fef3da"/>
<rect x="645.65" y="332.21" width="7.19" height="6.92" fill="#fef3da"/>
<line x1="321.30" y1="309.00" x2="321.30" y2="340.08" stroke="#555" stroke-width="0.9"/>
<line x1="319.20" y1="312.81" x2="321.30" y2="312.81" stroke="#333" stroke-width="0.9"/>
<line x1="319.20" y1="320.43" x2="321.30" y2="320.43" stroke="#333" stroke-width="0.9"/>
<line x1="319.20" y1="328.05" x2="321.30" y2="328.05" stroke="#333" stroke-width="0.9"/>
<line x1="319.20" y1="335.67" x2="321.30" y2="335.67" stroke="#333" stroke-width="0.9"/>
<line x1="321.20" y1="339.98" x2="653.59" y2="339.98" stroke="#333" stroke-width="1.0"/>
<line x1="325.55" y1="339.98" x2="325.55" y2="341.78" stroke="#333" stroke-width="0.8"/>
<text x="328.25" y="345.18" font-size="7.6" text-anchor="end" font-style="italic" transform="rotate(-90 328.25 345.18)">RPL3</text>
<line x1="333.44" y1="339.98" x2="333.44" y2="341.78" stroke="#333" stroke-width="0.8"/>
<text x="336.14" y="345.18" font-size="7.6" text-anchor="end" font-style="italic" transform="rotate(-90 336.14 345.18)">RPL35A</text>
<line x1="341.34" y1="339.98" x2="341.34" y2="341.78" stroke="#333" stroke-width="0.8"/>
<text x="344.04" y="345.18" font-size="7.6" text-anchor="end" font-style="italic" transform="rotate(-90 344.04 345.18)">RPL9</text>
<line x1="349.23" y1="339.98" x2="349.23" y2="341.78" stroke="#333" stroke-width="0.8"/>
<text x="351.93" y="345.18" font-size="7.6" text-anchor="end" font-style="italic" transform="rotate(-90 351.93 345.18)">RPL22</text>
<line x1="357.13" y1="339.98" x2="357.13" y2="341.78" stroke="#333" stroke-width="0.8"/>
<text x="359.83" y="345.18" font-size="7.6" text-anchor="end" font-style="italic" transform="rotate(-90 359.83 345.18)">RPL6</text>
<line x1="365.02" y1="339.98" x2="365.02" y2="341.78" stroke="#333" stroke-width="0.8"/>
<text x="367.72" y="345.18" font-size="7.6" text-anchor="end" font-style="italic" transform="rotate(-90 367.72 345.18)">RPLP0</text>
<line x1="372.92" y1="339.98" x2="372.92" y2="341.78" stroke="#333" stroke-width="0.8"/>
<text x="375.62" y="345.18" font-size="7.6" text-anchor="end" font-style="italic" transform="rotate(-90 375.62 345.18)">RPL17</text>
<line x1="380.81" y1="339.98" x2="380.81" y2="341.78" stroke="#333" stroke-width="0.8"/>
<text x="383.51" y="345.18" font-size="7.6" text-anchor="end" font-style="italic" transform="rotate(-90 383.51 345.18)">RPL38</text>
<line x1="388.71" y1="339.98" x2="388.71" y2="341.78" stroke="#333" stroke-width="0.8"/>
<text x="391.41" y="345.18" font-size="7.6" text-anchor="end" font-style="italic" transform="rotate(-90 391.41 345.18)">RPL19</text>
<line x1="396.60" y1="339.98" x2="396.60" y2="341.78" stroke="#333" stroke-width="0.8"/>
<text x="399.30" y="345.18" font-size="7.6" text-anchor="end" font-style="italic" transform="rotate(-90 399.30 345.18)">RPL36</text>
<line x1="404.50" y1="339.98" x2="404.50" y2="341.78" stroke="#333" stroke-width="0.8"/>
<text x="407.20" y="345.18" font-size="7.6" text-anchor="end" font-style="italic" transform="rotate(-90 407.20 345.18)">RPL30</text>
<line x1="412.39" y1="339.98" x2="412.39" y2="341.78" stroke="#333" stroke-width="0.8"/>
<text x="415.09" y="345.18" font-size="7.6" text-anchor="end" font-style="italic" transform="rotate(-90 415.09 345.18)">RPL12</text>
<line x1="420.29" y1="339.98" x2="420.29" y2="341.78" stroke="#333" stroke-width="0.8"/>
<text x="422.99" y="345.18" font-size="7.6" text-anchor="end" font-style="italic" transform="rotate(-90 422.99 345.18)">RPLP1</text>
<line x1="428.18" y1="339.98" x2="428.18" y2="341.78" stroke="#333" stroke-width="0.8"/>
<text x="430.88" y="345.18" font-size="7.6" text-anchor="end" font-style="italic" transform="rotate(-90 430.88 345.18)">RPL27</text>
<line x1="436.08" y1="339.98" x2="436.08" y2="341.78" stroke="#333" stroke-width="0.8"/>
<text x="438.78" y="345.18" font-size="7.6" text-anchor="end" font-style="italic" transform="rotate(-90 438.78 345.18)">RPL24</text>
<line x1="443.97" y1="339.98" x2="443.97" y2="341.78" stroke="#333" stroke-width="0.8"/>
<text x="446.67" y="345.18" font-size="7.6" text-anchor="end" font-style="italic" transform="rotate(-90 446.67 345.18)">RPL13A</text>
<line x1="451.87" y1="339.98" x2="451.87" y2="341.78" stroke="#333" stroke-width="0.8"/>
<text x="454.57" y="345.18" font-size="7.6" text-anchor="end" font-style="italic" transform="rotate(-90 454.57 345.18)">RPL27A</text>
<line x1="459.76" y1="339.98" x2="459.76" y2="341.78" stroke="#333" stroke-width="0.8"/>
<text x="462.46" y="345.18" font-size="7.6" text-anchor="end" font-style="italic" transform="rotate(-90 462.46 345.18)">RPL4</text>
<line x1="467.66" y1="339.98" x2="467.66" y2="341.78" stroke="#333" stroke-width="0.8"/>
<text x="470.36" y="345.18" font-size="7.6" text-anchor="end" font-style="italic" transform="rotate(-90 470.36 345.18)">RPL15</text>
<line x1="475.55" y1="339.98" x2="475.55" y2="341.78" stroke="#333" stroke-width="0.8"/>
<text x="478.25" y="345.18" font-size="7.6" text-anchor="end" font-style="italic" transform="rotate(-90 478.25 345.18)">RPL39</text>
<line x1="483.45" y1="339.98" x2="483.45" y2="341.78" stroke="#333" stroke-width="0.8"/>
<text x="486.15" y="345.18" font-size="7.6" text-anchor="end" font-style="italic" transform="rotate(-90 486.15 345.18)">RPL18A</text>
<line x1="491.34" y1="339.98" x2="491.34" y2="341.78" stroke="#333" stroke-width="0.8"/>
<text x="494.04" y="345.18" font-size="7.6" text-anchor="end" font-style="italic" transform="rotate(-90 494.04 345.18)">RPL5</text>
<line x1="499.24" y1="339.98" x2="499.24" y2="341.78" stroke="#333" stroke-width="0.8"/>
<text x="501.94" y="345.18" font-size="7.6" text-anchor="end" font-style="italic" transform="rotate(-90 501.94 345.18)">RPL31</text>
<line x1="507.13" y1="339.98" x2="507.13" y2="341.78" stroke="#333" stroke-width="0.8"/>
<text x="509.83" y="345.18" font-size="7.6" text-anchor="end" font-style="italic" transform="rotate(-90 509.83 345.18)">RPL36AL</text>
<line x1="515.03" y1="339.98" x2="515.03" y2="341.78" stroke="#333" stroke-width="0.8"/>
<text x="517.73" y="345.18" font-size="7.6" text-anchor="end" font-style="italic" transform="rotate(-90 517.73 345.18)">RPL18</text>
<line x1="522.92" y1="339.98" x2="522.92" y2="341.78" stroke="#333" stroke-width="0.8"/>
<text x="525.62" y="345.18" font-size="7.6" text-anchor="end" font-style="italic" transform="rotate(-90 525.62 345.18)">RPL37A</text>
<line x1="530.82" y1="339.98" x2="530.82" y2="341.78" stroke="#333" stroke-width="0.8"/>
<text x="533.52" y="345.18" font-size="7.6" text-anchor="end" font-style="italic" transform="rotate(-90 533.52 345.18)">RPL32</text>
<line x1="538.71" y1="339.98" x2="538.71" y2="341.78" stroke="#333" stroke-width="0.8"/>
<text x="541.41" y="345.18" font-size="7.6" text-anchor="end" font-style="italic" transform="rotate(-90 541.41 345.18)">RPL14</text>
<line x1="546.61" y1="339.98" x2="546.61" y2="341.78" stroke="#333" stroke-width="0.8"/>
<text x="549.31" y="345.18" font-size="7.6" text-anchor="end" font-style="italic" transform="rotate(-90 549.31 345.18)">RPL26L1</text>
<line x1="554.50" y1="339.98" x2="554.50" y2="341.78" stroke="#333" stroke-width="0.8"/>
<text x="557.20" y="345.18" font-size="7.6" text-anchor="end" font-style="italic" transform="rotate(-90 557.20 345.18)">RPL7</text>
<line x1="562.40" y1="339.98" x2="562.40" y2="341.78" stroke="#333" stroke-width="0.8"/>
<text x="565.10" y="345.18" font-size="7.6" text-anchor="end" font-style="italic" transform="rotate(-90 565.10 345.18)">RPL10L</text>
<line x1="570.29" y1="339.98" x2="570.29" y2="341.78" stroke="#333" stroke-width="0.8"/>
<text x="572.99" y="345.18" font-size="7.6" text-anchor="end" font-style="italic" transform="rotate(-90 572.99 345.18)">RPL36A</text>
<line x1="578.19" y1="339.98" x2="578.19" y2="341.78" stroke="#333" stroke-width="0.8"/>
<text x="580.89" y="345.18" font-size="7.6" text-anchor="end" font-style="italic" transform="rotate(-90 580.89 345.18)">RPL11</text>
<line x1="586.08" y1="339.98" x2="586.08" y2="341.78" stroke="#333" stroke-width="0.8"/>
<text x="588.78" y="345.18" font-size="7.6" text-anchor="end" font-style="italic" transform="rotate(-90 588.78 345.18)">RPL8</text>
<line x1="593.98" y1="339.98" x2="593.98" y2="341.78" stroke="#333" stroke-width="0.8"/>
<text x="596.68" y="345.18" font-size="7.6" text-anchor="end" font-style="italic" transform="rotate(-90 596.68 345.18)">RPL23A</text>
<line x1="601.87" y1="339.98" x2="601.87" y2="341.78" stroke="#333" stroke-width="0.8"/>
<text x="604.57" y="345.18" font-size="7.6" text-anchor="end" font-style="italic" transform="rotate(-90 604.57 345.18)">RPL21</text>
<line x1="609.77" y1="339.98" x2="609.77" y2="341.78" stroke="#333" stroke-width="0.8"/>
<text x="612.47" y="345.18" font-size="7.6" text-anchor="end" font-style="italic" transform="rotate(-90 612.47 345.18)">RPL13</text>
<line x1="617.66" y1="339.98" x2="617.66" y2="341.78" stroke="#333" stroke-width="0.8"/>
<text x="620.36" y="345.18" font-size="7.6" text-anchor="end" font-style="italic" transform="rotate(-90 620.36 345.18)">RPL34</text>
<line x1="625.56" y1="339.98" x2="625.56" y2="341.78" stroke="#333" stroke-width="0.8"/>
<text x="628.26" y="345.18" font-size="7.6" text-anchor="end" font-style="italic" transform="rotate(-90 628.26 345.18)">RPL41</text>
<line x1="633.45" y1="339.98" x2="633.45" y2="341.78" stroke="#333" stroke-width="0.8"/>
<text x="636.15" y="345.18" font-size="7.6" text-anchor="end" font-style="italic" transform="rotate(-90 636.15 345.18)">RPL7A</text>
<line x1="641.35" y1="339.98" x2="641.35" y2="341.78" stroke="#333" stroke-width="0.8"/>
<text x="644.05" y="345.18" font-size="7.6" text-anchor="end" font-style="italic" transform="rotate(-90 644.05 345.18)">RPL28</text>
<line x1="649.24" y1="339.98" x2="649.24" y2="341.78" stroke="#333" stroke-width="0.8"/>
<text x="651.94" y="345.18" font-size="7.6" text-anchor="end" font-style="italic" transform="rotate(-90 651.94 345.18)">RPL22L1</text>
<rect x="321.20" y="300.10" width="333.10" height="8.50" fill="#fff" stroke="#222" stroke-width="0.9"/>
<line x1="321.20" y1="308.30" x2="654.30" y2="308.30" stroke="#333" stroke-width="1.2"/>
<text x="487.75" y="306.40" font-size="7.6" text-anchor="middle">RP large subunit</text>
<text x="316.00" y="316.70" font-size="8.45" text-anchor="end">No stimulant</text>
<text x="316.00" y="323.70" font-size="8.45" text-anchor="end">P3C</text>
<text x="316.00" y="330.70" font-size="8.45" text-anchor="end">TNFα</text>
<text x="316.00" y="337.70" font-size="8.45" text-anchor="end">TNFα+P3C</text>
<rect x="321.20" y="396.10" width="198.18" height="31.20" fill="#dcdeec"/>
<rect x="321.95" y="396.75" width="7.19" height="6.95" fill="#293f99"/>
<rect x="321.95" y="404.40" width="7.19" height="6.95" fill="#3350a5"/>
<rect x="321.95" y="412.05" width="7.19" height="6.95" fill="#1f3290"/>
<rect x="321.95" y="419.70" width="7.19" height="6.95" fill="#293f99"/>
<rect x="329.85" y="396.75" width="7.19" height="6.95" fill="#293f99"/>
<rect x="329.85" y="404.40" width="7.19" height="6.95" fill="#dadcef"/>
<rect x="329.85" y="412.05" width="7.19" height="6.95" fill="#3350a5"/>
<rect x="329.85" y="419.70" width="7.19" height="6.95" fill="#3350a5"/>
<rect x="337.74" y="396.75" width="7.19" height="6.95" fill="#3350a5"/>
<rect x="337.74" y="404.40" width="7.19" height="6.95" fill="#293f99"/>
<rect x="337.74" y="412.05" width="7.19" height="6.95" fill="#293f99"/>
<rect x="337.74" y="419.70" width="7.19" height="6.95" fill="#3350a5"/>
<rect x="345.64" y="396.75" width="7.19" height="6.95" fill="#293f99"/>
<rect x="345.64" y="404.40" width="7.19" height="6.95" fill="#293f99"/>
<rect x="345.64" y="412.05" width="7.19" height="6.95" fill="#293f99"/>
<rect x="345.64" y="419.70" width="7.19" height="6.95" fill="#3350a5"/>
<rect x="353.53" y="396.75" width="7.19" height="6.95" fill="#293f99"/>
<rect x="353.53" y="404.40" width="7.19" height="6.95" fill="#3350a5"/>
<rect x="353.53" y="412.05" width="7.19" height="6.95" fill="#1f3290"/>
<rect x="353.53" y="419.70" width="7.19" height="6.95" fill="#293f99"/>
<rect x="361.43" y="396.75" width="7.19" height="6.95" fill="#293f99"/>
<rect x="361.43" y="404.40" width="7.19" height="6.95" fill="#3350a5"/>
<rect x="361.43" y="412.05" width="7.19" height="6.95" fill="#1f3290"/>
<rect x="361.43" y="419.70" width="7.19" height="6.95" fill="#293f99"/>
<rect x="369.32" y="396.75" width="7.19" height="6.95" fill="#1f3290"/>
<rect x="369.32" y="404.40" width="7.19" height="6.95" fill="#fdcd4c"/>
<rect x="369.32" y="412.05" width="7.19" height="6.95" fill="#293f99"/>
<rect x="369.32" y="419.70" width="7.19" height="6.95" fill="#3350a5"/>
<rect x="377.22" y="396.75" width="7.19" height="6.95" fill="#5668b2"/>
<rect x="377.22" y="404.40" width="7.19" height="6.95" fill="#dadcef"/>
<rect x="377.22" y="412.05" width="7.19" height="6.95" fill="#aab0d8"/>
<rect x="377.22" y="419.70" width="7.19" height="6.95" fill="#fde4a2"/>
<rect x="385.11" y="396.75" width="7.19" height="6.95" fill="#fde4a2"/>
<rect x="385.11" y="404.40" width="7.19" height="6.95" fill="#dadcef"/>
<rect x="385.11" y="412.05" width="7.19" height="6.95" fill="#fcfcfe"/>
<rect x="385.11" y="419.70" width="7.19" height="6.95" fill="#7880c0"/>
<rect x="393.01" y="396.75" width="7.19" height="6.95" fill="#1f3290"/>
<rect x="393.01" y="404.40" width="7.19" height="6.95" fill="#dadcef"/>
<rect x="393.01" y="412.05" width="7.19" height="6.95" fill="#293f99"/>
<rect x="393.01" y="419.70" width="7.19" height="6.95" fill="#3350a5"/>
<rect x="400.90" y="396.75" width="7.19" height="6.95" fill="#3350a5"/>
<rect x="400.90" y="404.40" width="7.19" height="6.95" fill="#3350a5"/>
<rect x="400.90" y="412.05" width="7.19" height="6.95" fill="#3350a5"/>
<rect x="400.90" y="419.70" width="7.19" height="6.95" fill="#3350a5"/>
<rect x="408.80" y="396.75" width="7.19" height="6.95" fill="#3350a5"/>
<rect x="408.80" y="404.40" width="7.19" height="6.95" fill="#3350a5"/>
<rect x="408.80" y="412.05" width="7.19" height="6.95" fill="#3350a5"/>
<rect x="408.80" y="419.70" width="7.19" height="6.95" fill="#3350a5"/>
<rect x="416.69" y="396.75" width="7.19" height="6.95" fill="#3350a5"/>
<rect x="416.69" y="404.40" width="7.19" height="6.95" fill="#3350a5"/>
<rect x="416.69" y="412.05" width="7.19" height="6.95" fill="#3350a5"/>
<rect x="416.69" y="419.70" width="7.19" height="6.95" fill="#3350a5"/>
<rect x="424.59" y="396.75" width="7.19" height="6.95" fill="#293f99"/>
<rect x="424.59" y="404.40" width="7.19" height="6.95" fill="#3350a5"/>
<rect x="424.59" y="412.05" width="7.19" height="6.95" fill="#293f99"/>
<rect x="424.59" y="419.70" width="7.19" height="6.95" fill="#293f99"/>
<rect x="432.48" y="396.75" width="7.19" height="6.95" fill="#293f99"/>
<rect x="432.48" y="404.40" width="7.19" height="6.95" fill="#293f99"/>
<rect x="432.48" y="412.05" width="7.19" height="6.95" fill="#3350a5"/>
<rect x="432.48" y="419.70" width="7.19" height="6.95" fill="#293f99"/>
<rect x="440.38" y="396.75" width="7.19" height="6.95" fill="#fde4a2"/>
<rect x="440.38" y="404.40" width="7.19" height="6.95" fill="#fde4a2"/>
<rect x="440.38" y="412.05" width="7.19" height="6.95" fill="#aab0d8"/>
<rect x="440.38" y="419.70" width="7.19" height="6.95" fill="#fdcd4c"/>
<rect x="448.27" y="396.75" width="7.19" height="6.95" fill="#7880c0"/>
<rect x="448.27" y="404.40" width="7.19" height="6.95" fill="#aab0d8"/>
<rect x="448.27" y="412.05" width="7.19" height="6.95" fill="#dadcef"/>
<rect x="448.27" y="419.70" width="7.19" height="6.95" fill="#aab0d8"/>
<rect x="456.17" y="396.75" width="7.19" height="6.95" fill="#7880c0"/>
<rect x="456.17" y="404.40" width="7.19" height="6.95" fill="#3350a5"/>
<rect x="456.17" y="412.05" width="7.19" height="6.95" fill="#3350a5"/>
<rect x="456.17" y="419.70" width="7.19" height="6.95" fill="#3350a5"/>
<rect x="464.06" y="396.75" width="7.19" height="6.95" fill="#aab0d8"/>
<rect x="464.06" y="404.40" width="7.19" height="6.95" fill="#dadcef"/>
<rect x="464.06" y="412.05" width="7.19" height="6.95" fill="#7880c0"/>
<rect x="464.06" y="419.70" width="7.19" height="6.95" fill="#aab0d8"/>
<rect x="471.96" y="396.75" width="7.19" height="6.95" fill="#aab0d8"/>
<rect x="471.96" y="404.40" width="7.19" height="6.95" fill="#7880c0"/>
<rect x="471.96" y="412.05" width="7.19" height="6.95" fill="#fef3da"/>
<rect x="471.96" y="419.70" width="7.19" height="6.95" fill="#fcfcfe"/>
<rect x="479.85" y="396.75" width="7.19" height="6.95" fill="#aab0d8"/>
<rect x="479.85" y="404.40" width="7.19" height="6.95" fill="#3350a5"/>
<rect x="479.85" y="412.05" width="7.19" height="6.95" fill="#3350a5"/>
<rect x="479.85" y="419.70" width="7.19" height="6.95" fill="#3350a5"/>
<rect x="487.75" y="396.75" width="7.19" height="6.95" fill="#fef3da"/>
<rect x="487.75" y="404.40" width="7.19" height="6.95" fill="#dadcef"/>
<rect x="487.75" y="412.05" width="7.19" height="6.95" fill="#7880c0"/>
<rect x="487.75" y="419.70" width="7.19" height="6.95" fill="#dadcef"/>
<rect x="495.64" y="396.75" width="7.19" height="6.95" fill="#3350a5"/>
<rect x="495.64" y="404.40" width="7.19" height="6.95" fill="#5668b2"/>
<rect x="495.64" y="412.05" width="7.19" height="6.95" fill="#293f99"/>
<rect x="495.64" y="419.70" width="7.19" height="6.95" fill="#3350a5"/>
<rect x="503.54" y="396.75" width="7.19" height="6.95" fill="#3350a5"/>
<rect x="503.54" y="404.40" width="7.19" height="6.95" fill="#3350a5"/>
<rect x="503.54" y="412.05" width="7.19" height="6.95" fill="#3350a5"/>
<rect x="503.54" y="419.70" width="7.19" height="6.95" fill="#7880c0"/>
<rect x="511.43" y="396.75" width="7.19" height="6.95" fill="#3350a5"/>
<rect x="511.43" y="404.40" width="7.19" height="6.95" fill="#dadcef"/>
<rect x="511.43" y="412.05" width="7.19" height="6.95" fill="#3350a5"/>
<rect x="511.43" y="419.70" width="7.19" height="6.95" fill="#fde4a2"/>
<line x1="321.30" y1="396.40" x2="321.30" y2="427.60" stroke="#555" stroke-width="0.9"/>
<line x1="319.20" y1="400.22" x2="321.30" y2="400.22" stroke="#333" stroke-width="0.9"/>
<line x1="319.20" y1="407.88" x2="321.30" y2="407.88" stroke="#333" stroke-width="0.9"/>
<line x1="319.20" y1="415.52" x2="321.30" y2="415.52" stroke="#333" stroke-width="0.9"/>
<line x1="319.20" y1="423.17" x2="321.30" y2="423.17" stroke="#333" stroke-width="0.9"/>
<line x1="321.20" y1="427.50" x2="519.38" y2="427.50" stroke="#333" stroke-width="1.0"/>
<line x1="325.55" y1="427.50" x2="325.55" y2="429.30" stroke="#333" stroke-width="0.8"/>
<text x="328.25" y="432.70" font-size="7.6" text-anchor="end" font-style="italic" transform="rotate(-90 328.25 432.70)">RPS2</text>
<line x1="333.44" y1="427.50" x2="333.44" y2="429.30" stroke="#333" stroke-width="0.8"/>
<text x="336.14" y="432.70" font-size="7.6" text-anchor="end" font-style="italic" transform="rotate(-90 336.14 432.70)">RPS11</text>
<line x1="341.34" y1="427.50" x2="341.34" y2="429.30" stroke="#333" stroke-width="0.8"/>
<text x="344.04" y="432.70" font-size="7.6" text-anchor="end" font-style="italic" transform="rotate(-90 344.04 432.70)">RPS15A</text>
<line x1="349.23" y1="427.50" x2="349.23" y2="429.30" stroke="#333" stroke-width="0.8"/>
<text x="351.93" y="432.70" font-size="7.6" text-anchor="end" font-style="italic" transform="rotate(-90 351.93 432.70)">RPS13</text>
<line x1="357.13" y1="427.50" x2="357.13" y2="429.30" stroke="#333" stroke-width="0.8"/>
<text x="359.83" y="432.70" font-size="7.6" text-anchor="end" font-style="italic" transform="rotate(-90 359.83 432.70)">RPS18</text>
<line x1="365.02" y1="427.50" x2="365.02" y2="429.30" stroke="#333" stroke-width="0.8"/>
<text x="367.72" y="432.70" font-size="7.6" text-anchor="end" font-style="italic" transform="rotate(-90 367.72 432.70)">RPS5</text>
<line x1="372.92" y1="427.50" x2="372.92" y2="429.30" stroke="#333" stroke-width="0.8"/>
<text x="375.62" y="432.70" font-size="7.6" text-anchor="end" font-style="italic" transform="rotate(-90 375.62 432.70)">RPS3</text>
<line x1="380.81" y1="427.50" x2="380.81" y2="429.30" stroke="#333" stroke-width="0.8"/>
<text x="383.51" y="432.70" font-size="7.6" text-anchor="end" font-style="italic" transform="rotate(-90 383.51 432.70)">RPSA</text>
<line x1="388.71" y1="427.50" x2="388.71" y2="429.30" stroke="#333" stroke-width="0.8"/>
<text x="391.41" y="432.70" font-size="7.6" text-anchor="end" font-style="italic" transform="rotate(-90 391.41 432.70)">RPS29</text>
<line x1="396.60" y1="427.50" x2="396.60" y2="429.30" stroke="#333" stroke-width="0.8"/>
<text x="399.30" y="432.70" font-size="7.6" text-anchor="end" font-style="italic" transform="rotate(-90 399.30 432.70)">RPS9</text>
<line x1="404.50" y1="427.50" x2="404.50" y2="429.30" stroke="#333" stroke-width="0.8"/>
<text x="407.20" y="432.70" font-size="7.6" text-anchor="end" font-style="italic" transform="rotate(-90 407.20 432.70)">RPS21</text>
<line x1="412.39" y1="427.50" x2="412.39" y2="429.30" stroke="#333" stroke-width="0.8"/>
<text x="415.09" y="432.70" font-size="7.6" text-anchor="end" font-style="italic" transform="rotate(-90 415.09 432.70)">RPS6</text>
<line x1="420.29" y1="427.50" x2="420.29" y2="429.30" stroke="#333" stroke-width="0.8"/>
<text x="422.99" y="432.70" font-size="7.6" text-anchor="end" font-style="italic" transform="rotate(-90 422.99 432.70)">RPS12</text>
<line x1="428.18" y1="427.50" x2="428.18" y2="429.30" stroke="#333" stroke-width="0.8"/>
<text x="430.88" y="432.70" font-size="7.6" text-anchor="end" font-style="italic" transform="rotate(-90 430.88 432.70)">RPS4X</text>
<line x1="436.08" y1="427.50" x2="436.08" y2="429.30" stroke="#333" stroke-width="0.8"/>
<text x="438.78" y="432.70" font-size="7.6" text-anchor="end" font-style="italic" transform="rotate(-90 438.78 432.70)">RPS25</text>
<line x1="443.97" y1="427.50" x2="443.97" y2="429.30" stroke="#333" stroke-width="0.8"/>
<text x="446.67" y="432.70" font-size="7.6" text-anchor="end" font-style="italic" transform="rotate(-90 446.67 432.70)">RPS15</text>
<line x1="451.87" y1="427.50" x2="451.87" y2="429.30" stroke="#333" stroke-width="0.8"/>
<text x="454.57" y="432.70" font-size="7.6" text-anchor="end" font-style="italic" transform="rotate(-90 454.57 432.70)">RPS27</text>
<line x1="459.76" y1="427.50" x2="459.76" y2="429.30" stroke="#333" stroke-width="0.8"/>
<text x="462.46" y="432.70" font-size="7.6" text-anchor="end" font-style="italic" transform="rotate(-90 462.46 432.70)">RPS3A</text>
<line x1="467.66" y1="427.50" x2="467.66" y2="429.30" stroke="#333" stroke-width="0.8"/>
<text x="470.36" y="432.70" font-size="7.6" text-anchor="end" font-style="italic" transform="rotate(-90 470.36 432.70)">RPS27L</text>
<line x1="475.55" y1="427.50" x2="475.55" y2="429.30" stroke="#333" stroke-width="0.8"/>
<text x="478.25" y="432.70" font-size="7.6" text-anchor="end" font-style="italic" transform="rotate(-90 478.25 432.70)">RPS27A</text>
<line x1="483.45" y1="427.50" x2="483.45" y2="429.30" stroke="#333" stroke-width="0.8"/>
<text x="486.15" y="432.70" font-size="7.6" text-anchor="end" font-style="italic" transform="rotate(-90 486.15 432.70)">RPS17</text>
<line x1="491.34" y1="427.50" x2="491.34" y2="429.30" stroke="#333" stroke-width="0.8"/>
<text x="494.04" y="432.70" font-size="7.6" text-anchor="end" font-style="italic" transform="rotate(-90 494.04 432.70)">RPS7</text>
<line x1="499.24" y1="427.50" x2="499.24" y2="429.30" stroke="#333" stroke-width="0.8"/>
<text x="501.94" y="432.70" font-size="7.6" text-anchor="end" font-style="italic" transform="rotate(-90 501.94 432.70)">RPS28</text>
<line x1="507.13" y1="427.50" x2="507.13" y2="429.30" stroke="#333" stroke-width="0.8"/>
<text x="509.83" y="432.70" font-size="7.6" text-anchor="end" font-style="italic" transform="rotate(-90 509.83 432.70)">RPS20</text>
<line x1="515.03" y1="427.50" x2="515.03" y2="429.30" stroke="#333" stroke-width="0.8"/>
<text x="517.73" y="432.70" font-size="7.6" text-anchor="end" font-style="italic" transform="rotate(-90 517.73 432.70)">RPS23</text>
<rect x="321.20" y="387.00" width="198.70" height="8.80" fill="#fff" stroke="#222" stroke-width="0.9"/>
<line x1="321.20" y1="395.50" x2="519.90" y2="395.50" stroke="#999" stroke-width="1.2"/>
<text x="420.55" y="393.60" font-size="7.6" text-anchor="middle">RP small subunit</text>
<text x="316.00" y="404.10" font-size="8.45" text-anchor="end">No stimulant</text>
<text x="316.00" y="411.10" font-size="8.45" text-anchor="end">P3C</text>
<text x="316.00" y="418.10" font-size="8.45" text-anchor="end">TNFα</text>
<text x="316.00" y="425.10" font-size="8.45" text-anchor="end">TNFα+P3C</text>
<defs><linearGradient id="cb1" x1="0" x2="1" y1="0" y2="0"><stop offset="0" stop-color="#1a237e"/><stop offset="0.5" stop-color="#233590"/><stop offset="0.75" stop-color="#3a52a6"/><stop offset="0.9" stop-color="#6f81c0"/><stop offset="1" stop-color="#ffffff"/></linearGradient><linearGradient id="cb2" x1="0" x2="1" y1="0" y2="0"><stop offset="0" stop-color="#ffffff"/><stop offset="0.1" stop-color="#ffd54a"/><stop offset="0.3" stop-color="#ffc21a"/><stop offset="0.5" stop-color="#fd9d20"/><stop offset="0.75" stop-color="#f97030"/><stop offset="1" stop-color="#e8353e"/></linearGradient></defs>
<rect x="551.70" y="422.40" width="46.90" height="4.30" fill="url(#cb1)"/>
<rect x="598.60" y="422.40" width="48.40" height="4.30" fill="url(#cb2)"/>
<line x1="575.20" y1="422.20" x2="575.20" y2="426.90" stroke="#fff" stroke-width="0.8"/>
<line x1="622.50" y1="422.20" x2="622.50" y2="426.90" stroke="#fff" stroke-width="0.8"/>
<text x="552.50" y="439.60" font-size="7.7" text-anchor="middle">−1.50</text>
<text x="575.50" y="439.60" font-size="7.7" text-anchor="middle">−0.75</text>
<text x="598.90" y="439.60" font-size="7.7" text-anchor="middle">0.00</text>
<text x="622.50" y="439.60" font-size="7.7" text-anchor="middle">0.75</text>
<text x="646.10" y="439.60" font-size="7.7" text-anchor="middle">1.50</text>
<text x="598.80" y="405.60" font-size="7.5" text-anchor="middle">log<tspan font-size="5.2" dy="2.2">2</tspan><tspan dy="-2.2"> fold change</tspan></text>
<text x="599.00" y="414.60" font-size="7.5" text-anchor="middle">(with/without PGE<tspan font-size="5.2" dy="2.2">2</tspan><tspan dy="-2.2">)</tspan></text>
</svg></body></html>
